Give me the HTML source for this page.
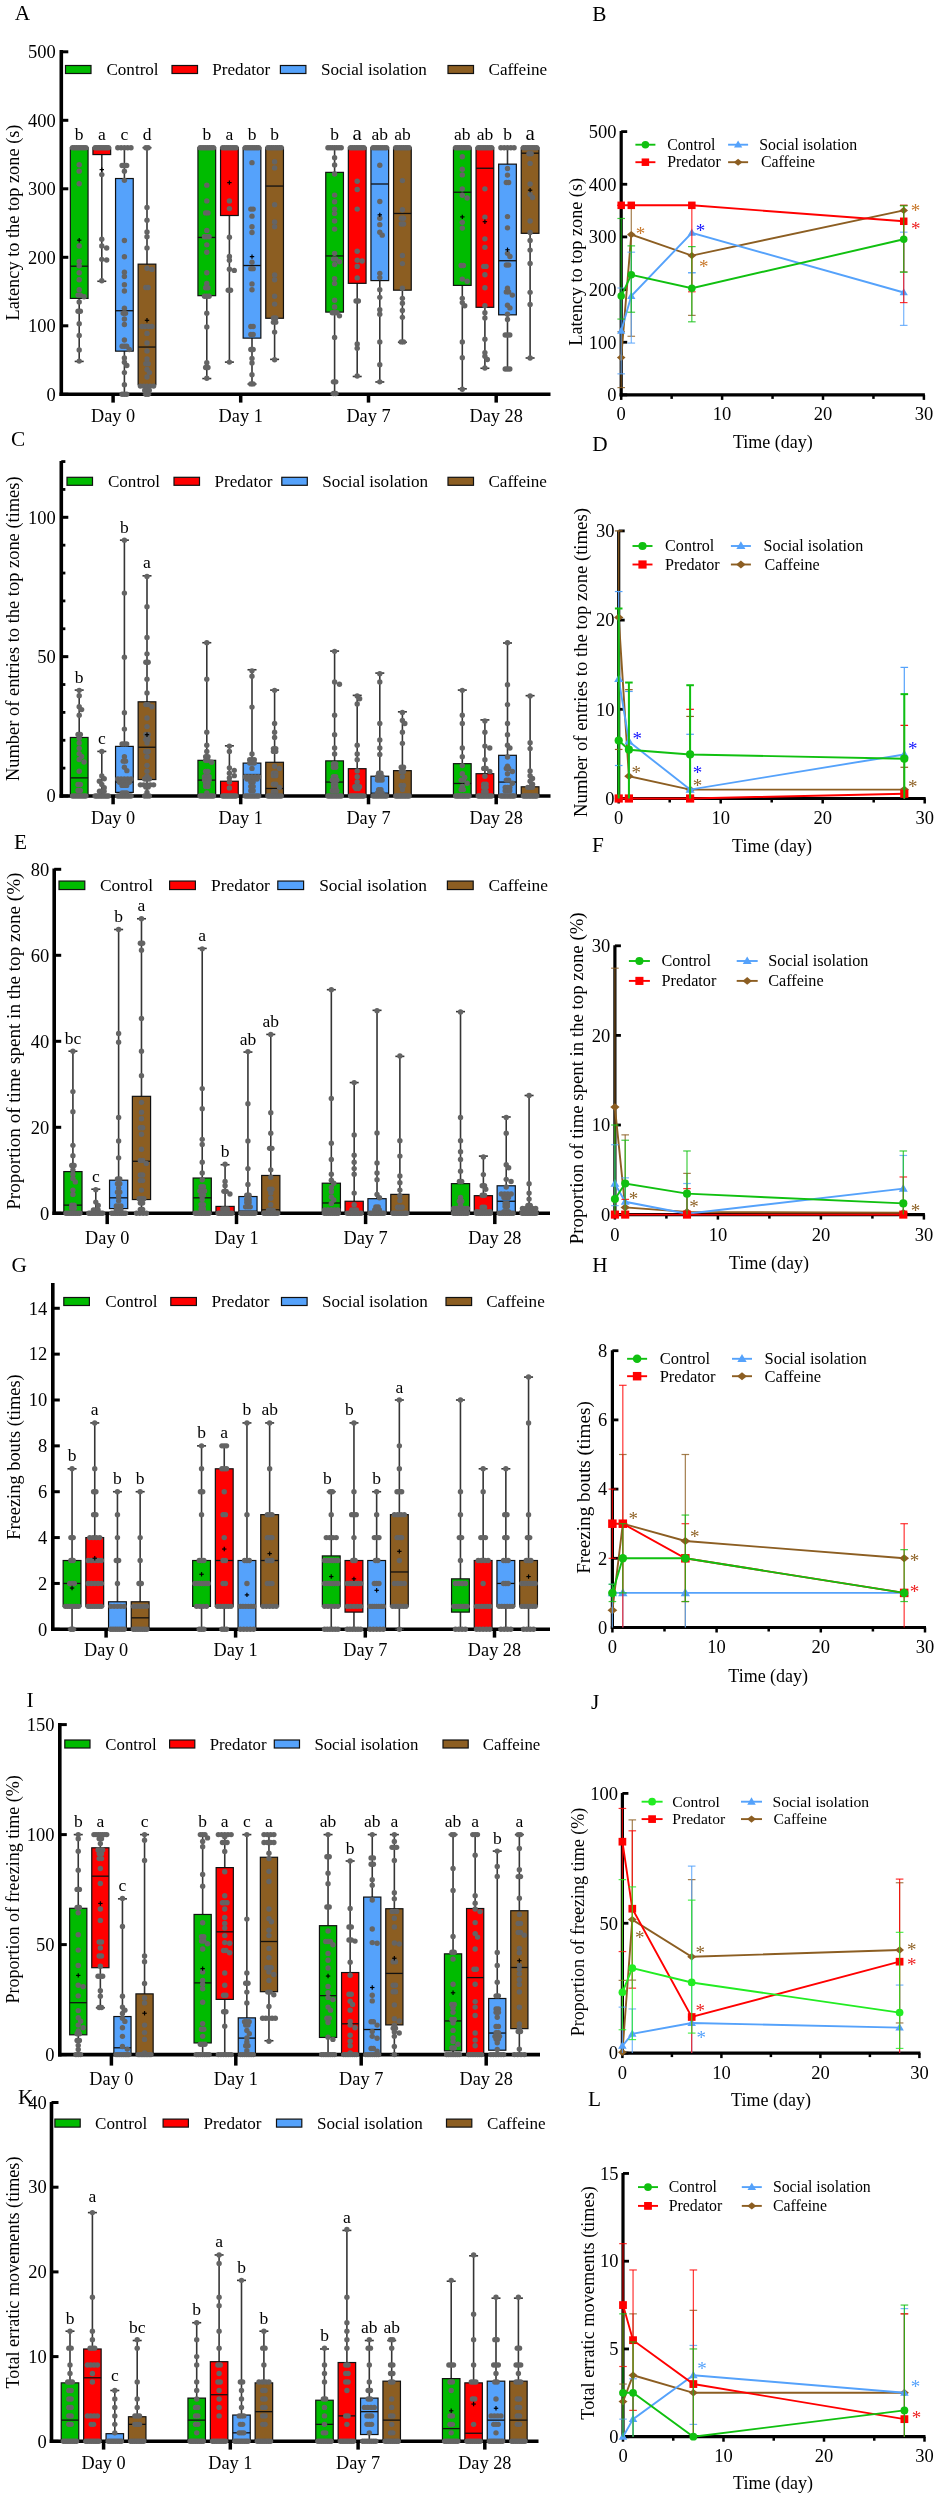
<!DOCTYPE html>
<html><head><meta charset="utf-8"><style>
html,body{margin:0;padding:0;background:#fff;}
svg{display:block;font-family:"Liberation Serif", serif;filter:blur(0.4px);}
</style></head><body>
<svg width="940" height="2500" viewBox="0 0 940 2500">
<rect width="940" height="2500" fill="#fff"/>
<line x1="61.3" y1="50" x2="61.3" y2="396.1" stroke="#000" stroke-width="3.6" />
<line x1="59.5" y1="394.3" x2="550.5" y2="394.3" stroke="#000" stroke-width="3.6" />
<line x1="113.1" y1="394.3" x2="113.1" y2="402.6" stroke="#000" stroke-width="3.5" />
<line x1="240.7" y1="394.3" x2="240.7" y2="402.6" stroke="#000" stroke-width="3.5" />
<line x1="368.5" y1="394.3" x2="368.5" y2="402.6" stroke="#000" stroke-width="3.5" />
<line x1="496.2" y1="394.3" x2="496.2" y2="402.6" stroke="#000" stroke-width="3.5" />
<line x1="79.2" y1="147.7" x2="79.2" y2="361.42" stroke="#353535" stroke-width="1.6" />
<line x1="74.7" y1="147.7" x2="83.7" y2="147.7" stroke="#353535" stroke-width="1.6" />
<line x1="74.7" y1="361.42" x2="83.7" y2="361.42" stroke="#353535" stroke-width="1.6" />
<rect x="70.35" y="147.7" width="17.7" height="150.7" fill="#00bb00" stroke="#111" stroke-width="1.2"/>
<line x1="70.35" y1="266.21" x2="88.05" y2="266.21" stroke="#111" stroke-width="1.3" />
<circle cx="72.55" cy="147.7" r="2.7" fill="#646464"/>
<circle cx="74.45" cy="147.7" r="2.7" fill="#646464"/>
<circle cx="76.35" cy="147.7" r="2.7" fill="#646464"/>
<circle cx="78.25" cy="147.7" r="2.7" fill="#646464"/>
<circle cx="80.15" cy="147.7" r="2.7" fill="#646464"/>
<circle cx="82.05" cy="147.7" r="2.7" fill="#646464"/>
<circle cx="83.95" cy="147.7" r="2.7" fill="#646464"/>
<circle cx="85.85" cy="147.7" r="2.7" fill="#646464"/>
<circle cx="79.2" cy="164.82" r="2.7" fill="#646464"/>
<circle cx="79.2" cy="171.13" r="2.7" fill="#646464"/>
<circle cx="79.2" cy="183.8" r="2.7" fill="#646464"/>
<circle cx="79.2" cy="245.93" r="2.7" fill="#646464"/>
<circle cx="79.2" cy="261.41" r="2.7" fill="#646464"/>
<circle cx="79.2" cy="265.86" r="2.7" fill="#646464"/>
<circle cx="79.2" cy="272.78" r="2.7" fill="#646464"/>
<circle cx="79.2" cy="279.7" r="2.7" fill="#646464"/>
<circle cx="79.2" cy="289.77" r="2.7" fill="#646464"/>
<circle cx="78.05" cy="295.11" r="2.7" fill="#646464"/>
<circle cx="80.35" cy="295.11" r="2.7" fill="#646464"/>
<circle cx="84.06" cy="296.69" r="2.7" fill="#646464"/>
<circle cx="79.2" cy="302.03" r="2.7" fill="#646464"/>
<circle cx="78.05" cy="311.28" r="2.7" fill="#646464"/>
<circle cx="80.35" cy="311.28" r="2.7" fill="#646464"/>
<circle cx="79.2" cy="323.81" r="2.7" fill="#646464"/>
<circle cx="79.2" cy="335.53" r="2.7" fill="#646464"/>
<circle cx="79.2" cy="349.91" r="2.7" fill="#646464"/>
<circle cx="79.2" cy="361.08" r="2.7" fill="#646464"/>
<line x1="77" y1="240.18" x2="81.4" y2="240.18" stroke="#000" stroke-width="1.2" />
<line x1="79.2" y1="237.98" x2="79.2" y2="242.38" stroke="#000" stroke-width="1.2" />
<text x="79.2" y="140.2" font-size="17.5" text-anchor="middle" fill="#000" >b</text>
<line x1="101.8" y1="147.7" x2="101.8" y2="281.27" stroke="#353535" stroke-width="1.6" />
<line x1="97.3" y1="147.7" x2="106.3" y2="147.7" stroke="#353535" stroke-width="1.6" />
<line x1="97.3" y1="281.27" x2="106.3" y2="281.27" stroke="#353535" stroke-width="1.6" />
<rect x="92.95" y="147.7" width="17.7" height="6.85" fill="#ff0000" stroke="#111" stroke-width="1.2"/>
<line x1="92.95" y1="147.7" x2="110.65" y2="147.7" stroke="#111" stroke-width="1.3" />
<circle cx="95.15" cy="147.7" r="2.7" fill="#646464"/>
<circle cx="96.81" cy="147.7" r="2.7" fill="#646464"/>
<circle cx="98.47" cy="147.7" r="2.7" fill="#646464"/>
<circle cx="100.14" cy="147.7" r="2.7" fill="#646464"/>
<circle cx="101.8" cy="147.7" r="2.7" fill="#646464"/>
<circle cx="103.46" cy="147.7" r="2.7" fill="#646464"/>
<circle cx="105.12" cy="147.7" r="2.7" fill="#646464"/>
<circle cx="106.79" cy="147.7" r="2.7" fill="#646464"/>
<circle cx="108.45" cy="147.7" r="2.7" fill="#646464"/>
<circle cx="101.8" cy="174.62" r="2.7" fill="#646464"/>
<circle cx="101.8" cy="239.15" r="2.7" fill="#646464"/>
<circle cx="101.8" cy="245.93" r="2.7" fill="#646464"/>
<circle cx="106.66" cy="247.98" r="2.7" fill="#646464"/>
<circle cx="101.8" cy="259.36" r="2.7" fill="#646464"/>
<circle cx="106.66" cy="260.04" r="2.7" fill="#646464"/>
<circle cx="101.8" cy="280.73" r="2.7" fill="#646464"/>
<line x1="99.6" y1="169.62" x2="104" y2="169.62" stroke="#000" stroke-width="1.2" />
<line x1="101.8" y1="167.42" x2="101.8" y2="171.82" stroke="#000" stroke-width="1.2" />
<text x="101.8" y="140.2" font-size="17.5" text-anchor="middle" fill="#000" >a</text>
<line x1="124.4" y1="147.7" x2="124.4" y2="394.3" stroke="#353535" stroke-width="1.6" />
<line x1="119.9" y1="147.7" x2="128.9" y2="147.7" stroke="#353535" stroke-width="1.6" />
<line x1="119.9" y1="394.3" x2="128.9" y2="394.3" stroke="#353535" stroke-width="1.6" />
<rect x="115.55" y="178.53" width="17.7" height="172.62" fill="#55a2fb" stroke="#111" stroke-width="1.2"/>
<line x1="115.55" y1="310.73" x2="133.25" y2="310.73" stroke="#111" stroke-width="1.3" />
<circle cx="117.8" cy="147.7" r="2.7" fill="#646464"/>
<circle cx="121.1" cy="147.7" r="2.7" fill="#646464"/>
<circle cx="124.4" cy="147.7" r="2.7" fill="#646464"/>
<circle cx="127.7" cy="147.7" r="2.7" fill="#646464"/>
<circle cx="131" cy="147.7" r="2.7" fill="#646464"/>
<circle cx="122.1" cy="165.51" r="2.7" fill="#646464"/>
<circle cx="124.4" cy="165.51" r="2.7" fill="#646464"/>
<circle cx="126.7" cy="165.51" r="2.7" fill="#646464"/>
<circle cx="124.4" cy="171.13" r="2.7" fill="#646464"/>
<circle cx="124.4" cy="180.37" r="2.7" fill="#646464"/>
<circle cx="124.4" cy="240.52" r="2.7" fill="#646464"/>
<circle cx="124.4" cy="256.82" r="2.7" fill="#646464"/>
<circle cx="124.4" cy="272.23" r="2.7" fill="#646464"/>
<circle cx="124.4" cy="276.48" r="2.7" fill="#646464"/>
<circle cx="124.4" cy="284.7" r="2.7" fill="#646464"/>
<circle cx="124.4" cy="291.07" r="2.7" fill="#646464"/>
<circle cx="124.4" cy="308.13" r="2.7" fill="#646464"/>
<circle cx="123.25" cy="313.2" r="2.7" fill="#646464"/>
<circle cx="125.55" cy="313.2" r="2.7" fill="#646464"/>
<circle cx="124.4" cy="319.02" r="2.7" fill="#646464"/>
<circle cx="124.4" cy="324.43" r="2.7" fill="#646464"/>
<circle cx="124.4" cy="339.98" r="2.7" fill="#646464"/>
<circle cx="122.1" cy="346.21" r="2.7" fill="#646464"/>
<circle cx="124.4" cy="346.21" r="2.7" fill="#646464"/>
<circle cx="126.7" cy="346.21" r="2.7" fill="#646464"/>
<circle cx="129.26" cy="349.43" r="2.7" fill="#646464"/>
<circle cx="124.4" cy="357.93" r="2.7" fill="#646464"/>
<circle cx="124.4" cy="362.31" r="2.7" fill="#646464"/>
<circle cx="126.83" cy="365.53" r="2.7" fill="#646464"/>
<circle cx="124.4" cy="372.59" r="2.7" fill="#646464"/>
<circle cx="124.4" cy="384.71" r="2.7" fill="#646464"/>
<circle cx="122.1" cy="394.3" r="2.7" fill="#646464"/>
<circle cx="124.4" cy="394.3" r="2.7" fill="#646464"/>
<circle cx="126.7" cy="394.3" r="2.7" fill="#646464"/>
<text x="124.4" y="140.2" font-size="17.5" text-anchor="middle" fill="#000" >c</text>
<line x1="147" y1="147.7" x2="147" y2="394.3" stroke="#353535" stroke-width="1.6" />
<line x1="142.5" y1="147.7" x2="151.5" y2="147.7" stroke="#353535" stroke-width="1.6" />
<line x1="142.5" y1="394.3" x2="151.5" y2="394.3" stroke="#353535" stroke-width="1.6" />
<rect x="138.15" y="264.15" width="17.7" height="120.56" fill="#8c5e22" stroke="#111" stroke-width="1.2"/>
<line x1="138.15" y1="347.04" x2="155.85" y2="347.04" stroke="#111" stroke-width="1.3" />
<circle cx="145.85" cy="147.7" r="2.7" fill="#646464"/>
<circle cx="148.15" cy="147.7" r="2.7" fill="#646464"/>
<circle cx="147" cy="207.57" r="2.7" fill="#646464"/>
<circle cx="147" cy="220.31" r="2.7" fill="#646464"/>
<circle cx="147" cy="231.96" r="2.7" fill="#646464"/>
<circle cx="147" cy="236.75" r="2.7" fill="#646464"/>
<circle cx="147" cy="247.98" r="2.7" fill="#646464"/>
<circle cx="147" cy="268.26" r="2.7" fill="#646464"/>
<circle cx="151.86" cy="269.42" r="2.7" fill="#646464"/>
<circle cx="145.85" cy="287.44" r="2.7" fill="#646464"/>
<circle cx="148.15" cy="287.44" r="2.7" fill="#646464"/>
<circle cx="142.05" cy="326.49" r="2.7" fill="#646464"/>
<circle cx="145.35" cy="326.49" r="2.7" fill="#646464"/>
<circle cx="148.65" cy="326.49" r="2.7" fill="#646464"/>
<circle cx="151.95" cy="326.49" r="2.7" fill="#646464"/>
<circle cx="147" cy="333.4" r="2.7" fill="#646464"/>
<circle cx="147" cy="342.99" r="2.7" fill="#646464"/>
<circle cx="147" cy="351.01" r="2.7" fill="#646464"/>
<circle cx="147" cy="358.89" r="2.7" fill="#646464"/>
<circle cx="145.85" cy="363.68" r="2.7" fill="#646464"/>
<circle cx="148.15" cy="363.68" r="2.7" fill="#646464"/>
<circle cx="147" cy="369.57" r="2.7" fill="#646464"/>
<circle cx="149.43" cy="372.59" r="2.7" fill="#646464"/>
<circle cx="147" cy="376.97" r="2.7" fill="#646464"/>
<circle cx="140.4" cy="386.08" r="2.7" fill="#646464"/>
<circle cx="143.7" cy="386.08" r="2.7" fill="#646464"/>
<circle cx="147" cy="386.08" r="2.7" fill="#646464"/>
<circle cx="150.3" cy="386.08" r="2.7" fill="#646464"/>
<circle cx="153.6" cy="386.08" r="2.7" fill="#646464"/>
<circle cx="144.7" cy="390.33" r="2.7" fill="#646464"/>
<circle cx="147" cy="390.33" r="2.7" fill="#646464"/>
<circle cx="149.3" cy="390.33" r="2.7" fill="#646464"/>
<circle cx="145.85" cy="394.3" r="2.7" fill="#646464"/>
<circle cx="148.15" cy="394.3" r="2.7" fill="#646464"/>
<line x1="144.8" y1="320.32" x2="149.2" y2="320.32" stroke="#000" stroke-width="1.2" />
<line x1="147" y1="318.12" x2="147" y2="322.52" stroke="#000" stroke-width="1.2" />
<text x="147" y="140.2" font-size="17.5" text-anchor="middle" fill="#000" >d</text>
<line x1="206.8" y1="147.7" x2="206.8" y2="378.55" stroke="#353535" stroke-width="1.6" />
<line x1="202.3" y1="147.7" x2="211.3" y2="147.7" stroke="#353535" stroke-width="1.6" />
<line x1="202.3" y1="378.55" x2="211.3" y2="378.55" stroke="#353535" stroke-width="1.6" />
<rect x="197.95" y="147.7" width="17.7" height="147.96" fill="#00bb00" stroke="#111" stroke-width="1.2"/>
<line x1="197.95" y1="237.44" x2="215.65" y2="237.44" stroke="#111" stroke-width="1.3" />
<circle cx="200.15" cy="147.7" r="2.7" fill="#646464"/>
<circle cx="202.05" cy="147.7" r="2.7" fill="#646464"/>
<circle cx="203.95" cy="147.7" r="2.7" fill="#646464"/>
<circle cx="205.85" cy="147.7" r="2.7" fill="#646464"/>
<circle cx="207.75" cy="147.7" r="2.7" fill="#646464"/>
<circle cx="209.65" cy="147.7" r="2.7" fill="#646464"/>
<circle cx="211.55" cy="147.7" r="2.7" fill="#646464"/>
<circle cx="213.45" cy="147.7" r="2.7" fill="#646464"/>
<circle cx="206.8" cy="185.17" r="2.7" fill="#646464"/>
<circle cx="206.8" cy="200.92" r="2.7" fill="#646464"/>
<circle cx="205.65" cy="212.91" r="2.7" fill="#646464"/>
<circle cx="207.95" cy="212.91" r="2.7" fill="#646464"/>
<circle cx="206.8" cy="230.38" r="2.7" fill="#646464"/>
<circle cx="204.5" cy="236.75" r="2.7" fill="#646464"/>
<circle cx="206.8" cy="236.75" r="2.7" fill="#646464"/>
<circle cx="209.1" cy="236.75" r="2.7" fill="#646464"/>
<circle cx="206.8" cy="244.83" r="2.7" fill="#646464"/>
<circle cx="206.8" cy="252.23" r="2.7" fill="#646464"/>
<circle cx="206.8" cy="272.78" r="2.7" fill="#646464"/>
<circle cx="206.8" cy="283.4" r="2.7" fill="#646464"/>
<circle cx="205.65" cy="287.71" r="2.7" fill="#646464"/>
<circle cx="207.95" cy="287.71" r="2.7" fill="#646464"/>
<circle cx="204.5" cy="296.21" r="2.7" fill="#646464"/>
<circle cx="206.8" cy="296.21" r="2.7" fill="#646464"/>
<circle cx="209.1" cy="296.21" r="2.7" fill="#646464"/>
<circle cx="206.8" cy="313.2" r="2.7" fill="#646464"/>
<circle cx="206.8" cy="327.03" r="2.7" fill="#646464"/>
<circle cx="206.8" cy="362.72" r="2.7" fill="#646464"/>
<circle cx="205.65" cy="367.45" r="2.7" fill="#646464"/>
<circle cx="207.95" cy="367.45" r="2.7" fill="#646464"/>
<circle cx="206.8" cy="378.27" r="2.7" fill="#646464"/>
<text x="206.8" y="140.2" font-size="17.5" text-anchor="middle" fill="#000" >b</text>
<line x1="229.4" y1="147.7" x2="229.4" y2="362.11" stroke="#353535" stroke-width="1.6" />
<line x1="224.9" y1="147.7" x2="233.9" y2="147.7" stroke="#353535" stroke-width="1.6" />
<line x1="224.9" y1="362.11" x2="233.9" y2="362.11" stroke="#353535" stroke-width="1.6" />
<rect x="220.55" y="147.7" width="17.7" height="67.81" fill="#ff0000" stroke="#111" stroke-width="1.2"/>
<line x1="220.55" y1="147.7" x2="238.25" y2="147.7" stroke="#111" stroke-width="1.3" />
<circle cx="222.75" cy="147.7" r="2.7" fill="#646464"/>
<circle cx="224.65" cy="147.7" r="2.7" fill="#646464"/>
<circle cx="226.55" cy="147.7" r="2.7" fill="#646464"/>
<circle cx="228.45" cy="147.7" r="2.7" fill="#646464"/>
<circle cx="230.35" cy="147.7" r="2.7" fill="#646464"/>
<circle cx="232.25" cy="147.7" r="2.7" fill="#646464"/>
<circle cx="234.15" cy="147.7" r="2.7" fill="#646464"/>
<circle cx="236.05" cy="147.7" r="2.7" fill="#646464"/>
<circle cx="229.4" cy="200.92" r="2.7" fill="#646464"/>
<circle cx="229.4" cy="208.6" r="2.7" fill="#646464"/>
<circle cx="229.4" cy="237.3" r="2.7" fill="#646464"/>
<circle cx="229.4" cy="256.48" r="2.7" fill="#646464"/>
<circle cx="229.4" cy="260.18" r="2.7" fill="#646464"/>
<circle cx="229.4" cy="269.29" r="2.7" fill="#646464"/>
<circle cx="234.26" cy="270.38" r="2.7" fill="#646464"/>
<circle cx="228.25" cy="290.32" r="2.7" fill="#646464"/>
<circle cx="230.55" cy="290.32" r="2.7" fill="#646464"/>
<circle cx="229.4" cy="362.11" r="2.7" fill="#646464"/>
<line x1="227.2" y1="182.63" x2="231.6" y2="182.63" stroke="#000" stroke-width="1.2" />
<line x1="229.4" y1="180.44" x2="229.4" y2="184.83" stroke="#000" stroke-width="1.2" />
<text x="229.4" y="140.2" font-size="17.5" text-anchor="middle" fill="#000" >a</text>
<line x1="252" y1="147.7" x2="252" y2="384.03" stroke="#353535" stroke-width="1.6" />
<line x1="247.5" y1="147.7" x2="256.5" y2="147.7" stroke="#353535" stroke-width="1.6" />
<line x1="247.5" y1="384.03" x2="256.5" y2="384.03" stroke="#353535" stroke-width="1.6" />
<rect x="243.15" y="147.7" width="17.7" height="190.43" fill="#55a2fb" stroke="#111" stroke-width="1.2"/>
<line x1="243.15" y1="265.52" x2="260.85" y2="265.52" stroke="#111" stroke-width="1.3" />
<circle cx="245.35" cy="147.7" r="2.7" fill="#646464"/>
<circle cx="247.25" cy="147.7" r="2.7" fill="#646464"/>
<circle cx="249.15" cy="147.7" r="2.7" fill="#646464"/>
<circle cx="251.05" cy="147.7" r="2.7" fill="#646464"/>
<circle cx="252.95" cy="147.7" r="2.7" fill="#646464"/>
<circle cx="254.85" cy="147.7" r="2.7" fill="#646464"/>
<circle cx="256.75" cy="147.7" r="2.7" fill="#646464"/>
<circle cx="258.65" cy="147.7" r="2.7" fill="#646464"/>
<circle cx="252" cy="162.63" r="2.7" fill="#646464"/>
<circle cx="250.85" cy="209.08" r="2.7" fill="#646464"/>
<circle cx="253.15" cy="209.08" r="2.7" fill="#646464"/>
<circle cx="252" cy="216.13" r="2.7" fill="#646464"/>
<circle cx="252" cy="226.68" r="2.7" fill="#646464"/>
<circle cx="252" cy="232.57" r="2.7" fill="#646464"/>
<circle cx="252" cy="262.3" r="2.7" fill="#646464"/>
<circle cx="250.85" cy="268.67" r="2.7" fill="#646464"/>
<circle cx="253.15" cy="268.67" r="2.7" fill="#646464"/>
<circle cx="252" cy="283.88" r="2.7" fill="#646464"/>
<circle cx="252" cy="289.77" r="2.7" fill="#646464"/>
<circle cx="250.85" cy="326.49" r="2.7" fill="#646464"/>
<circle cx="253.15" cy="326.49" r="2.7" fill="#646464"/>
<circle cx="250.85" cy="334.5" r="2.7" fill="#646464"/>
<circle cx="253.15" cy="334.5" r="2.7" fill="#646464"/>
<circle cx="250.85" cy="349.43" r="2.7" fill="#646464"/>
<circle cx="253.15" cy="349.43" r="2.7" fill="#646464"/>
<circle cx="252" cy="358.41" r="2.7" fill="#646464"/>
<circle cx="252" cy="363" r="2.7" fill="#646464"/>
<circle cx="252" cy="374.71" r="2.7" fill="#646464"/>
<circle cx="250.85" cy="383.89" r="2.7" fill="#646464"/>
<circle cx="253.15" cy="383.89" r="2.7" fill="#646464"/>
<line x1="249.8" y1="256.62" x2="254.2" y2="256.62" stroke="#000" stroke-width="1.2" />
<line x1="252" y1="254.42" x2="252" y2="258.81" stroke="#000" stroke-width="1.2" />
<text x="252" y="140.2" font-size="17.5" text-anchor="middle" fill="#000" >b</text>
<line x1="274.6" y1="147.7" x2="274.6" y2="359.37" stroke="#353535" stroke-width="1.6" />
<line x1="270.1" y1="147.7" x2="279.1" y2="147.7" stroke="#353535" stroke-width="1.6" />
<line x1="270.1" y1="359.37" x2="279.1" y2="359.37" stroke="#353535" stroke-width="1.6" />
<rect x="265.75" y="147.7" width="17.7" height="170.56" fill="#8c5e22" stroke="#111" stroke-width="1.2"/>
<line x1="265.75" y1="186.06" x2="283.45" y2="186.06" stroke="#111" stroke-width="1.3" />
<circle cx="267.95" cy="147.7" r="2.7" fill="#646464"/>
<circle cx="269.85" cy="147.7" r="2.7" fill="#646464"/>
<circle cx="271.75" cy="147.7" r="2.7" fill="#646464"/>
<circle cx="273.65" cy="147.7" r="2.7" fill="#646464"/>
<circle cx="275.55" cy="147.7" r="2.7" fill="#646464"/>
<circle cx="277.45" cy="147.7" r="2.7" fill="#646464"/>
<circle cx="279.35" cy="147.7" r="2.7" fill="#646464"/>
<circle cx="281.25" cy="147.7" r="2.7" fill="#646464"/>
<circle cx="274.6" cy="161.81" r="2.7" fill="#646464"/>
<circle cx="274.6" cy="167.91" r="2.7" fill="#646464"/>
<circle cx="274.6" cy="204.69" r="2.7" fill="#646464"/>
<circle cx="274.6" cy="221.89" r="2.7" fill="#646464"/>
<circle cx="274.6" cy="226.68" r="2.7" fill="#646464"/>
<circle cx="274.6" cy="274.9" r="2.7" fill="#646464"/>
<circle cx="274.6" cy="279.7" r="2.7" fill="#646464"/>
<circle cx="274.6" cy="296.21" r="2.7" fill="#646464"/>
<circle cx="274.6" cy="304.09" r="2.7" fill="#646464"/>
<circle cx="273.45" cy="317.99" r="2.7" fill="#646464"/>
<circle cx="275.75" cy="317.99" r="2.7" fill="#646464"/>
<circle cx="273.45" cy="322.17" r="2.7" fill="#646464"/>
<circle cx="275.75" cy="322.17" r="2.7" fill="#646464"/>
<circle cx="274.6" cy="332.1" r="2.7" fill="#646464"/>
<circle cx="274.6" cy="359.78" r="2.7" fill="#646464"/>
<text x="274.6" y="140.2" font-size="17.5" text-anchor="middle" fill="#000" >b</text>
<line x1="334.6" y1="147.7" x2="334.6" y2="394.3" stroke="#353535" stroke-width="1.6" />
<line x1="330.1" y1="147.7" x2="339.1" y2="147.7" stroke="#353535" stroke-width="1.6" />
<line x1="330.1" y1="394.3" x2="339.1" y2="394.3" stroke="#353535" stroke-width="1.6" />
<rect x="325.75" y="172.36" width="17.7" height="139.74" fill="#00bb00" stroke="#111" stroke-width="1.2"/>
<line x1="325.75" y1="255.93" x2="343.45" y2="255.93" stroke="#111" stroke-width="1.3" />
<circle cx="327.95" cy="147.7" r="2.7" fill="#646464"/>
<circle cx="330.17" cy="147.7" r="2.7" fill="#646464"/>
<circle cx="332.38" cy="147.7" r="2.7" fill="#646464"/>
<circle cx="334.6" cy="147.7" r="2.7" fill="#646464"/>
<circle cx="336.82" cy="147.7" r="2.7" fill="#646464"/>
<circle cx="339.03" cy="147.7" r="2.7" fill="#646464"/>
<circle cx="341.25" cy="147.7" r="2.7" fill="#646464"/>
<circle cx="334.6" cy="157.63" r="2.7" fill="#646464"/>
<circle cx="334.6" cy="165.03" r="2.7" fill="#646464"/>
<circle cx="334.6" cy="174" r="2.7" fill="#646464"/>
<circle cx="334.6" cy="195.1" r="2.7" fill="#646464"/>
<circle cx="334.6" cy="201.68" r="2.7" fill="#646464"/>
<circle cx="334.6" cy="209.08" r="2.7" fill="#646464"/>
<circle cx="334.6" cy="213.39" r="2.7" fill="#646464"/>
<circle cx="334.6" cy="221.06" r="2.7" fill="#646464"/>
<circle cx="334.6" cy="229.08" r="2.7" fill="#646464"/>
<circle cx="334.6" cy="253.33" r="2.7" fill="#646464"/>
<circle cx="333.45" cy="259.08" r="2.7" fill="#646464"/>
<circle cx="335.75" cy="259.08" r="2.7" fill="#646464"/>
<circle cx="339.46" cy="261.82" r="2.7" fill="#646464"/>
<circle cx="334.6" cy="264.49" r="2.7" fill="#646464"/>
<circle cx="334.6" cy="278.6" r="2.7" fill="#646464"/>
<circle cx="334.6" cy="283.4" r="2.7" fill="#646464"/>
<circle cx="334.6" cy="300.18" r="2.7" fill="#646464"/>
<circle cx="334.6" cy="307.03" r="2.7" fill="#646464"/>
<circle cx="332.3" cy="312.72" r="2.7" fill="#646464"/>
<circle cx="334.6" cy="312.72" r="2.7" fill="#646464"/>
<circle cx="336.9" cy="312.72" r="2.7" fill="#646464"/>
<circle cx="339.46" cy="315.87" r="2.7" fill="#646464"/>
<circle cx="334.6" cy="337.38" r="2.7" fill="#646464"/>
<circle cx="333.45" cy="381.83" r="2.7" fill="#646464"/>
<circle cx="335.75" cy="381.83" r="2.7" fill="#646464"/>
<circle cx="333.45" cy="393.48" r="2.7" fill="#646464"/>
<circle cx="335.75" cy="393.48" r="2.7" fill="#646464"/>
<text x="334.6" y="140.2" font-size="17.5" text-anchor="middle" fill="#000" >b</text>
<line x1="357.2" y1="147.7" x2="357.2" y2="376.49" stroke="#353535" stroke-width="1.6" />
<line x1="352.7" y1="147.7" x2="361.7" y2="147.7" stroke="#353535" stroke-width="1.6" />
<line x1="352.7" y1="376.49" x2="361.7" y2="376.49" stroke="#353535" stroke-width="1.6" />
<rect x="348.35" y="147.7" width="17.7" height="135.63" fill="#ff0000" stroke="#111" stroke-width="1.2"/>
<line x1="348.35" y1="147.7" x2="366.05" y2="147.7" stroke="#111" stroke-width="1.3" />
<circle cx="350.55" cy="147.7" r="2.7" fill="#646464"/>
<circle cx="352.45" cy="147.7" r="2.7" fill="#646464"/>
<circle cx="354.35" cy="147.7" r="2.7" fill="#646464"/>
<circle cx="356.25" cy="147.7" r="2.7" fill="#646464"/>
<circle cx="358.15" cy="147.7" r="2.7" fill="#646464"/>
<circle cx="360.05" cy="147.7" r="2.7" fill="#646464"/>
<circle cx="361.95" cy="147.7" r="2.7" fill="#646464"/>
<circle cx="363.85" cy="147.7" r="2.7" fill="#646464"/>
<circle cx="357.2" cy="181.26" r="2.7" fill="#646464"/>
<circle cx="357.2" cy="189.48" r="2.7" fill="#646464"/>
<circle cx="357.2" cy="209.08" r="2.7" fill="#646464"/>
<circle cx="357.2" cy="251.2" r="2.7" fill="#646464"/>
<circle cx="357.2" cy="260.18" r="2.7" fill="#646464"/>
<circle cx="362.06" cy="261.07" r="2.7" fill="#646464"/>
<circle cx="357.2" cy="266.41" r="2.7" fill="#646464"/>
<circle cx="357.2" cy="277.92" r="2.7" fill="#646464"/>
<circle cx="356.05" cy="301" r="2.7" fill="#646464"/>
<circle cx="358.35" cy="301" r="2.7" fill="#646464"/>
<circle cx="357.2" cy="344.02" r="2.7" fill="#646464"/>
<circle cx="357.2" cy="348.27" r="2.7" fill="#646464"/>
<circle cx="357.2" cy="376.01" r="2.7" fill="#646464"/>
<text x="357.2" y="140.2" font-size="21" text-anchor="middle" fill="#000" >a</text>
<line x1="379.8" y1="147.7" x2="379.8" y2="381.97" stroke="#353535" stroke-width="1.6" />
<line x1="375.3" y1="147.7" x2="384.3" y2="147.7" stroke="#353535" stroke-width="1.6" />
<line x1="375.3" y1="381.97" x2="384.3" y2="381.97" stroke="#353535" stroke-width="1.6" />
<rect x="370.95" y="147.7" width="17.7" height="132.89" fill="#55a2fb" stroke="#111" stroke-width="1.2"/>
<line x1="370.95" y1="184" x2="388.65" y2="184" stroke="#111" stroke-width="1.3" />
<circle cx="373.15" cy="147.7" r="2.7" fill="#646464"/>
<circle cx="375.05" cy="147.7" r="2.7" fill="#646464"/>
<circle cx="376.95" cy="147.7" r="2.7" fill="#646464"/>
<circle cx="378.85" cy="147.7" r="2.7" fill="#646464"/>
<circle cx="380.75" cy="147.7" r="2.7" fill="#646464"/>
<circle cx="382.65" cy="147.7" r="2.7" fill="#646464"/>
<circle cx="384.55" cy="147.7" r="2.7" fill="#646464"/>
<circle cx="386.45" cy="147.7" r="2.7" fill="#646464"/>
<circle cx="379.8" cy="165.3" r="2.7" fill="#646464"/>
<circle cx="379.8" cy="201.47" r="2.7" fill="#646464"/>
<circle cx="379.8" cy="218.19" r="2.7" fill="#646464"/>
<circle cx="379.8" cy="224.63" r="2.7" fill="#646464"/>
<circle cx="379.8" cy="232.3" r="2.7" fill="#646464"/>
<circle cx="382.23" cy="235.17" r="2.7" fill="#646464"/>
<circle cx="379.8" cy="273.33" r="2.7" fill="#646464"/>
<circle cx="379.8" cy="277.58" r="2.7" fill="#646464"/>
<circle cx="379.8" cy="289.63" r="2.7" fill="#646464"/>
<circle cx="379.8" cy="297.37" r="2.7" fill="#646464"/>
<circle cx="379.8" cy="309.77" r="2.7" fill="#646464"/>
<circle cx="379.8" cy="314.29" r="2.7" fill="#646464"/>
<circle cx="379.8" cy="341.9" r="2.7" fill="#646464"/>
<circle cx="379.8" cy="364.78" r="2.7" fill="#646464"/>
<circle cx="379.8" cy="381.83" r="2.7" fill="#646464"/>
<line x1="377.6" y1="214.83" x2="382" y2="214.83" stroke="#000" stroke-width="1.2" />
<line x1="379.8" y1="212.63" x2="379.8" y2="217.03" stroke="#000" stroke-width="1.2" />
<text x="379.8" y="140.2" font-size="17.5" text-anchor="middle" fill="#000" >ab</text>
<line x1="402.4" y1="147.7" x2="402.4" y2="342.24" stroke="#353535" stroke-width="1.6" />
<line x1="397.9" y1="147.7" x2="406.9" y2="147.7" stroke="#353535" stroke-width="1.6" />
<line x1="397.9" y1="342.24" x2="406.9" y2="342.24" stroke="#353535" stroke-width="1.6" />
<rect x="393.55" y="147.7" width="17.7" height="142.48" fill="#8c5e22" stroke="#111" stroke-width="1.2"/>
<line x1="393.55" y1="213.46" x2="411.25" y2="213.46" stroke="#111" stroke-width="1.3" />
<circle cx="395.75" cy="147.7" r="2.7" fill="#646464"/>
<circle cx="397.65" cy="147.7" r="2.7" fill="#646464"/>
<circle cx="399.55" cy="147.7" r="2.7" fill="#646464"/>
<circle cx="401.45" cy="147.7" r="2.7" fill="#646464"/>
<circle cx="403.35" cy="147.7" r="2.7" fill="#646464"/>
<circle cx="405.25" cy="147.7" r="2.7" fill="#646464"/>
<circle cx="407.15" cy="147.7" r="2.7" fill="#646464"/>
<circle cx="409.05" cy="147.7" r="2.7" fill="#646464"/>
<circle cx="402.4" cy="180.58" r="2.7" fill="#646464"/>
<circle cx="402.4" cy="209.69" r="2.7" fill="#646464"/>
<circle cx="401.25" cy="218.19" r="2.7" fill="#646464"/>
<circle cx="403.55" cy="218.19" r="2.7" fill="#646464"/>
<circle cx="401.25" cy="224.01" r="2.7" fill="#646464"/>
<circle cx="403.55" cy="224.01" r="2.7" fill="#646464"/>
<circle cx="402.4" cy="255.38" r="2.7" fill="#646464"/>
<circle cx="402.4" cy="263.6" r="2.7" fill="#646464"/>
<circle cx="402.4" cy="288.19" r="2.7" fill="#646464"/>
<circle cx="402.4" cy="298.33" r="2.7" fill="#646464"/>
<circle cx="402.4" cy="303.13" r="2.7" fill="#646464"/>
<circle cx="402.4" cy="310.52" r="2.7" fill="#646464"/>
<circle cx="402.4" cy="317.37" r="2.7" fill="#646464"/>
<circle cx="401.25" cy="341.9" r="2.7" fill="#646464"/>
<circle cx="403.55" cy="341.9" r="2.7" fill="#646464"/>
<text x="402.4" y="140.2" font-size="17.5" text-anchor="middle" fill="#000" >ab</text>
<line x1="462.3" y1="147.7" x2="462.3" y2="388.82" stroke="#353535" stroke-width="1.6" />
<line x1="457.8" y1="147.7" x2="466.8" y2="147.7" stroke="#353535" stroke-width="1.6" />
<line x1="457.8" y1="388.82" x2="466.8" y2="388.82" stroke="#353535" stroke-width="1.6" />
<rect x="453.45" y="147.7" width="17.7" height="137.69" fill="#00bb00" stroke="#111" stroke-width="1.2"/>
<line x1="453.45" y1="192.22" x2="471.15" y2="192.22" stroke="#111" stroke-width="1.3" />
<circle cx="455.65" cy="147.7" r="2.7" fill="#646464"/>
<circle cx="457.55" cy="147.7" r="2.7" fill="#646464"/>
<circle cx="459.45" cy="147.7" r="2.7" fill="#646464"/>
<circle cx="461.35" cy="147.7" r="2.7" fill="#646464"/>
<circle cx="463.25" cy="147.7" r="2.7" fill="#646464"/>
<circle cx="465.15" cy="147.7" r="2.7" fill="#646464"/>
<circle cx="467.05" cy="147.7" r="2.7" fill="#646464"/>
<circle cx="468.95" cy="147.7" r="2.7" fill="#646464"/>
<circle cx="462.3" cy="156.81" r="2.7" fill="#646464"/>
<circle cx="462.3" cy="169.28" r="2.7" fill="#646464"/>
<circle cx="462.3" cy="174.89" r="2.7" fill="#646464"/>
<circle cx="462.3" cy="188.87" r="2.7" fill="#646464"/>
<circle cx="462.3" cy="195.31" r="2.7" fill="#646464"/>
<circle cx="467.16" cy="197.98" r="2.7" fill="#646464"/>
<circle cx="462.3" cy="222.37" r="2.7" fill="#646464"/>
<circle cx="462.3" cy="228.12" r="2.7" fill="#646464"/>
<circle cx="461.15" cy="265.52" r="2.7" fill="#646464"/>
<circle cx="463.45" cy="265.52" r="2.7" fill="#646464"/>
<circle cx="462.3" cy="279.08" r="2.7" fill="#646464"/>
<circle cx="467.16" cy="281.27" r="2.7" fill="#646464"/>
<circle cx="462.3" cy="298.33" r="2.7" fill="#646464"/>
<circle cx="462.3" cy="302.58" r="2.7" fill="#646464"/>
<circle cx="464.73" cy="305.73" r="2.7" fill="#646464"/>
<circle cx="462.3" cy="341.9" r="2.7" fill="#646464"/>
<circle cx="462.3" cy="357.72" r="2.7" fill="#646464"/>
<circle cx="462.3" cy="389.3" r="2.7" fill="#646464"/>
<line x1="460.1" y1="216.88" x2="464.5" y2="216.88" stroke="#000" stroke-width="1.2" />
<line x1="462.3" y1="214.69" x2="462.3" y2="219.08" stroke="#000" stroke-width="1.2" />
<text x="462.3" y="140.2" font-size="17.5" text-anchor="middle" fill="#000" >ab</text>
<line x1="484.9" y1="147.7" x2="484.9" y2="368.27" stroke="#353535" stroke-width="1.6" />
<line x1="480.4" y1="147.7" x2="489.4" y2="147.7" stroke="#353535" stroke-width="1.6" />
<line x1="480.4" y1="368.27" x2="489.4" y2="368.27" stroke="#353535" stroke-width="1.6" />
<rect x="476.05" y="147.7" width="17.7" height="159.61" fill="#ff0000" stroke="#111" stroke-width="1.2"/>
<line x1="476.05" y1="168.25" x2="493.75" y2="168.25" stroke="#111" stroke-width="1.3" />
<circle cx="478.25" cy="147.7" r="2.7" fill="#646464"/>
<circle cx="480.15" cy="147.7" r="2.7" fill="#646464"/>
<circle cx="482.05" cy="147.7" r="2.7" fill="#646464"/>
<circle cx="483.95" cy="147.7" r="2.7" fill="#646464"/>
<circle cx="485.85" cy="147.7" r="2.7" fill="#646464"/>
<circle cx="487.75" cy="147.7" r="2.7" fill="#646464"/>
<circle cx="489.65" cy="147.7" r="2.7" fill="#646464"/>
<circle cx="491.55" cy="147.7" r="2.7" fill="#646464"/>
<circle cx="484.9" cy="188.87" r="2.7" fill="#646464"/>
<circle cx="484.9" cy="217.09" r="2.7" fill="#646464"/>
<circle cx="484.9" cy="238.87" r="2.7" fill="#646464"/>
<circle cx="484.9" cy="247.37" r="2.7" fill="#646464"/>
<circle cx="483.75" cy="266.41" r="2.7" fill="#646464"/>
<circle cx="486.05" cy="266.41" r="2.7" fill="#646464"/>
<circle cx="484.9" cy="274.7" r="2.7" fill="#646464"/>
<circle cx="484.9" cy="287.71" r="2.7" fill="#646464"/>
<circle cx="484.9" cy="305.73" r="2.7" fill="#646464"/>
<circle cx="484.9" cy="312.72" r="2.7" fill="#646464"/>
<circle cx="484.9" cy="317.99" r="2.7" fill="#646464"/>
<circle cx="484.9" cy="339.29" r="2.7" fill="#646464"/>
<circle cx="484.9" cy="352.58" r="2.7" fill="#646464"/>
<circle cx="484.9" cy="356.28" r="2.7" fill="#646464"/>
<circle cx="487.33" cy="359.5" r="2.7" fill="#646464"/>
<circle cx="484.9" cy="368" r="2.7" fill="#646464"/>
<line x1="482.7" y1="221.68" x2="487.1" y2="221.68" stroke="#000" stroke-width="1.2" />
<line x1="484.9" y1="219.48" x2="484.9" y2="223.88" stroke="#000" stroke-width="1.2" />
<text x="484.9" y="140.2" font-size="17.5" text-anchor="middle" fill="#000" >ab</text>
<line x1="507.5" y1="147.7" x2="507.5" y2="368.95" stroke="#353535" stroke-width="1.6" />
<line x1="503" y1="147.7" x2="512" y2="147.7" stroke="#353535" stroke-width="1.6" />
<line x1="503" y1="368.95" x2="512" y2="368.95" stroke="#353535" stroke-width="1.6" />
<rect x="498.65" y="164.14" width="17.7" height="150.7" fill="#55a2fb" stroke="#111" stroke-width="1.2"/>
<line x1="498.65" y1="260.73" x2="516.35" y2="260.73" stroke="#111" stroke-width="1.3" />
<circle cx="500.9" cy="147.7" r="2.7" fill="#646464"/>
<circle cx="504.2" cy="147.7" r="2.7" fill="#646464"/>
<circle cx="507.5" cy="147.7" r="2.7" fill="#646464"/>
<circle cx="510.8" cy="147.7" r="2.7" fill="#646464"/>
<circle cx="514.1" cy="147.7" r="2.7" fill="#646464"/>
<circle cx="507.5" cy="168.52" r="2.7" fill="#646464"/>
<circle cx="507.5" cy="175.1" r="2.7" fill="#646464"/>
<circle cx="506.35" cy="182.57" r="2.7" fill="#646464"/>
<circle cx="508.65" cy="182.57" r="2.7" fill="#646464"/>
<circle cx="507.5" cy="216.61" r="2.7" fill="#646464"/>
<circle cx="507.5" cy="227.84" r="2.7" fill="#646464"/>
<circle cx="507.5" cy="253.33" r="2.7" fill="#646464"/>
<circle cx="509.93" cy="256.48" r="2.7" fill="#646464"/>
<circle cx="506.35" cy="264.97" r="2.7" fill="#646464"/>
<circle cx="508.65" cy="264.97" r="2.7" fill="#646464"/>
<circle cx="507.5" cy="288.19" r="2.7" fill="#646464"/>
<circle cx="506.35" cy="291.89" r="2.7" fill="#646464"/>
<circle cx="508.65" cy="291.89" r="2.7" fill="#646464"/>
<circle cx="512.36" cy="295.11" r="2.7" fill="#646464"/>
<circle cx="507.5" cy="305.18" r="2.7" fill="#646464"/>
<circle cx="509.93" cy="307.92" r="2.7" fill="#646464"/>
<circle cx="507.5" cy="314.29" r="2.7" fill="#646464"/>
<circle cx="507.5" cy="319.57" r="2.7" fill="#646464"/>
<circle cx="505.2" cy="334.98" r="2.7" fill="#646464"/>
<circle cx="507.5" cy="334.98" r="2.7" fill="#646464"/>
<circle cx="509.8" cy="334.98" r="2.7" fill="#646464"/>
<circle cx="505.2" cy="369.02" r="2.7" fill="#646464"/>
<circle cx="507.5" cy="369.02" r="2.7" fill="#646464"/>
<circle cx="509.8" cy="369.02" r="2.7" fill="#646464"/>
<line x1="505.3" y1="249.76" x2="509.7" y2="249.76" stroke="#000" stroke-width="1.2" />
<line x1="507.5" y1="247.56" x2="507.5" y2="251.96" stroke="#000" stroke-width="1.2" />
<text x="507.5" y="140.2" font-size="17.5" text-anchor="middle" fill="#000" >b</text>
<line x1="530.1" y1="147.7" x2="530.1" y2="358" stroke="#353535" stroke-width="1.6" />
<line x1="525.6" y1="147.7" x2="534.6" y2="147.7" stroke="#353535" stroke-width="1.6" />
<line x1="525.6" y1="358" x2="534.6" y2="358" stroke="#353535" stroke-width="1.6" />
<rect x="521.25" y="147.7" width="17.7" height="85.62" fill="#8c5e22" stroke="#111" stroke-width="1.2"/>
<line x1="521.25" y1="153.18" x2="538.95" y2="153.18" stroke="#111" stroke-width="1.3" />
<circle cx="523.45" cy="147.7" r="2.7" fill="#646464"/>
<circle cx="525.35" cy="147.7" r="2.7" fill="#646464"/>
<circle cx="527.25" cy="147.7" r="2.7" fill="#646464"/>
<circle cx="529.15" cy="147.7" r="2.7" fill="#646464"/>
<circle cx="531.05" cy="147.7" r="2.7" fill="#646464"/>
<circle cx="532.95" cy="147.7" r="2.7" fill="#646464"/>
<circle cx="534.85" cy="147.7" r="2.7" fill="#646464"/>
<circle cx="536.75" cy="147.7" r="2.7" fill="#646464"/>
<circle cx="528.95" cy="153.8" r="2.7" fill="#646464"/>
<circle cx="531.25" cy="153.8" r="2.7" fill="#646464"/>
<circle cx="530.1" cy="163.39" r="2.7" fill="#646464"/>
<circle cx="530.1" cy="184.07" r="2.7" fill="#646464"/>
<circle cx="530.1" cy="194.28" r="2.7" fill="#646464"/>
<circle cx="532.53" cy="197.43" r="2.7" fill="#646464"/>
<circle cx="530.1" cy="220.93" r="2.7" fill="#646464"/>
<circle cx="530.1" cy="232.57" r="2.7" fill="#646464"/>
<circle cx="530.1" cy="240.52" r="2.7" fill="#646464"/>
<circle cx="530.1" cy="250.11" r="2.7" fill="#646464"/>
<circle cx="530.1" cy="263.4" r="2.7" fill="#646464"/>
<circle cx="530.1" cy="292.37" r="2.7" fill="#646464"/>
<circle cx="530.1" cy="304.5" r="2.7" fill="#646464"/>
<circle cx="530.1" cy="357.93" r="2.7" fill="#646464"/>
<line x1="527.9" y1="190.17" x2="532.3" y2="190.17" stroke="#000" stroke-width="1.2" />
<line x1="530.1" y1="187.97" x2="530.1" y2="192.37" stroke="#000" stroke-width="1.2" />
<text x="530.1" y="140.2" font-size="21" text-anchor="middle" fill="#000" >a</text>
<line x1="61.3" y1="394.3" x2="68.3" y2="394.3" stroke="#000" stroke-width="3" />
<text x="55.7" y="400.59" font-size="18.5" text-anchor="end" fill="#000" >0</text>
<line x1="61.3" y1="325.8" x2="68.3" y2="325.8" stroke="#000" stroke-width="3" />
<text x="55.7" y="332.09" font-size="18.5" text-anchor="end" fill="#000" >100</text>
<line x1="61.3" y1="257.3" x2="68.3" y2="257.3" stroke="#000" stroke-width="3" />
<text x="55.7" y="263.59" font-size="18.5" text-anchor="end" fill="#000" >200</text>
<line x1="61.3" y1="188.8" x2="68.3" y2="188.8" stroke="#000" stroke-width="3" />
<text x="55.7" y="195.09" font-size="18.5" text-anchor="end" fill="#000" >300</text>
<line x1="61.3" y1="120.3" x2="68.3" y2="120.3" stroke="#000" stroke-width="3" />
<text x="55.7" y="126.59" font-size="18.5" text-anchor="end" fill="#000" >400</text>
<line x1="61.3" y1="51.8" x2="68.3" y2="51.8" stroke="#000" stroke-width="3" />
<text x="55.7" y="58.09" font-size="18.5" text-anchor="end" fill="#000" >500</text>
<text x="113.1" y="421.8" font-size="18.3" text-anchor="middle" fill="#000" >Day 0</text>
<text x="240.7" y="421.8" font-size="18.3" text-anchor="middle" fill="#000" >Day 1</text>
<text x="368.5" y="421.8" font-size="18.3" text-anchor="middle" fill="#000" >Day 7</text>
<text x="496.2" y="421.8" font-size="18.3" text-anchor="middle" fill="#000" >Day 28</text>
<rect x="65.5" y="65.5" width="25.5" height="8" fill="#00bb00" stroke="#111" stroke-width="1.2"/>
<text x="106.4" y="75.14" font-size="17.1" text-anchor="start" fill="#000" >Control</text>
<rect x="172" y="65.5" width="25.5" height="8" fill="#ff0000" stroke="#111" stroke-width="1.2"/>
<text x="212.3" y="75.14" font-size="17.1" text-anchor="start" fill="#000" >Predator</text>
<rect x="280.4" y="65.5" width="25.5" height="8" fill="#55a2fb" stroke="#111" stroke-width="1.2"/>
<text x="320.9" y="75.14" font-size="17.1" text-anchor="start" fill="#000" >Social isolation</text>
<rect x="448" y="65.5" width="25.5" height="8" fill="#8c5e22" stroke="#111" stroke-width="1.2"/>
<text x="488.5" y="75.14" font-size="17.1" text-anchor="start" fill="#000" >Caffeine</text>
<text x="14.7" y="20.2" font-size="21.3" text-anchor="start" fill="#000" >A</text>
<text x="0" y="0" font-size="18.33" text-anchor="middle" transform="translate(18.7,222.5) rotate(-90)">Latency to the top zone (s)</text>
<line x1="61.3" y1="461" x2="61.3" y2="797.8" stroke="#000" stroke-width="3.6" />
<line x1="59.5" y1="796" x2="550.5" y2="796" stroke="#000" stroke-width="3.6" />
<line x1="113.1" y1="796" x2="113.1" y2="804.3" stroke="#000" stroke-width="3.5" />
<line x1="240.7" y1="796" x2="240.7" y2="804.3" stroke="#000" stroke-width="3.5" />
<line x1="368.5" y1="796" x2="368.5" y2="804.3" stroke="#000" stroke-width="3.5" />
<line x1="496.2" y1="796" x2="496.2" y2="804.3" stroke="#000" stroke-width="3.5" />
<line x1="79.2" y1="690.09" x2="79.2" y2="796" stroke="#353535" stroke-width="1.6" />
<line x1="74.7" y1="690.09" x2="83.7" y2="690.09" stroke="#353535" stroke-width="1.6" />
<line x1="74.7" y1="796" x2="83.7" y2="796" stroke="#353535" stroke-width="1.6" />
<rect x="70.35" y="737.47" width="17.7" height="58.53" fill="#00bb00" stroke="#111" stroke-width="1.2"/>
<line x1="70.35" y1="777.88" x2="88.05" y2="777.88" stroke="#111" stroke-width="1.3" />
<circle cx="79.2" cy="690.37" r="2.7" fill="#646464"/>
<circle cx="79.2" cy="695.67" r="2.7" fill="#646464"/>
<circle cx="79.2" cy="706.82" r="2.7" fill="#646464"/>
<circle cx="81.63" cy="709.6" r="2.7" fill="#646464"/>
<circle cx="79.2" cy="715.18" r="2.7" fill="#646464"/>
<circle cx="78.05" cy="734.41" r="2.7" fill="#646464"/>
<circle cx="80.35" cy="734.41" r="2.7" fill="#646464"/>
<circle cx="79.2" cy="738.31" r="2.7" fill="#646464"/>
<circle cx="79.2" cy="743.05" r="2.7" fill="#646464"/>
<circle cx="79.2" cy="748.34" r="2.7" fill="#646464"/>
<circle cx="79.2" cy="753.64" r="2.7" fill="#646464"/>
<circle cx="81.63" cy="756.42" r="2.7" fill="#646464"/>
<circle cx="79.2" cy="759.49" r="2.7" fill="#646464"/>
<circle cx="84.06" cy="762" r="2.7" fill="#646464"/>
<circle cx="79.2" cy="771.2" r="2.7" fill="#646464"/>
<circle cx="78.05" cy="784.57" r="2.7" fill="#646464"/>
<circle cx="80.35" cy="784.57" r="2.7" fill="#646464"/>
<circle cx="78.05" cy="790.43" r="2.7" fill="#646464"/>
<circle cx="80.35" cy="790.43" r="2.7" fill="#646464"/>
<circle cx="72.55" cy="796" r="2.7" fill="#646464"/>
<circle cx="74.45" cy="796" r="2.7" fill="#646464"/>
<circle cx="76.35" cy="796" r="2.7" fill="#646464"/>
<circle cx="78.25" cy="796" r="2.7" fill="#646464"/>
<circle cx="80.15" cy="796" r="2.7" fill="#646464"/>
<circle cx="82.05" cy="796" r="2.7" fill="#646464"/>
<circle cx="83.95" cy="796" r="2.7" fill="#646464"/>
<circle cx="85.85" cy="796" r="2.7" fill="#646464"/>
<text x="79.2" y="682.59" font-size="17.5" text-anchor="middle" fill="#000" >b</text>
<line x1="101.8" y1="751.41" x2="101.8" y2="796" stroke="#353535" stroke-width="1.6" />
<line x1="97.3" y1="751.41" x2="106.3" y2="751.41" stroke="#353535" stroke-width="1.6" />
<line x1="97.3" y1="796" x2="106.3" y2="796" stroke="#353535" stroke-width="1.6" />
<line x1="92.95" y1="796" x2="110.65" y2="796" stroke="#111" stroke-width="1.3" />
<circle cx="101.8" cy="751.41" r="2.7" fill="#646464"/>
<circle cx="101.8" cy="775.93" r="2.7" fill="#646464"/>
<circle cx="104.23" cy="778.72" r="2.7" fill="#646464"/>
<circle cx="99.37" cy="781.23" r="2.7" fill="#646464"/>
<circle cx="101.8" cy="784.57" r="2.7" fill="#646464"/>
<circle cx="104.23" cy="787.64" r="2.7" fill="#646464"/>
<circle cx="99.5" cy="791.26" r="2.7" fill="#646464"/>
<circle cx="101.8" cy="791.26" r="2.7" fill="#646464"/>
<circle cx="104.1" cy="791.26" r="2.7" fill="#646464"/>
<circle cx="95.15" cy="796" r="2.7" fill="#646464"/>
<circle cx="96.81" cy="796" r="2.7" fill="#646464"/>
<circle cx="98.47" cy="796" r="2.7" fill="#646464"/>
<circle cx="100.14" cy="796" r="2.7" fill="#646464"/>
<circle cx="101.8" cy="796" r="2.7" fill="#646464"/>
<circle cx="103.46" cy="796" r="2.7" fill="#646464"/>
<circle cx="105.12" cy="796" r="2.7" fill="#646464"/>
<circle cx="106.79" cy="796" r="2.7" fill="#646464"/>
<circle cx="108.45" cy="796" r="2.7" fill="#646464"/>
<text x="101.8" y="743.91" font-size="17.5" text-anchor="middle" fill="#000" >c</text>
<line x1="124.4" y1="540.15" x2="124.4" y2="796" stroke="#353535" stroke-width="1.6" />
<line x1="119.9" y1="540.15" x2="128.9" y2="540.15" stroke="#353535" stroke-width="1.6" />
<line x1="119.9" y1="796" x2="128.9" y2="796" stroke="#353535" stroke-width="1.6" />
<rect x="115.55" y="746.39" width="17.7" height="45.99" fill="#55a2fb" stroke="#111" stroke-width="1.2"/>
<line x1="115.55" y1="782.07" x2="133.25" y2="782.07" stroke="#111" stroke-width="1.3" />
<circle cx="124.4" cy="540.15" r="2.7" fill="#646464"/>
<circle cx="124.4" cy="593.11" r="2.7" fill="#646464"/>
<circle cx="124.4" cy="657.21" r="2.7" fill="#646464"/>
<circle cx="124.4" cy="712.67" r="2.7" fill="#646464"/>
<circle cx="124.4" cy="729.11" r="2.7" fill="#646464"/>
<circle cx="122.1" cy="743.88" r="2.7" fill="#646464"/>
<circle cx="124.4" cy="743.88" r="2.7" fill="#646464"/>
<circle cx="126.7" cy="743.88" r="2.7" fill="#646464"/>
<circle cx="124.4" cy="756.7" r="2.7" fill="#646464"/>
<circle cx="123.25" cy="761.16" r="2.7" fill="#646464"/>
<circle cx="125.55" cy="761.16" r="2.7" fill="#646464"/>
<circle cx="124.4" cy="767.29" r="2.7" fill="#646464"/>
<circle cx="126.83" cy="770.64" r="2.7" fill="#646464"/>
<circle cx="117.8" cy="779" r="2.7" fill="#646464"/>
<circle cx="121.1" cy="779" r="2.7" fill="#646464"/>
<circle cx="124.4" cy="779" r="2.7" fill="#646464"/>
<circle cx="127.7" cy="779" r="2.7" fill="#646464"/>
<circle cx="131" cy="779" r="2.7" fill="#646464"/>
<circle cx="119.45" cy="782.34" r="2.7" fill="#646464"/>
<circle cx="122.75" cy="782.34" r="2.7" fill="#646464"/>
<circle cx="126.05" cy="782.34" r="2.7" fill="#646464"/>
<circle cx="129.35" cy="782.34" r="2.7" fill="#646464"/>
<circle cx="122.1" cy="785.41" r="2.7" fill="#646464"/>
<circle cx="124.4" cy="785.41" r="2.7" fill="#646464"/>
<circle cx="126.7" cy="785.41" r="2.7" fill="#646464"/>
<circle cx="122.1" cy="792.93" r="2.7" fill="#646464"/>
<circle cx="124.4" cy="792.93" r="2.7" fill="#646464"/>
<circle cx="126.7" cy="792.93" r="2.7" fill="#646464"/>
<circle cx="117.75" cy="796" r="2.7" fill="#646464"/>
<circle cx="119.65" cy="796" r="2.7" fill="#646464"/>
<circle cx="121.55" cy="796" r="2.7" fill="#646464"/>
<circle cx="123.45" cy="796" r="2.7" fill="#646464"/>
<circle cx="125.35" cy="796" r="2.7" fill="#646464"/>
<circle cx="127.25" cy="796" r="2.7" fill="#646464"/>
<circle cx="129.15" cy="796" r="2.7" fill="#646464"/>
<circle cx="131.05" cy="796" r="2.7" fill="#646464"/>
<text x="124.4" y="532.65" font-size="17.5" text-anchor="middle" fill="#000" >b</text>
<line x1="147" y1="575.83" x2="147" y2="796" stroke="#353535" stroke-width="1.6" />
<line x1="142.5" y1="575.83" x2="151.5" y2="575.83" stroke="#353535" stroke-width="1.6" />
<line x1="142.5" y1="796" x2="151.5" y2="796" stroke="#353535" stroke-width="1.6" />
<rect x="138.15" y="701.8" width="17.7" height="77.76" fill="#8c5e22" stroke="#111" stroke-width="1.2"/>
<line x1="138.15" y1="747.23" x2="155.85" y2="747.23" stroke="#111" stroke-width="1.3" />
<circle cx="147" cy="576.38" r="2.7" fill="#646464"/>
<circle cx="147" cy="606.76" r="2.7" fill="#646464"/>
<circle cx="147" cy="637.42" r="2.7" fill="#646464"/>
<circle cx="147" cy="653.86" r="2.7" fill="#646464"/>
<circle cx="145.85" cy="662.22" r="2.7" fill="#646464"/>
<circle cx="148.15" cy="662.22" r="2.7" fill="#646464"/>
<circle cx="147" cy="679.22" r="2.7" fill="#646464"/>
<circle cx="147" cy="692.88" r="2.7" fill="#646464"/>
<circle cx="145.85" cy="704.59" r="2.7" fill="#646464"/>
<circle cx="148.15" cy="704.59" r="2.7" fill="#646464"/>
<circle cx="151.86" cy="706.82" r="2.7" fill="#646464"/>
<circle cx="147" cy="717.96" r="2.7" fill="#646464"/>
<circle cx="147" cy="726.6" r="2.7" fill="#646464"/>
<circle cx="145.85" cy="734.41" r="2.7" fill="#646464"/>
<circle cx="148.15" cy="734.41" r="2.7" fill="#646464"/>
<circle cx="145.85" cy="739.42" r="2.7" fill="#646464"/>
<circle cx="148.15" cy="739.42" r="2.7" fill="#646464"/>
<circle cx="147" cy="743.05" r="2.7" fill="#646464"/>
<circle cx="145.85" cy="751.41" r="2.7" fill="#646464"/>
<circle cx="148.15" cy="751.41" r="2.7" fill="#646464"/>
<circle cx="147" cy="756.7" r="2.7" fill="#646464"/>
<circle cx="147" cy="765.34" r="2.7" fill="#646464"/>
<circle cx="147" cy="771.2" r="2.7" fill="#646464"/>
<circle cx="147" cy="776.49" r="2.7" fill="#646464"/>
<circle cx="144.7" cy="779" r="2.7" fill="#646464"/>
<circle cx="147" cy="779" r="2.7" fill="#646464"/>
<circle cx="149.3" cy="779" r="2.7" fill="#646464"/>
<circle cx="140.4" cy="784.85" r="2.7" fill="#646464"/>
<circle cx="143.7" cy="784.85" r="2.7" fill="#646464"/>
<circle cx="147" cy="784.85" r="2.7" fill="#646464"/>
<circle cx="150.3" cy="784.85" r="2.7" fill="#646464"/>
<circle cx="153.6" cy="784.85" r="2.7" fill="#646464"/>
<circle cx="145.85" cy="787.08" r="2.7" fill="#646464"/>
<circle cx="148.15" cy="787.08" r="2.7" fill="#646464"/>
<circle cx="147" cy="792.38" r="2.7" fill="#646464"/>
<circle cx="144.7" cy="796" r="2.7" fill="#646464"/>
<circle cx="147" cy="796" r="2.7" fill="#646464"/>
<circle cx="149.3" cy="796" r="2.7" fill="#646464"/>
<line x1="144.8" y1="734.69" x2="149.2" y2="734.69" stroke="#000" stroke-width="1.2" />
<line x1="147" y1="732.49" x2="147" y2="736.89" stroke="#000" stroke-width="1.2" />
<text x="147" y="568.33" font-size="17.5" text-anchor="middle" fill="#000" >a</text>
<line x1="206.8" y1="642.72" x2="206.8" y2="796" stroke="#353535" stroke-width="1.6" />
<line x1="202.3" y1="642.72" x2="211.3" y2="642.72" stroke="#353535" stroke-width="1.6" />
<line x1="202.3" y1="796" x2="211.3" y2="796" stroke="#353535" stroke-width="1.6" />
<rect x="197.95" y="760.33" width="17.7" height="35.67" fill="#00bb00" stroke="#111" stroke-width="1.2"/>
<line x1="197.95" y1="780.11" x2="215.65" y2="780.11" stroke="#111" stroke-width="1.3" />
<circle cx="206.8" cy="642.72" r="2.7" fill="#646464"/>
<circle cx="206.8" cy="679.22" r="2.7" fill="#646464"/>
<circle cx="206.8" cy="732.18" r="2.7" fill="#646464"/>
<circle cx="206.8" cy="745.28" r="2.7" fill="#646464"/>
<circle cx="206.8" cy="751.41" r="2.7" fill="#646464"/>
<circle cx="205.65" cy="756.7" r="2.7" fill="#646464"/>
<circle cx="207.95" cy="756.7" r="2.7" fill="#646464"/>
<circle cx="205.65" cy="760.33" r="2.7" fill="#646464"/>
<circle cx="207.95" cy="760.33" r="2.7" fill="#646464"/>
<circle cx="211.66" cy="762.28" r="2.7" fill="#646464"/>
<circle cx="205.65" cy="771.47" r="2.7" fill="#646464"/>
<circle cx="207.95" cy="771.47" r="2.7" fill="#646464"/>
<circle cx="204.5" cy="776.77" r="2.7" fill="#646464"/>
<circle cx="206.8" cy="776.77" r="2.7" fill="#646464"/>
<circle cx="209.1" cy="776.77" r="2.7" fill="#646464"/>
<circle cx="204.5" cy="780.11" r="2.7" fill="#646464"/>
<circle cx="206.8" cy="780.11" r="2.7" fill="#646464"/>
<circle cx="209.1" cy="780.11" r="2.7" fill="#646464"/>
<circle cx="205.65" cy="783.18" r="2.7" fill="#646464"/>
<circle cx="207.95" cy="783.18" r="2.7" fill="#646464"/>
<circle cx="205.65" cy="786.52" r="2.7" fill="#646464"/>
<circle cx="207.95" cy="786.52" r="2.7" fill="#646464"/>
<circle cx="206.8" cy="792.93" r="2.7" fill="#646464"/>
<circle cx="200.15" cy="796" r="2.7" fill="#646464"/>
<circle cx="202.05" cy="796" r="2.7" fill="#646464"/>
<circle cx="203.95" cy="796" r="2.7" fill="#646464"/>
<circle cx="205.85" cy="796" r="2.7" fill="#646464"/>
<circle cx="207.75" cy="796" r="2.7" fill="#646464"/>
<circle cx="209.65" cy="796" r="2.7" fill="#646464"/>
<circle cx="211.55" cy="796" r="2.7" fill="#646464"/>
<circle cx="213.45" cy="796" r="2.7" fill="#646464"/>
<line x1="229.4" y1="745.83" x2="229.4" y2="796" stroke="#353535" stroke-width="1.6" />
<line x1="224.9" y1="745.83" x2="233.9" y2="745.83" stroke="#353535" stroke-width="1.6" />
<line x1="224.9" y1="796" x2="233.9" y2="796" stroke="#353535" stroke-width="1.6" />
<rect x="220.55" y="781.23" width="17.7" height="14.77" fill="#ff0000" stroke="#111" stroke-width="1.2"/>
<line x1="220.55" y1="796" x2="238.25" y2="796" stroke="#111" stroke-width="1.3" />
<circle cx="229.4" cy="746.11" r="2.7" fill="#646464"/>
<circle cx="229.4" cy="751.41" r="2.7" fill="#646464"/>
<circle cx="229.4" cy="767.85" r="2.7" fill="#646464"/>
<circle cx="234.26" cy="770.36" r="2.7" fill="#646464"/>
<circle cx="229.4" cy="773.15" r="2.7" fill="#646464"/>
<circle cx="234.26" cy="775.65" r="2.7" fill="#646464"/>
<circle cx="229.4" cy="777.88" r="2.7" fill="#646464"/>
<circle cx="229.4" cy="782.07" r="2.7" fill="#646464"/>
<circle cx="229.4" cy="787.92" r="2.7" fill="#646464"/>
<circle cx="222.75" cy="796" r="2.7" fill="#646464"/>
<circle cx="224.41" cy="796" r="2.7" fill="#646464"/>
<circle cx="226.07" cy="796" r="2.7" fill="#646464"/>
<circle cx="227.74" cy="796" r="2.7" fill="#646464"/>
<circle cx="229.4" cy="796" r="2.7" fill="#646464"/>
<circle cx="231.06" cy="796" r="2.7" fill="#646464"/>
<circle cx="232.72" cy="796" r="2.7" fill="#646464"/>
<circle cx="234.39" cy="796" r="2.7" fill="#646464"/>
<circle cx="236.05" cy="796" r="2.7" fill="#646464"/>
<line x1="252" y1="669.75" x2="252" y2="796" stroke="#353535" stroke-width="1.6" />
<line x1="247.5" y1="669.75" x2="256.5" y2="669.75" stroke="#353535" stroke-width="1.6" />
<line x1="247.5" y1="796" x2="256.5" y2="796" stroke="#353535" stroke-width="1.6" />
<rect x="243.15" y="763.11" width="17.7" height="32.89" fill="#55a2fb" stroke="#111" stroke-width="1.2"/>
<line x1="243.15" y1="774.54" x2="260.85" y2="774.54" stroke="#111" stroke-width="1.3" />
<circle cx="252" cy="670.86" r="2.7" fill="#646464"/>
<circle cx="252" cy="676.16" r="2.7" fill="#646464"/>
<circle cx="252" cy="707.09" r="2.7" fill="#646464"/>
<circle cx="252" cy="753.92" r="2.7" fill="#646464"/>
<circle cx="249.7" cy="759.77" r="2.7" fill="#646464"/>
<circle cx="252" cy="759.77" r="2.7" fill="#646464"/>
<circle cx="254.3" cy="759.77" r="2.7" fill="#646464"/>
<circle cx="249.7" cy="763.11" r="2.7" fill="#646464"/>
<circle cx="252" cy="763.11" r="2.7" fill="#646464"/>
<circle cx="254.3" cy="763.11" r="2.7" fill="#646464"/>
<circle cx="252" cy="768.41" r="2.7" fill="#646464"/>
<circle cx="245.4" cy="776.77" r="2.7" fill="#646464"/>
<circle cx="248.7" cy="776.77" r="2.7" fill="#646464"/>
<circle cx="252" cy="776.77" r="2.7" fill="#646464"/>
<circle cx="255.3" cy="776.77" r="2.7" fill="#646464"/>
<circle cx="258.6" cy="776.77" r="2.7" fill="#646464"/>
<circle cx="247.05" cy="779" r="2.7" fill="#646464"/>
<circle cx="250.35" cy="779" r="2.7" fill="#646464"/>
<circle cx="253.65" cy="779" r="2.7" fill="#646464"/>
<circle cx="256.95" cy="779" r="2.7" fill="#646464"/>
<circle cx="250.85" cy="782.07" r="2.7" fill="#646464"/>
<circle cx="253.15" cy="782.07" r="2.7" fill="#646464"/>
<circle cx="250.85" cy="786.52" r="2.7" fill="#646464"/>
<circle cx="253.15" cy="786.52" r="2.7" fill="#646464"/>
<circle cx="250.85" cy="790.7" r="2.7" fill="#646464"/>
<circle cx="253.15" cy="790.7" r="2.7" fill="#646464"/>
<circle cx="245.35" cy="796" r="2.7" fill="#646464"/>
<circle cx="247.25" cy="796" r="2.7" fill="#646464"/>
<circle cx="249.15" cy="796" r="2.7" fill="#646464"/>
<circle cx="251.05" cy="796" r="2.7" fill="#646464"/>
<circle cx="252.95" cy="796" r="2.7" fill="#646464"/>
<circle cx="254.85" cy="796" r="2.7" fill="#646464"/>
<circle cx="256.75" cy="796" r="2.7" fill="#646464"/>
<circle cx="258.65" cy="796" r="2.7" fill="#646464"/>
<line x1="274.6" y1="690.09" x2="274.6" y2="796" stroke="#353535" stroke-width="1.6" />
<line x1="270.1" y1="690.09" x2="279.1" y2="690.09" stroke="#353535" stroke-width="1.6" />
<line x1="270.1" y1="796" x2="279.1" y2="796" stroke="#353535" stroke-width="1.6" />
<rect x="265.75" y="762.28" width="17.7" height="33.72" fill="#8c5e22" stroke="#111" stroke-width="1.2"/>
<line x1="265.75" y1="788.48" x2="283.45" y2="788.48" stroke="#111" stroke-width="1.3" />
<circle cx="274.6" cy="690.37" r="2.7" fill="#646464"/>
<circle cx="274.6" cy="723.54" r="2.7" fill="#646464"/>
<circle cx="274.6" cy="732.18" r="2.7" fill="#646464"/>
<circle cx="274.6" cy="737.47" r="2.7" fill="#646464"/>
<circle cx="273.45" cy="748.62" r="2.7" fill="#646464"/>
<circle cx="275.75" cy="748.62" r="2.7" fill="#646464"/>
<circle cx="273.45" cy="751.41" r="2.7" fill="#646464"/>
<circle cx="275.75" cy="751.41" r="2.7" fill="#646464"/>
<circle cx="274.6" cy="766.18" r="2.7" fill="#646464"/>
<circle cx="279.46" cy="768.41" r="2.7" fill="#646464"/>
<circle cx="273.45" cy="773.15" r="2.7" fill="#646464"/>
<circle cx="275.75" cy="773.15" r="2.7" fill="#646464"/>
<circle cx="273.45" cy="775.65" r="2.7" fill="#646464"/>
<circle cx="275.75" cy="775.65" r="2.7" fill="#646464"/>
<circle cx="273.45" cy="784.29" r="2.7" fill="#646464"/>
<circle cx="275.75" cy="784.29" r="2.7" fill="#646464"/>
<circle cx="279.46" cy="787.36" r="2.7" fill="#646464"/>
<circle cx="273.45" cy="791.82" r="2.7" fill="#646464"/>
<circle cx="275.75" cy="791.82" r="2.7" fill="#646464"/>
<circle cx="267.95" cy="796" r="2.7" fill="#646464"/>
<circle cx="269.61" cy="796" r="2.7" fill="#646464"/>
<circle cx="271.28" cy="796" r="2.7" fill="#646464"/>
<circle cx="272.94" cy="796" r="2.7" fill="#646464"/>
<circle cx="274.6" cy="796" r="2.7" fill="#646464"/>
<circle cx="276.26" cy="796" r="2.7" fill="#646464"/>
<circle cx="277.93" cy="796" r="2.7" fill="#646464"/>
<circle cx="279.59" cy="796" r="2.7" fill="#646464"/>
<circle cx="281.25" cy="796" r="2.7" fill="#646464"/>
<line x1="334.6" y1="651.08" x2="334.6" y2="796" stroke="#353535" stroke-width="1.6" />
<line x1="330.1" y1="651.08" x2="339.1" y2="651.08" stroke="#353535" stroke-width="1.6" />
<line x1="330.1" y1="796" x2="339.1" y2="796" stroke="#353535" stroke-width="1.6" />
<rect x="325.75" y="760.88" width="17.7" height="35.12" fill="#00bb00" stroke="#111" stroke-width="1.2"/>
<line x1="325.75" y1="782.07" x2="343.45" y2="782.07" stroke="#111" stroke-width="1.3" />
<circle cx="334.6" cy="651.35" r="2.7" fill="#646464"/>
<circle cx="334.6" cy="682.01" r="2.7" fill="#646464"/>
<circle cx="339.46" cy="684.24" r="2.7" fill="#646464"/>
<circle cx="334.6" cy="715.18" r="2.7" fill="#646464"/>
<circle cx="334.6" cy="734.69" r="2.7" fill="#646464"/>
<circle cx="334.6" cy="748.06" r="2.7" fill="#646464"/>
<circle cx="334.6" cy="753.92" r="2.7" fill="#646464"/>
<circle cx="333.45" cy="763.95" r="2.7" fill="#646464"/>
<circle cx="335.75" cy="763.95" r="2.7" fill="#646464"/>
<circle cx="333.45" cy="767.29" r="2.7" fill="#646464"/>
<circle cx="335.75" cy="767.29" r="2.7" fill="#646464"/>
<circle cx="333.45" cy="776.77" r="2.7" fill="#646464"/>
<circle cx="335.75" cy="776.77" r="2.7" fill="#646464"/>
<circle cx="332.3" cy="780.11" r="2.7" fill="#646464"/>
<circle cx="334.6" cy="780.11" r="2.7" fill="#646464"/>
<circle cx="336.9" cy="780.11" r="2.7" fill="#646464"/>
<circle cx="333.45" cy="784.29" r="2.7" fill="#646464"/>
<circle cx="335.75" cy="784.29" r="2.7" fill="#646464"/>
<circle cx="333.45" cy="787.36" r="2.7" fill="#646464"/>
<circle cx="335.75" cy="787.36" r="2.7" fill="#646464"/>
<circle cx="332.3" cy="790.7" r="2.7" fill="#646464"/>
<circle cx="334.6" cy="790.7" r="2.7" fill="#646464"/>
<circle cx="336.9" cy="790.7" r="2.7" fill="#646464"/>
<circle cx="327.95" cy="796" r="2.7" fill="#646464"/>
<circle cx="329.85" cy="796" r="2.7" fill="#646464"/>
<circle cx="331.75" cy="796" r="2.7" fill="#646464"/>
<circle cx="333.65" cy="796" r="2.7" fill="#646464"/>
<circle cx="335.55" cy="796" r="2.7" fill="#646464"/>
<circle cx="337.45" cy="796" r="2.7" fill="#646464"/>
<circle cx="339.35" cy="796" r="2.7" fill="#646464"/>
<circle cx="341.25" cy="796" r="2.7" fill="#646464"/>
<line x1="357.2" y1="695.39" x2="357.2" y2="796" stroke="#353535" stroke-width="1.6" />
<line x1="352.7" y1="695.39" x2="361.7" y2="695.39" stroke="#353535" stroke-width="1.6" />
<line x1="352.7" y1="796" x2="361.7" y2="796" stroke="#353535" stroke-width="1.6" />
<rect x="348.35" y="768.69" width="17.7" height="27.31" fill="#ff0000" stroke="#111" stroke-width="1.2"/>
<line x1="348.35" y1="796" x2="366.05" y2="796" stroke="#111" stroke-width="1.3" />
<circle cx="357.2" cy="695.95" r="2.7" fill="#646464"/>
<circle cx="359.63" cy="698.73" r="2.7" fill="#646464"/>
<circle cx="357.2" cy="704.03" r="2.7" fill="#646464"/>
<circle cx="357.2" cy="745.28" r="2.7" fill="#646464"/>
<circle cx="357.2" cy="753.92" r="2.7" fill="#646464"/>
<circle cx="357.2" cy="759.77" r="2.7" fill="#646464"/>
<circle cx="357.2" cy="770.92" r="2.7" fill="#646464"/>
<circle cx="357.2" cy="776.77" r="2.7" fill="#646464"/>
<circle cx="357.2" cy="782.07" r="2.7" fill="#646464"/>
<circle cx="354.9" cy="786.8" r="2.7" fill="#646464"/>
<circle cx="357.2" cy="786.8" r="2.7" fill="#646464"/>
<circle cx="359.5" cy="786.8" r="2.7" fill="#646464"/>
<circle cx="356.05" cy="788.48" r="2.7" fill="#646464"/>
<circle cx="358.35" cy="788.48" r="2.7" fill="#646464"/>
<circle cx="350.55" cy="796" r="2.7" fill="#646464"/>
<circle cx="352.21" cy="796" r="2.7" fill="#646464"/>
<circle cx="353.88" cy="796" r="2.7" fill="#646464"/>
<circle cx="355.54" cy="796" r="2.7" fill="#646464"/>
<circle cx="357.2" cy="796" r="2.7" fill="#646464"/>
<circle cx="358.86" cy="796" r="2.7" fill="#646464"/>
<circle cx="360.52" cy="796" r="2.7" fill="#646464"/>
<circle cx="362.19" cy="796" r="2.7" fill="#646464"/>
<circle cx="363.85" cy="796" r="2.7" fill="#646464"/>
<line x1="379.8" y1="673.09" x2="379.8" y2="796" stroke="#353535" stroke-width="1.6" />
<line x1="375.3" y1="673.09" x2="384.3" y2="673.09" stroke="#353535" stroke-width="1.6" />
<line x1="375.3" y1="796" x2="384.3" y2="796" stroke="#353535" stroke-width="1.6" />
<rect x="370.95" y="776.21" width="17.7" height="19.79" fill="#55a2fb" stroke="#111" stroke-width="1.2"/>
<line x1="370.95" y1="793.21" x2="388.65" y2="793.21" stroke="#111" stroke-width="1.3" />
<circle cx="379.8" cy="673.65" r="2.7" fill="#646464"/>
<circle cx="379.8" cy="682.01" r="2.7" fill="#646464"/>
<circle cx="379.8" cy="723.54" r="2.7" fill="#646464"/>
<circle cx="379.8" cy="739.98" r="2.7" fill="#646464"/>
<circle cx="379.8" cy="748.06" r="2.7" fill="#646464"/>
<circle cx="379.8" cy="754.47" r="2.7" fill="#646464"/>
<circle cx="378.65" cy="773.15" r="2.7" fill="#646464"/>
<circle cx="380.95" cy="773.15" r="2.7" fill="#646464"/>
<circle cx="377.5" cy="776.77" r="2.7" fill="#646464"/>
<circle cx="379.8" cy="776.77" r="2.7" fill="#646464"/>
<circle cx="382.1" cy="776.77" r="2.7" fill="#646464"/>
<circle cx="377.5" cy="780.11" r="2.7" fill="#646464"/>
<circle cx="379.8" cy="780.11" r="2.7" fill="#646464"/>
<circle cx="382.1" cy="780.11" r="2.7" fill="#646464"/>
<circle cx="378.65" cy="789.59" r="2.7" fill="#646464"/>
<circle cx="380.95" cy="789.59" r="2.7" fill="#646464"/>
<circle cx="377.5" cy="792.93" r="2.7" fill="#646464"/>
<circle cx="379.8" cy="792.93" r="2.7" fill="#646464"/>
<circle cx="382.1" cy="792.93" r="2.7" fill="#646464"/>
<circle cx="373.15" cy="796" r="2.7" fill="#646464"/>
<circle cx="375.05" cy="796" r="2.7" fill="#646464"/>
<circle cx="376.95" cy="796" r="2.7" fill="#646464"/>
<circle cx="378.85" cy="796" r="2.7" fill="#646464"/>
<circle cx="380.75" cy="796" r="2.7" fill="#646464"/>
<circle cx="382.65" cy="796" r="2.7" fill="#646464"/>
<circle cx="384.55" cy="796" r="2.7" fill="#646464"/>
<circle cx="386.45" cy="796" r="2.7" fill="#646464"/>
<line x1="402.4" y1="711.83" x2="402.4" y2="796" stroke="#353535" stroke-width="1.6" />
<line x1="397.9" y1="711.83" x2="406.9" y2="711.83" stroke="#353535" stroke-width="1.6" />
<line x1="397.9" y1="796" x2="406.9" y2="796" stroke="#353535" stroke-width="1.6" />
<rect x="393.55" y="770.64" width="17.7" height="25.36" fill="#8c5e22" stroke="#111" stroke-width="1.2"/>
<line x1="393.55" y1="796" x2="411.25" y2="796" stroke="#111" stroke-width="1.3" />
<circle cx="402.4" cy="712.39" r="2.7" fill="#646464"/>
<circle cx="402.4" cy="720.47" r="2.7" fill="#646464"/>
<circle cx="404.83" cy="723.54" r="2.7" fill="#646464"/>
<circle cx="402.4" cy="732.18" r="2.7" fill="#646464"/>
<circle cx="402.4" cy="743.33" r="2.7" fill="#646464"/>
<circle cx="401.25" cy="767.29" r="2.7" fill="#646464"/>
<circle cx="403.55" cy="767.29" r="2.7" fill="#646464"/>
<circle cx="401.25" cy="771.47" r="2.7" fill="#646464"/>
<circle cx="403.55" cy="771.47" r="2.7" fill="#646464"/>
<circle cx="402.4" cy="776.77" r="2.7" fill="#646464"/>
<circle cx="401.25" cy="785.41" r="2.7" fill="#646464"/>
<circle cx="403.55" cy="785.41" r="2.7" fill="#646464"/>
<circle cx="402.4" cy="789.59" r="2.7" fill="#646464"/>
<circle cx="395.75" cy="796" r="2.7" fill="#646464"/>
<circle cx="397.41" cy="796" r="2.7" fill="#646464"/>
<circle cx="399.07" cy="796" r="2.7" fill="#646464"/>
<circle cx="400.74" cy="796" r="2.7" fill="#646464"/>
<circle cx="402.4" cy="796" r="2.7" fill="#646464"/>
<circle cx="404.06" cy="796" r="2.7" fill="#646464"/>
<circle cx="405.72" cy="796" r="2.7" fill="#646464"/>
<circle cx="407.39" cy="796" r="2.7" fill="#646464"/>
<circle cx="409.05" cy="796" r="2.7" fill="#646464"/>
<line x1="462.3" y1="690.09" x2="462.3" y2="796" stroke="#353535" stroke-width="1.6" />
<line x1="457.8" y1="690.09" x2="466.8" y2="690.09" stroke="#353535" stroke-width="1.6" />
<line x1="457.8" y1="796" x2="466.8" y2="796" stroke="#353535" stroke-width="1.6" />
<rect x="453.45" y="763.67" width="17.7" height="32.33" fill="#00bb00" stroke="#111" stroke-width="1.2"/>
<line x1="453.45" y1="783.46" x2="471.15" y2="783.46" stroke="#111" stroke-width="1.3" />
<circle cx="462.3" cy="690.37" r="2.7" fill="#646464"/>
<circle cx="462.3" cy="715.18" r="2.7" fill="#646464"/>
<circle cx="462.3" cy="723.54" r="2.7" fill="#646464"/>
<circle cx="462.3" cy="748.06" r="2.7" fill="#646464"/>
<circle cx="462.3" cy="756.7" r="2.7" fill="#646464"/>
<circle cx="462.3" cy="765.62" r="2.7" fill="#646464"/>
<circle cx="462.3" cy="773.7" r="2.7" fill="#646464"/>
<circle cx="464.73" cy="777.33" r="2.7" fill="#646464"/>
<circle cx="461.15" cy="780.11" r="2.7" fill="#646464"/>
<circle cx="463.45" cy="780.11" r="2.7" fill="#646464"/>
<circle cx="467.16" cy="783.18" r="2.7" fill="#646464"/>
<circle cx="462.3" cy="786.52" r="2.7" fill="#646464"/>
<circle cx="461.15" cy="789.59" r="2.7" fill="#646464"/>
<circle cx="463.45" cy="789.59" r="2.7" fill="#646464"/>
<circle cx="455.65" cy="796" r="2.7" fill="#646464"/>
<circle cx="457.31" cy="796" r="2.7" fill="#646464"/>
<circle cx="458.97" cy="796" r="2.7" fill="#646464"/>
<circle cx="460.64" cy="796" r="2.7" fill="#646464"/>
<circle cx="462.3" cy="796" r="2.7" fill="#646464"/>
<circle cx="463.96" cy="796" r="2.7" fill="#646464"/>
<circle cx="465.62" cy="796" r="2.7" fill="#646464"/>
<circle cx="467.29" cy="796" r="2.7" fill="#646464"/>
<circle cx="468.95" cy="796" r="2.7" fill="#646464"/>
<line x1="484.9" y1="719.91" x2="484.9" y2="796" stroke="#353535" stroke-width="1.6" />
<line x1="480.4" y1="719.91" x2="489.4" y2="719.91" stroke="#353535" stroke-width="1.6" />
<line x1="480.4" y1="796" x2="489.4" y2="796" stroke="#353535" stroke-width="1.6" />
<rect x="476.05" y="773.7" width="17.7" height="22.3" fill="#ff0000" stroke="#111" stroke-width="1.2"/>
<line x1="476.05" y1="796" x2="493.75" y2="796" stroke="#111" stroke-width="1.3" />
<circle cx="484.9" cy="721.03" r="2.7" fill="#646464"/>
<circle cx="484.9" cy="732.18" r="2.7" fill="#646464"/>
<circle cx="484.9" cy="746.11" r="2.7" fill="#646464"/>
<circle cx="489.76" cy="748.06" r="2.7" fill="#646464"/>
<circle cx="484.9" cy="759.77" r="2.7" fill="#646464"/>
<circle cx="483.75" cy="768.41" r="2.7" fill="#646464"/>
<circle cx="486.05" cy="768.41" r="2.7" fill="#646464"/>
<circle cx="489.76" cy="771.47" r="2.7" fill="#646464"/>
<circle cx="484.9" cy="776.21" r="2.7" fill="#646464"/>
<circle cx="483.75" cy="784.29" r="2.7" fill="#646464"/>
<circle cx="486.05" cy="784.29" r="2.7" fill="#646464"/>
<circle cx="483.75" cy="787.36" r="2.7" fill="#646464"/>
<circle cx="486.05" cy="787.36" r="2.7" fill="#646464"/>
<circle cx="483.75" cy="791.82" r="2.7" fill="#646464"/>
<circle cx="486.05" cy="791.82" r="2.7" fill="#646464"/>
<circle cx="478.25" cy="796" r="2.7" fill="#646464"/>
<circle cx="479.91" cy="796" r="2.7" fill="#646464"/>
<circle cx="481.57" cy="796" r="2.7" fill="#646464"/>
<circle cx="483.24" cy="796" r="2.7" fill="#646464"/>
<circle cx="484.9" cy="796" r="2.7" fill="#646464"/>
<circle cx="486.56" cy="796" r="2.7" fill="#646464"/>
<circle cx="488.22" cy="796" r="2.7" fill="#646464"/>
<circle cx="489.89" cy="796" r="2.7" fill="#646464"/>
<circle cx="491.55" cy="796" r="2.7" fill="#646464"/>
<line x1="507.5" y1="642.99" x2="507.5" y2="796" stroke="#353535" stroke-width="1.6" />
<line x1="503" y1="642.99" x2="512" y2="642.99" stroke="#353535" stroke-width="1.6" />
<line x1="503" y1="796" x2="512" y2="796" stroke="#353535" stroke-width="1.6" />
<rect x="498.65" y="755.31" width="17.7" height="40.69" fill="#55a2fb" stroke="#111" stroke-width="1.2"/>
<line x1="498.65" y1="782.07" x2="516.35" y2="782.07" stroke="#111" stroke-width="1.3" />
<circle cx="507.5" cy="642.72" r="2.7" fill="#646464"/>
<circle cx="507.5" cy="684.8" r="2.7" fill="#646464"/>
<circle cx="507.5" cy="704.59" r="2.7" fill="#646464"/>
<circle cx="507.5" cy="723.54" r="2.7" fill="#646464"/>
<circle cx="507.5" cy="734.69" r="2.7" fill="#646464"/>
<circle cx="507.5" cy="745.28" r="2.7" fill="#646464"/>
<circle cx="509.93" cy="748.06" r="2.7" fill="#646464"/>
<circle cx="507.5" cy="756.98" r="2.7" fill="#646464"/>
<circle cx="507.5" cy="766.18" r="2.7" fill="#646464"/>
<circle cx="506.35" cy="768.41" r="2.7" fill="#646464"/>
<circle cx="508.65" cy="768.41" r="2.7" fill="#646464"/>
<circle cx="512.36" cy="771.47" r="2.7" fill="#646464"/>
<circle cx="507.5" cy="773.7" r="2.7" fill="#646464"/>
<circle cx="506.35" cy="780.11" r="2.7" fill="#646464"/>
<circle cx="508.65" cy="780.11" r="2.7" fill="#646464"/>
<circle cx="512.36" cy="783.18" r="2.7" fill="#646464"/>
<circle cx="505.2" cy="787.36" r="2.7" fill="#646464"/>
<circle cx="507.5" cy="787.36" r="2.7" fill="#646464"/>
<circle cx="509.8" cy="787.36" r="2.7" fill="#646464"/>
<circle cx="505.2" cy="790.7" r="2.7" fill="#646464"/>
<circle cx="507.5" cy="790.7" r="2.7" fill="#646464"/>
<circle cx="509.8" cy="790.7" r="2.7" fill="#646464"/>
<circle cx="500.85" cy="796" r="2.7" fill="#646464"/>
<circle cx="502.51" cy="796" r="2.7" fill="#646464"/>
<circle cx="504.18" cy="796" r="2.7" fill="#646464"/>
<circle cx="505.84" cy="796" r="2.7" fill="#646464"/>
<circle cx="507.5" cy="796" r="2.7" fill="#646464"/>
<circle cx="509.16" cy="796" r="2.7" fill="#646464"/>
<circle cx="510.82" cy="796" r="2.7" fill="#646464"/>
<circle cx="512.49" cy="796" r="2.7" fill="#646464"/>
<circle cx="514.15" cy="796" r="2.7" fill="#646464"/>
<line x1="530.1" y1="695.67" x2="530.1" y2="796" stroke="#353535" stroke-width="1.6" />
<line x1="525.6" y1="695.67" x2="534.6" y2="695.67" stroke="#353535" stroke-width="1.6" />
<line x1="525.6" y1="796" x2="534.6" y2="796" stroke="#353535" stroke-width="1.6" />
<rect x="521.25" y="786.8" width="17.7" height="9.2" fill="#8c5e22" stroke="#111" stroke-width="1.2"/>
<line x1="521.25" y1="796" x2="538.95" y2="796" stroke="#111" stroke-width="1.3" />
<circle cx="530.1" cy="695.95" r="2.7" fill="#646464"/>
<circle cx="530.1" cy="742.77" r="2.7" fill="#646464"/>
<circle cx="530.1" cy="748.62" r="2.7" fill="#646464"/>
<circle cx="530.1" cy="770.92" r="2.7" fill="#646464"/>
<circle cx="530.1" cy="775.65" r="2.7" fill="#646464"/>
<circle cx="532.53" cy="778.44" r="2.7" fill="#646464"/>
<circle cx="530.1" cy="781.23" r="2.7" fill="#646464"/>
<circle cx="532.53" cy="784.29" r="2.7" fill="#646464"/>
<circle cx="527.8" cy="787.36" r="2.7" fill="#646464"/>
<circle cx="530.1" cy="787.36" r="2.7" fill="#646464"/>
<circle cx="532.4" cy="787.36" r="2.7" fill="#646464"/>
<circle cx="523.45" cy="796" r="2.7" fill="#646464"/>
<circle cx="524.93" cy="796" r="2.7" fill="#646464"/>
<circle cx="526.41" cy="796" r="2.7" fill="#646464"/>
<circle cx="527.88" cy="796" r="2.7" fill="#646464"/>
<circle cx="529.36" cy="796" r="2.7" fill="#646464"/>
<circle cx="530.84" cy="796" r="2.7" fill="#646464"/>
<circle cx="532.32" cy="796" r="2.7" fill="#646464"/>
<circle cx="533.79" cy="796" r="2.7" fill="#646464"/>
<circle cx="535.27" cy="796" r="2.7" fill="#646464"/>
<circle cx="536.75" cy="796" r="2.7" fill="#646464"/>
<line x1="61.3" y1="796" x2="68.3" y2="796" stroke="#000" stroke-width="3" />
<text x="55.7" y="802.29" font-size="18.5" text-anchor="end" fill="#000" >0</text>
<line x1="61.3" y1="656.65" x2="68.3" y2="656.65" stroke="#000" stroke-width="3" />
<text x="55.7" y="662.94" font-size="18.5" text-anchor="end" fill="#000" >50</text>
<line x1="61.3" y1="517.3" x2="68.3" y2="517.3" stroke="#000" stroke-width="3" />
<text x="55.7" y="523.59" font-size="18.5" text-anchor="end" fill="#000" >100</text>
<line x1="61.3" y1="768.13" x2="65.36" y2="768.13" stroke="#000" stroke-width="2.8" />
<line x1="61.3" y1="740.26" x2="65.36" y2="740.26" stroke="#000" stroke-width="2.8" />
<line x1="61.3" y1="712.39" x2="65.36" y2="712.39" stroke="#000" stroke-width="2.8" />
<line x1="61.3" y1="684.52" x2="65.36" y2="684.52" stroke="#000" stroke-width="2.8" />
<line x1="61.3" y1="628.78" x2="65.36" y2="628.78" stroke="#000" stroke-width="2.8" />
<line x1="61.3" y1="600.91" x2="65.36" y2="600.91" stroke="#000" stroke-width="2.8" />
<line x1="61.3" y1="573.04" x2="65.36" y2="573.04" stroke="#000" stroke-width="2.8" />
<line x1="61.3" y1="545.17" x2="65.36" y2="545.17" stroke="#000" stroke-width="2.8" />
<line x1="61.3" y1="489.43" x2="65.36" y2="489.43" stroke="#000" stroke-width="2.8" />
<line x1="61.3" y1="461.56" x2="65.36" y2="461.56" stroke="#000" stroke-width="2.8" />
<text x="113.1" y="823.5" font-size="18.3" text-anchor="middle" fill="#000" >Day 0</text>
<text x="240.7" y="823.5" font-size="18.3" text-anchor="middle" fill="#000" >Day 1</text>
<text x="368.5" y="823.5" font-size="18.3" text-anchor="middle" fill="#000" >Day 7</text>
<text x="496.2" y="823.5" font-size="18.3" text-anchor="middle" fill="#000" >Day 28</text>
<rect x="67" y="477.3" width="25.5" height="8" fill="#00bb00" stroke="#111" stroke-width="1.2"/>
<text x="107.9" y="486.94" font-size="17.1" text-anchor="start" fill="#000" >Control</text>
<rect x="174" y="477.3" width="25.5" height="8" fill="#ff0000" stroke="#111" stroke-width="1.2"/>
<text x="214.5" y="486.94" font-size="17.1" text-anchor="start" fill="#000" >Predator</text>
<rect x="281.8" y="477.3" width="25.5" height="8" fill="#55a2fb" stroke="#111" stroke-width="1.2"/>
<text x="322.2" y="486.94" font-size="17.1" text-anchor="start" fill="#000" >Social isolation</text>
<rect x="448" y="477.3" width="25.5" height="8" fill="#8c5e22" stroke="#111" stroke-width="1.2"/>
<text x="488.4" y="486.94" font-size="17.1" text-anchor="start" fill="#000" >Caffeine</text>
<text x="11.1" y="446.1" font-size="21.3" text-anchor="start" fill="#000" >C</text>
<text x="0" y="0" font-size="18.46" text-anchor="middle" transform="translate(19.2,628.7) rotate(-90)">Number of entries to the top zone (times)</text>
<line x1="54.2" y1="868.5" x2="54.2" y2="1215.1" stroke="#000" stroke-width="3.6" />
<line x1="52.4" y1="1213.3" x2="550" y2="1213.3" stroke="#000" stroke-width="3.6" />
<line x1="107.2" y1="1213.3" x2="107.2" y2="1224.1" stroke="#000" stroke-width="3.5" />
<line x1="236.5" y1="1213.3" x2="236.5" y2="1224.1" stroke="#000" stroke-width="3.5" />
<line x1="365.6" y1="1213.3" x2="365.6" y2="1224.1" stroke="#000" stroke-width="3.5" />
<line x1="494.8" y1="1213.3" x2="494.8" y2="1224.1" stroke="#000" stroke-width="3.5" />
<line x1="72.92" y1="1051.19" x2="72.92" y2="1213.3" stroke="#353535" stroke-width="1.6" />
<line x1="68.42" y1="1051.19" x2="77.42" y2="1051.19" stroke="#353535" stroke-width="1.6" />
<line x1="68.42" y1="1213.3" x2="77.42" y2="1213.3" stroke="#353535" stroke-width="1.6" />
<rect x="63.82" y="1171.59" width="18.2" height="41.71" fill="#00bb00" stroke="#111" stroke-width="1.2"/>
<line x1="63.82" y1="1205.13" x2="82.02" y2="1205.13" stroke="#111" stroke-width="1.3" />
<circle cx="72.92" cy="1051.19" r="2.7" fill="#646464"/>
<circle cx="72.92" cy="1091.61" r="2.7" fill="#646464"/>
<circle cx="72.92" cy="1111.82" r="2.7" fill="#646464"/>
<circle cx="72.92" cy="1145.36" r="2.7" fill="#646464"/>
<circle cx="72.92" cy="1155.68" r="2.7" fill="#646464"/>
<circle cx="71.77" cy="1165.57" r="2.7" fill="#646464"/>
<circle cx="74.08" cy="1165.57" r="2.7" fill="#646464"/>
<circle cx="72.92" cy="1169.87" r="2.7" fill="#646464"/>
<circle cx="72.92" cy="1174.17" r="2.7" fill="#646464"/>
<circle cx="72.92" cy="1178.47" r="2.7" fill="#646464"/>
<circle cx="75.36" cy="1181.91" r="2.7" fill="#646464"/>
<circle cx="72.92" cy="1190.08" r="2.7" fill="#646464"/>
<circle cx="72.92" cy="1194.38" r="2.7" fill="#646464"/>
<circle cx="71.77" cy="1205.13" r="2.7" fill="#646464"/>
<circle cx="74.08" cy="1205.13" r="2.7" fill="#646464"/>
<circle cx="71.77" cy="1208.14" r="2.7" fill="#646464"/>
<circle cx="74.08" cy="1208.14" r="2.7" fill="#646464"/>
<circle cx="66.02" cy="1213.3" r="2.7" fill="#646464"/>
<circle cx="68" cy="1213.3" r="2.7" fill="#646464"/>
<circle cx="69.97" cy="1213.3" r="2.7" fill="#646464"/>
<circle cx="71.94" cy="1213.3" r="2.7" fill="#646464"/>
<circle cx="73.91" cy="1213.3" r="2.7" fill="#646464"/>
<circle cx="75.88" cy="1213.3" r="2.7" fill="#646464"/>
<circle cx="77.85" cy="1213.3" r="2.7" fill="#646464"/>
<circle cx="79.83" cy="1213.3" r="2.7" fill="#646464"/>
<text x="72.92" y="1043.69" font-size="17.5" text-anchor="middle" fill="#000" >bc</text>
<line x1="95.78" y1="1189.22" x2="95.78" y2="1213.3" stroke="#353535" stroke-width="1.6" />
<line x1="91.28" y1="1189.22" x2="100.28" y2="1189.22" stroke="#353535" stroke-width="1.6" />
<line x1="91.28" y1="1213.3" x2="100.28" y2="1213.3" stroke="#353535" stroke-width="1.6" />
<line x1="86.68" y1="1213.3" x2="104.88" y2="1213.3" stroke="#111" stroke-width="1.3" />
<circle cx="95.78" cy="1189.65" r="2.7" fill="#646464"/>
<circle cx="95.78" cy="1202.12" r="2.7" fill="#646464"/>
<circle cx="98.21" cy="1205.56" r="2.7" fill="#646464"/>
<circle cx="93.48" cy="1209.86" r="2.7" fill="#646464"/>
<circle cx="95.78" cy="1209.86" r="2.7" fill="#646464"/>
<circle cx="98.08" cy="1209.86" r="2.7" fill="#646464"/>
<circle cx="88.88" cy="1213.3" r="2.7" fill="#646464"/>
<circle cx="90.6" cy="1213.3" r="2.7" fill="#646464"/>
<circle cx="92.33" cy="1213.3" r="2.7" fill="#646464"/>
<circle cx="94.05" cy="1213.3" r="2.7" fill="#646464"/>
<circle cx="95.78" cy="1213.3" r="2.7" fill="#646464"/>
<circle cx="97.5" cy="1213.3" r="2.7" fill="#646464"/>
<circle cx="99.23" cy="1213.3" r="2.7" fill="#646464"/>
<circle cx="100.95" cy="1213.3" r="2.7" fill="#646464"/>
<circle cx="102.68" cy="1213.3" r="2.7" fill="#646464"/>
<text x="95.78" y="1181.72" font-size="17.5" text-anchor="middle" fill="#000" >c</text>
<line x1="118.62" y1="929.5" x2="118.62" y2="1213.3" stroke="#353535" stroke-width="1.6" />
<line x1="114.12" y1="929.5" x2="123.12" y2="929.5" stroke="#353535" stroke-width="1.6" />
<line x1="114.12" y1="1213.3" x2="123.12" y2="1213.3" stroke="#353535" stroke-width="1.6" />
<rect x="109.53" y="1180.19" width="18.2" height="28.38" fill="#55a2fb" stroke="#111" stroke-width="1.2"/>
<line x1="109.53" y1="1197.82" x2="127.72" y2="1197.82" stroke="#111" stroke-width="1.3" />
<circle cx="118.62" cy="929.5" r="2.7" fill="#646464"/>
<circle cx="118.62" cy="1033.56" r="2.7" fill="#646464"/>
<circle cx="118.62" cy="1042.16" r="2.7" fill="#646464"/>
<circle cx="118.62" cy="1117.41" r="2.7" fill="#646464"/>
<circle cx="118.62" cy="1141.06" r="2.7" fill="#646464"/>
<circle cx="118.62" cy="1157.83" r="2.7" fill="#646464"/>
<circle cx="117.47" cy="1178.9" r="2.7" fill="#646464"/>
<circle cx="119.78" cy="1178.9" r="2.7" fill="#646464"/>
<circle cx="117.47" cy="1183.63" r="2.7" fill="#646464"/>
<circle cx="119.78" cy="1183.63" r="2.7" fill="#646464"/>
<circle cx="118.62" cy="1187.93" r="2.7" fill="#646464"/>
<circle cx="117.47" cy="1192.23" r="2.7" fill="#646464"/>
<circle cx="119.78" cy="1192.23" r="2.7" fill="#646464"/>
<circle cx="118.62" cy="1196.53" r="2.7" fill="#646464"/>
<circle cx="118.62" cy="1200.83" r="2.7" fill="#646464"/>
<circle cx="116.33" cy="1205.99" r="2.7" fill="#646464"/>
<circle cx="118.62" cy="1205.99" r="2.7" fill="#646464"/>
<circle cx="120.92" cy="1205.99" r="2.7" fill="#646464"/>
<circle cx="116.33" cy="1209.86" r="2.7" fill="#646464"/>
<circle cx="118.62" cy="1209.86" r="2.7" fill="#646464"/>
<circle cx="120.92" cy="1209.86" r="2.7" fill="#646464"/>
<circle cx="111.72" cy="1213.3" r="2.7" fill="#646464"/>
<circle cx="113.7" cy="1213.3" r="2.7" fill="#646464"/>
<circle cx="115.67" cy="1213.3" r="2.7" fill="#646464"/>
<circle cx="117.64" cy="1213.3" r="2.7" fill="#646464"/>
<circle cx="119.61" cy="1213.3" r="2.7" fill="#646464"/>
<circle cx="121.58" cy="1213.3" r="2.7" fill="#646464"/>
<circle cx="123.55" cy="1213.3" r="2.7" fill="#646464"/>
<circle cx="125.53" cy="1213.3" r="2.7" fill="#646464"/>
<text x="118.62" y="922" font-size="17.5" text-anchor="middle" fill="#000" >b</text>
<line x1="141.48" y1="918.75" x2="141.48" y2="1213.3" stroke="#353535" stroke-width="1.6" />
<line x1="136.98" y1="918.75" x2="145.98" y2="918.75" stroke="#353535" stroke-width="1.6" />
<line x1="136.98" y1="1213.3" x2="145.98" y2="1213.3" stroke="#353535" stroke-width="1.6" />
<rect x="132.38" y="1096.34" width="18.2" height="103.2" fill="#8c5e22" stroke="#111" stroke-width="1.2"/>
<line x1="132.38" y1="1161.27" x2="150.58" y2="1161.27" stroke="#111" stroke-width="1.3" />
<circle cx="141.48" cy="918.75" r="2.7" fill="#646464"/>
<circle cx="140.33" cy="943.26" r="2.7" fill="#646464"/>
<circle cx="142.63" cy="943.26" r="2.7" fill="#646464"/>
<circle cx="141.48" cy="950.14" r="2.7" fill="#646464"/>
<circle cx="141.48" cy="1018.51" r="2.7" fill="#646464"/>
<circle cx="141.48" cy="1051.19" r="2.7" fill="#646464"/>
<circle cx="141.48" cy="1075.7" r="2.7" fill="#646464"/>
<circle cx="141.48" cy="1102.36" r="2.7" fill="#646464"/>
<circle cx="141.48" cy="1112.25" r="2.7" fill="#646464"/>
<circle cx="141.48" cy="1118.7" r="2.7" fill="#646464"/>
<circle cx="140.33" cy="1127.73" r="2.7" fill="#646464"/>
<circle cx="142.63" cy="1127.73" r="2.7" fill="#646464"/>
<circle cx="141.48" cy="1134.18" r="2.7" fill="#646464"/>
<circle cx="141.48" cy="1149.23" r="2.7" fill="#646464"/>
<circle cx="140.33" cy="1160.41" r="2.7" fill="#646464"/>
<circle cx="142.63" cy="1160.41" r="2.7" fill="#646464"/>
<circle cx="146.34" cy="1163.42" r="2.7" fill="#646464"/>
<circle cx="140.33" cy="1175.03" r="2.7" fill="#646464"/>
<circle cx="142.63" cy="1175.03" r="2.7" fill="#646464"/>
<circle cx="140.33" cy="1180.62" r="2.7" fill="#646464"/>
<circle cx="142.63" cy="1180.62" r="2.7" fill="#646464"/>
<circle cx="141.48" cy="1190.08" r="2.7" fill="#646464"/>
<circle cx="139.18" cy="1198.68" r="2.7" fill="#646464"/>
<circle cx="141.48" cy="1198.68" r="2.7" fill="#646464"/>
<circle cx="143.78" cy="1198.68" r="2.7" fill="#646464"/>
<circle cx="140.33" cy="1202.98" r="2.7" fill="#646464"/>
<circle cx="142.63" cy="1202.98" r="2.7" fill="#646464"/>
<circle cx="140.33" cy="1209.43" r="2.7" fill="#646464"/>
<circle cx="142.63" cy="1209.43" r="2.7" fill="#646464"/>
<circle cx="136.53" cy="1213.3" r="2.7" fill="#646464"/>
<circle cx="139.83" cy="1213.3" r="2.7" fill="#646464"/>
<circle cx="143.13" cy="1213.3" r="2.7" fill="#646464"/>
<circle cx="146.43" cy="1213.3" r="2.7" fill="#646464"/>
<text x="141.48" y="911.25" font-size="17.5" text-anchor="middle" fill="#000" >a</text>
<line x1="202.22" y1="948.42" x2="202.22" y2="1213.3" stroke="#353535" stroke-width="1.6" />
<line x1="197.72" y1="948.42" x2="206.72" y2="948.42" stroke="#353535" stroke-width="1.6" />
<line x1="197.72" y1="1213.3" x2="206.72" y2="1213.3" stroke="#353535" stroke-width="1.6" />
<rect x="193.12" y="1178.04" width="18.2" height="35.26" fill="#00bb00" stroke="#111" stroke-width="1.2"/>
<line x1="193.12" y1="1197.82" x2="211.32" y2="1197.82" stroke="#111" stroke-width="1.3" />
<circle cx="202.22" cy="948.85" r="2.7" fill="#646464"/>
<circle cx="202.22" cy="1088.6" r="2.7" fill="#646464"/>
<circle cx="202.22" cy="1108.81" r="2.7" fill="#646464"/>
<circle cx="202.22" cy="1139.34" r="2.7" fill="#646464"/>
<circle cx="202.22" cy="1144.5" r="2.7" fill="#646464"/>
<circle cx="202.22" cy="1162.13" r="2.7" fill="#646464"/>
<circle cx="202.22" cy="1172.88" r="2.7" fill="#646464"/>
<circle cx="202.22" cy="1179.76" r="2.7" fill="#646464"/>
<circle cx="201.07" cy="1186.64" r="2.7" fill="#646464"/>
<circle cx="203.38" cy="1186.64" r="2.7" fill="#646464"/>
<circle cx="199.92" cy="1190.94" r="2.7" fill="#646464"/>
<circle cx="202.22" cy="1190.94" r="2.7" fill="#646464"/>
<circle cx="204.53" cy="1190.94" r="2.7" fill="#646464"/>
<circle cx="201.07" cy="1195.24" r="2.7" fill="#646464"/>
<circle cx="203.38" cy="1195.24" r="2.7" fill="#646464"/>
<circle cx="202.22" cy="1199.54" r="2.7" fill="#646464"/>
<circle cx="201.07" cy="1204.7" r="2.7" fill="#646464"/>
<circle cx="203.38" cy="1204.7" r="2.7" fill="#646464"/>
<circle cx="201.07" cy="1209" r="2.7" fill="#646464"/>
<circle cx="203.38" cy="1209" r="2.7" fill="#646464"/>
<circle cx="195.32" cy="1213.3" r="2.7" fill="#646464"/>
<circle cx="197.3" cy="1213.3" r="2.7" fill="#646464"/>
<circle cx="199.27" cy="1213.3" r="2.7" fill="#646464"/>
<circle cx="201.24" cy="1213.3" r="2.7" fill="#646464"/>
<circle cx="203.21" cy="1213.3" r="2.7" fill="#646464"/>
<circle cx="205.18" cy="1213.3" r="2.7" fill="#646464"/>
<circle cx="207.15" cy="1213.3" r="2.7" fill="#646464"/>
<circle cx="209.12" cy="1213.3" r="2.7" fill="#646464"/>
<text x="202.22" y="940.92" font-size="17.5" text-anchor="middle" fill="#000" >a</text>
<line x1="225.07" y1="1164.71" x2="225.07" y2="1213.3" stroke="#353535" stroke-width="1.6" />
<line x1="220.57" y1="1164.71" x2="229.57" y2="1164.71" stroke="#353535" stroke-width="1.6" />
<line x1="220.57" y1="1213.3" x2="229.57" y2="1213.3" stroke="#353535" stroke-width="1.6" />
<rect x="215.97" y="1206.42" width="18.2" height="6.88" fill="#ff0000" stroke="#111" stroke-width="1.2"/>
<line x1="215.97" y1="1213.3" x2="234.17" y2="1213.3" stroke="#111" stroke-width="1.3" />
<circle cx="225.07" cy="1164.28" r="2.7" fill="#646464"/>
<circle cx="225.07" cy="1181.48" r="2.7" fill="#646464"/>
<circle cx="225.07" cy="1185.78" r="2.7" fill="#646464"/>
<circle cx="223.92" cy="1191.37" r="2.7" fill="#646464"/>
<circle cx="226.22" cy="1191.37" r="2.7" fill="#646464"/>
<circle cx="229.94" cy="1193.95" r="2.7" fill="#646464"/>
<circle cx="222.77" cy="1209" r="2.7" fill="#646464"/>
<circle cx="225.07" cy="1209" r="2.7" fill="#646464"/>
<circle cx="227.38" cy="1209" r="2.7" fill="#646464"/>
<circle cx="218.17" cy="1213.3" r="2.7" fill="#646464"/>
<circle cx="219.9" cy="1213.3" r="2.7" fill="#646464"/>
<circle cx="221.62" cy="1213.3" r="2.7" fill="#646464"/>
<circle cx="223.35" cy="1213.3" r="2.7" fill="#646464"/>
<circle cx="225.07" cy="1213.3" r="2.7" fill="#646464"/>
<circle cx="226.8" cy="1213.3" r="2.7" fill="#646464"/>
<circle cx="228.52" cy="1213.3" r="2.7" fill="#646464"/>
<circle cx="230.25" cy="1213.3" r="2.7" fill="#646464"/>
<circle cx="231.97" cy="1213.3" r="2.7" fill="#646464"/>
<text x="225.07" y="1157.21" font-size="17.5" text-anchor="middle" fill="#000" >b</text>
<line x1="247.93" y1="1052.05" x2="247.93" y2="1213.3" stroke="#353535" stroke-width="1.6" />
<line x1="243.43" y1="1052.05" x2="252.43" y2="1052.05" stroke="#353535" stroke-width="1.6" />
<line x1="243.43" y1="1213.3" x2="252.43" y2="1213.3" stroke="#353535" stroke-width="1.6" />
<rect x="238.83" y="1196.53" width="18.2" height="16.77" fill="#55a2fb" stroke="#111" stroke-width="1.2"/>
<line x1="238.83" y1="1211.15" x2="257.03" y2="1211.15" stroke="#111" stroke-width="1.3" />
<circle cx="247.93" cy="1051.62" r="2.7" fill="#646464"/>
<circle cx="247.93" cy="1103.65" r="2.7" fill="#646464"/>
<circle cx="247.93" cy="1141.06" r="2.7" fill="#646464"/>
<circle cx="247.93" cy="1168.58" r="2.7" fill="#646464"/>
<circle cx="247.93" cy="1184.49" r="2.7" fill="#646464"/>
<circle cx="246.78" cy="1195.24" r="2.7" fill="#646464"/>
<circle cx="249.08" cy="1195.24" r="2.7" fill="#646464"/>
<circle cx="246.78" cy="1199.54" r="2.7" fill="#646464"/>
<circle cx="249.08" cy="1199.54" r="2.7" fill="#646464"/>
<circle cx="246.78" cy="1202.55" r="2.7" fill="#646464"/>
<circle cx="249.08" cy="1202.55" r="2.7" fill="#646464"/>
<circle cx="245.62" cy="1206.85" r="2.7" fill="#646464"/>
<circle cx="247.93" cy="1206.85" r="2.7" fill="#646464"/>
<circle cx="250.23" cy="1206.85" r="2.7" fill="#646464"/>
<circle cx="241.03" cy="1213.3" r="2.7" fill="#646464"/>
<circle cx="242.75" cy="1213.3" r="2.7" fill="#646464"/>
<circle cx="244.48" cy="1213.3" r="2.7" fill="#646464"/>
<circle cx="246.2" cy="1213.3" r="2.7" fill="#646464"/>
<circle cx="247.93" cy="1213.3" r="2.7" fill="#646464"/>
<circle cx="249.65" cy="1213.3" r="2.7" fill="#646464"/>
<circle cx="251.38" cy="1213.3" r="2.7" fill="#646464"/>
<circle cx="253.1" cy="1213.3" r="2.7" fill="#646464"/>
<circle cx="254.83" cy="1213.3" r="2.7" fill="#646464"/>
<text x="247.93" y="1044.55" font-size="17.5" text-anchor="middle" fill="#000" >ab</text>
<line x1="270.77" y1="1034.42" x2="270.77" y2="1213.3" stroke="#353535" stroke-width="1.6" />
<line x1="266.27" y1="1034.42" x2="275.27" y2="1034.42" stroke="#353535" stroke-width="1.6" />
<line x1="266.27" y1="1213.3" x2="275.27" y2="1213.3" stroke="#353535" stroke-width="1.6" />
<rect x="261.67" y="1175.46" width="18.2" height="37.84" fill="#8c5e22" stroke="#111" stroke-width="1.2"/>
<line x1="261.67" y1="1209.86" x2="279.88" y2="1209.86" stroke="#111" stroke-width="1.3" />
<circle cx="270.77" cy="1034.42" r="2.7" fill="#646464"/>
<circle cx="270.77" cy="1112.68" r="2.7" fill="#646464"/>
<circle cx="270.77" cy="1133.32" r="2.7" fill="#646464"/>
<circle cx="269.62" cy="1148.37" r="2.7" fill="#646464"/>
<circle cx="271.92" cy="1148.37" r="2.7" fill="#646464"/>
<circle cx="270.77" cy="1169.87" r="2.7" fill="#646464"/>
<circle cx="270.77" cy="1177.18" r="2.7" fill="#646464"/>
<circle cx="269.62" cy="1189.22" r="2.7" fill="#646464"/>
<circle cx="271.92" cy="1189.22" r="2.7" fill="#646464"/>
<circle cx="270.77" cy="1193.09" r="2.7" fill="#646464"/>
<circle cx="270.77" cy="1198.25" r="2.7" fill="#646464"/>
<circle cx="270.77" cy="1204.7" r="2.7" fill="#646464"/>
<circle cx="268.47" cy="1210.29" r="2.7" fill="#646464"/>
<circle cx="270.77" cy="1210.29" r="2.7" fill="#646464"/>
<circle cx="273.07" cy="1210.29" r="2.7" fill="#646464"/>
<circle cx="263.88" cy="1213.3" r="2.7" fill="#646464"/>
<circle cx="265.6" cy="1213.3" r="2.7" fill="#646464"/>
<circle cx="267.32" cy="1213.3" r="2.7" fill="#646464"/>
<circle cx="269.05" cy="1213.3" r="2.7" fill="#646464"/>
<circle cx="270.77" cy="1213.3" r="2.7" fill="#646464"/>
<circle cx="272.5" cy="1213.3" r="2.7" fill="#646464"/>
<circle cx="274.22" cy="1213.3" r="2.7" fill="#646464"/>
<circle cx="275.95" cy="1213.3" r="2.7" fill="#646464"/>
<circle cx="277.67" cy="1213.3" r="2.7" fill="#646464"/>
<text x="270.77" y="1026.92" font-size="17.5" text-anchor="middle" fill="#000" >ab</text>
<line x1="331.33" y1="989.7" x2="331.33" y2="1213.3" stroke="#353535" stroke-width="1.6" />
<line x1="326.83" y1="989.7" x2="335.83" y2="989.7" stroke="#353535" stroke-width="1.6" />
<line x1="326.83" y1="1213.3" x2="335.83" y2="1213.3" stroke="#353535" stroke-width="1.6" />
<rect x="322.23" y="1183.2" width="18.2" height="30.1" fill="#00bb00" stroke="#111" stroke-width="1.2"/>
<line x1="322.23" y1="1202.98" x2="340.43" y2="1202.98" stroke="#111" stroke-width="1.3" />
<circle cx="331.33" cy="989.7" r="2.7" fill="#646464"/>
<circle cx="331.33" cy="1098.49" r="2.7" fill="#646464"/>
<circle cx="331.33" cy="1143.21" r="2.7" fill="#646464"/>
<circle cx="331.33" cy="1159.55" r="2.7" fill="#646464"/>
<circle cx="331.33" cy="1174.17" r="2.7" fill="#646464"/>
<circle cx="331.33" cy="1180.19" r="2.7" fill="#646464"/>
<circle cx="333.76" cy="1183.2" r="2.7" fill="#646464"/>
<circle cx="331.33" cy="1187.5" r="2.7" fill="#646464"/>
<circle cx="331.33" cy="1191.8" r="2.7" fill="#646464"/>
<circle cx="331.33" cy="1196.96" r="2.7" fill="#646464"/>
<circle cx="333.76" cy="1199.97" r="2.7" fill="#646464"/>
<circle cx="331.33" cy="1203.41" r="2.7" fill="#646464"/>
<circle cx="324.73" cy="1209.86" r="2.7" fill="#646464"/>
<circle cx="328.03" cy="1209.86" r="2.7" fill="#646464"/>
<circle cx="331.33" cy="1209.86" r="2.7" fill="#646464"/>
<circle cx="334.63" cy="1209.86" r="2.7" fill="#646464"/>
<circle cx="337.93" cy="1209.86" r="2.7" fill="#646464"/>
<circle cx="324.43" cy="1213.3" r="2.7" fill="#646464"/>
<circle cx="326.4" cy="1213.3" r="2.7" fill="#646464"/>
<circle cx="328.37" cy="1213.3" r="2.7" fill="#646464"/>
<circle cx="330.34" cy="1213.3" r="2.7" fill="#646464"/>
<circle cx="332.31" cy="1213.3" r="2.7" fill="#646464"/>
<circle cx="334.28" cy="1213.3" r="2.7" fill="#646464"/>
<circle cx="336.25" cy="1213.3" r="2.7" fill="#646464"/>
<circle cx="338.23" cy="1213.3" r="2.7" fill="#646464"/>
<line x1="354.18" y1="1082.58" x2="354.18" y2="1213.3" stroke="#353535" stroke-width="1.6" />
<line x1="349.68" y1="1082.58" x2="358.68" y2="1082.58" stroke="#353535" stroke-width="1.6" />
<line x1="349.68" y1="1213.3" x2="358.68" y2="1213.3" stroke="#353535" stroke-width="1.6" />
<rect x="345.07" y="1201.26" width="18.2" height="12.04" fill="#ff0000" stroke="#111" stroke-width="1.2"/>
<line x1="345.07" y1="1213.3" x2="363.28" y2="1213.3" stroke="#111" stroke-width="1.3" />
<circle cx="354.18" cy="1082.58" r="2.7" fill="#646464"/>
<circle cx="354.18" cy="1135.04" r="2.7" fill="#646464"/>
<circle cx="354.18" cy="1155.25" r="2.7" fill="#646464"/>
<circle cx="354.18" cy="1162.13" r="2.7" fill="#646464"/>
<circle cx="354.18" cy="1168.58" r="2.7" fill="#646464"/>
<circle cx="354.18" cy="1174.17" r="2.7" fill="#646464"/>
<circle cx="354.18" cy="1193.09" r="2.7" fill="#646464"/>
<circle cx="354.18" cy="1204.7" r="2.7" fill="#646464"/>
<circle cx="351.88" cy="1209.86" r="2.7" fill="#646464"/>
<circle cx="354.18" cy="1209.86" r="2.7" fill="#646464"/>
<circle cx="356.48" cy="1209.86" r="2.7" fill="#646464"/>
<circle cx="347.28" cy="1213.3" r="2.7" fill="#646464"/>
<circle cx="349" cy="1213.3" r="2.7" fill="#646464"/>
<circle cx="350.73" cy="1213.3" r="2.7" fill="#646464"/>
<circle cx="352.45" cy="1213.3" r="2.7" fill="#646464"/>
<circle cx="354.18" cy="1213.3" r="2.7" fill="#646464"/>
<circle cx="355.9" cy="1213.3" r="2.7" fill="#646464"/>
<circle cx="357.62" cy="1213.3" r="2.7" fill="#646464"/>
<circle cx="359.35" cy="1213.3" r="2.7" fill="#646464"/>
<circle cx="361.07" cy="1213.3" r="2.7" fill="#646464"/>
<line x1="377.03" y1="1010.34" x2="377.03" y2="1213.3" stroke="#353535" stroke-width="1.6" />
<line x1="372.53" y1="1010.34" x2="381.53" y2="1010.34" stroke="#353535" stroke-width="1.6" />
<line x1="372.53" y1="1213.3" x2="381.53" y2="1213.3" stroke="#353535" stroke-width="1.6" />
<rect x="367.93" y="1198.68" width="18.2" height="14.62" fill="#55a2fb" stroke="#111" stroke-width="1.2"/>
<line x1="367.93" y1="1213.3" x2="386.13" y2="1213.3" stroke="#111" stroke-width="1.3" />
<circle cx="377.03" cy="1010.77" r="2.7" fill="#646464"/>
<circle cx="377.03" cy="1132.89" r="2.7" fill="#646464"/>
<circle cx="377.03" cy="1162.99" r="2.7" fill="#646464"/>
<circle cx="377.03" cy="1172.88" r="2.7" fill="#646464"/>
<circle cx="377.03" cy="1179.76" r="2.7" fill="#646464"/>
<circle cx="377.03" cy="1194.38" r="2.7" fill="#646464"/>
<circle cx="379.46" cy="1197.82" r="2.7" fill="#646464"/>
<circle cx="375.88" cy="1206.85" r="2.7" fill="#646464"/>
<circle cx="378.18" cy="1206.85" r="2.7" fill="#646464"/>
<circle cx="374.73" cy="1209.86" r="2.7" fill="#646464"/>
<circle cx="377.03" cy="1209.86" r="2.7" fill="#646464"/>
<circle cx="379.33" cy="1209.86" r="2.7" fill="#646464"/>
<circle cx="370.13" cy="1213.3" r="2.7" fill="#646464"/>
<circle cx="371.85" cy="1213.3" r="2.7" fill="#646464"/>
<circle cx="373.58" cy="1213.3" r="2.7" fill="#646464"/>
<circle cx="375.3" cy="1213.3" r="2.7" fill="#646464"/>
<circle cx="377.03" cy="1213.3" r="2.7" fill="#646464"/>
<circle cx="378.75" cy="1213.3" r="2.7" fill="#646464"/>
<circle cx="380.48" cy="1213.3" r="2.7" fill="#646464"/>
<circle cx="382.2" cy="1213.3" r="2.7" fill="#646464"/>
<circle cx="383.93" cy="1213.3" r="2.7" fill="#646464"/>
<line x1="399.88" y1="1056.35" x2="399.88" y2="1213.3" stroke="#353535" stroke-width="1.6" />
<line x1="395.38" y1="1056.35" x2="404.38" y2="1056.35" stroke="#353535" stroke-width="1.6" />
<line x1="395.38" y1="1213.3" x2="404.38" y2="1213.3" stroke="#353535" stroke-width="1.6" />
<rect x="390.77" y="1194.38" width="18.2" height="18.92" fill="#8c5e22" stroke="#111" stroke-width="1.2"/>
<line x1="390.77" y1="1213.3" x2="408.98" y2="1213.3" stroke="#111" stroke-width="1.3" />
<circle cx="399.88" cy="1055.92" r="2.7" fill="#646464"/>
<circle cx="399.88" cy="1140.63" r="2.7" fill="#646464"/>
<circle cx="399.88" cy="1156.11" r="2.7" fill="#646464"/>
<circle cx="399.88" cy="1175.89" r="2.7" fill="#646464"/>
<circle cx="399.88" cy="1182.77" r="2.7" fill="#646464"/>
<circle cx="399.88" cy="1190.08" r="2.7" fill="#646464"/>
<circle cx="399.88" cy="1195.67" r="2.7" fill="#646464"/>
<circle cx="399.88" cy="1200.4" r="2.7" fill="#646464"/>
<circle cx="397.57" cy="1207.28" r="2.7" fill="#646464"/>
<circle cx="399.88" cy="1207.28" r="2.7" fill="#646464"/>
<circle cx="402.18" cy="1207.28" r="2.7" fill="#646464"/>
<circle cx="392.98" cy="1213.3" r="2.7" fill="#646464"/>
<circle cx="394.7" cy="1213.3" r="2.7" fill="#646464"/>
<circle cx="396.43" cy="1213.3" r="2.7" fill="#646464"/>
<circle cx="398.15" cy="1213.3" r="2.7" fill="#646464"/>
<circle cx="399.88" cy="1213.3" r="2.7" fill="#646464"/>
<circle cx="401.6" cy="1213.3" r="2.7" fill="#646464"/>
<circle cx="403.32" cy="1213.3" r="2.7" fill="#646464"/>
<circle cx="405.05" cy="1213.3" r="2.7" fill="#646464"/>
<circle cx="406.77" cy="1213.3" r="2.7" fill="#646464"/>
<line x1="460.52" y1="1011.63" x2="460.52" y2="1213.3" stroke="#353535" stroke-width="1.6" />
<line x1="456.02" y1="1011.63" x2="465.02" y2="1011.63" stroke="#353535" stroke-width="1.6" />
<line x1="456.02" y1="1213.3" x2="465.02" y2="1213.3" stroke="#353535" stroke-width="1.6" />
<rect x="451.42" y="1183.63" width="18.2" height="29.67" fill="#00bb00" stroke="#111" stroke-width="1.2"/>
<line x1="451.42" y1="1207.71" x2="469.62" y2="1207.71" stroke="#111" stroke-width="1.3" />
<circle cx="460.52" cy="1012.06" r="2.7" fill="#646464"/>
<circle cx="460.52" cy="1117.41" r="2.7" fill="#646464"/>
<circle cx="460.52" cy="1140.63" r="2.7" fill="#646464"/>
<circle cx="460.52" cy="1151.81" r="2.7" fill="#646464"/>
<circle cx="460.52" cy="1159.55" r="2.7" fill="#646464"/>
<circle cx="460.52" cy="1171.16" r="2.7" fill="#646464"/>
<circle cx="459.38" cy="1181.48" r="2.7" fill="#646464"/>
<circle cx="461.67" cy="1181.48" r="2.7" fill="#646464"/>
<circle cx="460.52" cy="1197.39" r="2.7" fill="#646464"/>
<circle cx="459.38" cy="1201.26" r="2.7" fill="#646464"/>
<circle cx="461.67" cy="1201.26" r="2.7" fill="#646464"/>
<circle cx="460.52" cy="1205.13" r="2.7" fill="#646464"/>
<circle cx="453.62" cy="1208.57" r="2.7" fill="#646464"/>
<circle cx="456.38" cy="1208.57" r="2.7" fill="#646464"/>
<circle cx="459.14" cy="1208.57" r="2.7" fill="#646464"/>
<circle cx="461.9" cy="1208.57" r="2.7" fill="#646464"/>
<circle cx="464.66" cy="1208.57" r="2.7" fill="#646464"/>
<circle cx="467.42" cy="1208.57" r="2.7" fill="#646464"/>
<circle cx="453.62" cy="1213.3" r="2.7" fill="#646464"/>
<circle cx="455.6" cy="1213.3" r="2.7" fill="#646464"/>
<circle cx="457.57" cy="1213.3" r="2.7" fill="#646464"/>
<circle cx="459.54" cy="1213.3" r="2.7" fill="#646464"/>
<circle cx="461.51" cy="1213.3" r="2.7" fill="#646464"/>
<circle cx="463.48" cy="1213.3" r="2.7" fill="#646464"/>
<circle cx="465.45" cy="1213.3" r="2.7" fill="#646464"/>
<circle cx="467.42" cy="1213.3" r="2.7" fill="#646464"/>
<line x1="483.38" y1="1156.11" x2="483.38" y2="1213.3" stroke="#353535" stroke-width="1.6" />
<line x1="478.88" y1="1156.11" x2="487.88" y2="1156.11" stroke="#353535" stroke-width="1.6" />
<line x1="478.88" y1="1213.3" x2="487.88" y2="1213.3" stroke="#353535" stroke-width="1.6" />
<rect x="474.27" y="1195.67" width="18.2" height="17.63" fill="#ff0000" stroke="#111" stroke-width="1.2"/>
<line x1="474.27" y1="1213.3" x2="492.48" y2="1213.3" stroke="#111" stroke-width="1.3" />
<circle cx="483.38" cy="1156.97" r="2.7" fill="#646464"/>
<circle cx="483.38" cy="1174.6" r="2.7" fill="#646464"/>
<circle cx="482.23" cy="1185.78" r="2.7" fill="#646464"/>
<circle cx="484.52" cy="1185.78" r="2.7" fill="#646464"/>
<circle cx="485.81" cy="1189.22" r="2.7" fill="#646464"/>
<circle cx="482.23" cy="1195.24" r="2.7" fill="#646464"/>
<circle cx="484.52" cy="1195.24" r="2.7" fill="#646464"/>
<circle cx="482.23" cy="1207.28" r="2.7" fill="#646464"/>
<circle cx="484.52" cy="1207.28" r="2.7" fill="#646464"/>
<circle cx="476.77" cy="1211.58" r="2.7" fill="#646464"/>
<circle cx="480.07" cy="1211.58" r="2.7" fill="#646464"/>
<circle cx="483.38" cy="1211.58" r="2.7" fill="#646464"/>
<circle cx="486.68" cy="1211.58" r="2.7" fill="#646464"/>
<circle cx="489.98" cy="1211.58" r="2.7" fill="#646464"/>
<circle cx="476.48" cy="1213.3" r="2.7" fill="#646464"/>
<circle cx="478.45" cy="1213.3" r="2.7" fill="#646464"/>
<circle cx="480.42" cy="1213.3" r="2.7" fill="#646464"/>
<circle cx="482.39" cy="1213.3" r="2.7" fill="#646464"/>
<circle cx="484.36" cy="1213.3" r="2.7" fill="#646464"/>
<circle cx="486.33" cy="1213.3" r="2.7" fill="#646464"/>
<circle cx="488.3" cy="1213.3" r="2.7" fill="#646464"/>
<circle cx="490.27" cy="1213.3" r="2.7" fill="#646464"/>
<line x1="506.23" y1="1116.98" x2="506.23" y2="1213.3" stroke="#353535" stroke-width="1.6" />
<line x1="501.73" y1="1116.98" x2="510.73" y2="1116.98" stroke="#353535" stroke-width="1.6" />
<line x1="501.73" y1="1213.3" x2="510.73" y2="1213.3" stroke="#353535" stroke-width="1.6" />
<rect x="497.12" y="1185.78" width="18.2" height="27.52" fill="#55a2fb" stroke="#111" stroke-width="1.2"/>
<line x1="497.12" y1="1201.26" x2="515.33" y2="1201.26" stroke="#111" stroke-width="1.3" />
<circle cx="506.23" cy="1117.41" r="2.7" fill="#646464"/>
<circle cx="506.23" cy="1133.32" r="2.7" fill="#646464"/>
<circle cx="506.23" cy="1164.71" r="2.7" fill="#646464"/>
<circle cx="508.66" cy="1167.72" r="2.7" fill="#646464"/>
<circle cx="506.23" cy="1179.33" r="2.7" fill="#646464"/>
<circle cx="511.09" cy="1181.48" r="2.7" fill="#646464"/>
<circle cx="506.23" cy="1187.07" r="2.7" fill="#646464"/>
<circle cx="501.28" cy="1193.95" r="2.7" fill="#646464"/>
<circle cx="504.58" cy="1193.95" r="2.7" fill="#646464"/>
<circle cx="507.88" cy="1193.95" r="2.7" fill="#646464"/>
<circle cx="511.18" cy="1193.95" r="2.7" fill="#646464"/>
<circle cx="503.93" cy="1197.39" r="2.7" fill="#646464"/>
<circle cx="506.23" cy="1197.39" r="2.7" fill="#646464"/>
<circle cx="508.53" cy="1197.39" r="2.7" fill="#646464"/>
<circle cx="505.08" cy="1203.41" r="2.7" fill="#646464"/>
<circle cx="507.38" cy="1203.41" r="2.7" fill="#646464"/>
<circle cx="505.08" cy="1206.42" r="2.7" fill="#646464"/>
<circle cx="507.38" cy="1206.42" r="2.7" fill="#646464"/>
<circle cx="503.93" cy="1211.58" r="2.7" fill="#646464"/>
<circle cx="506.23" cy="1211.58" r="2.7" fill="#646464"/>
<circle cx="508.53" cy="1211.58" r="2.7" fill="#646464"/>
<circle cx="499.33" cy="1213.3" r="2.7" fill="#646464"/>
<circle cx="501.3" cy="1213.3" r="2.7" fill="#646464"/>
<circle cx="503.27" cy="1213.3" r="2.7" fill="#646464"/>
<circle cx="505.24" cy="1213.3" r="2.7" fill="#646464"/>
<circle cx="507.21" cy="1213.3" r="2.7" fill="#646464"/>
<circle cx="509.18" cy="1213.3" r="2.7" fill="#646464"/>
<circle cx="511.15" cy="1213.3" r="2.7" fill="#646464"/>
<circle cx="513.12" cy="1213.3" r="2.7" fill="#646464"/>
<line x1="529.08" y1="1095.48" x2="529.08" y2="1213.3" stroke="#353535" stroke-width="1.6" />
<line x1="524.58" y1="1095.48" x2="533.58" y2="1095.48" stroke="#353535" stroke-width="1.6" />
<line x1="524.58" y1="1213.3" x2="533.58" y2="1213.3" stroke="#353535" stroke-width="1.6" />
<rect x="519.98" y="1211.15" width="18.2" height="2.15" fill="#8c5e22" stroke="#111" stroke-width="1.2"/>
<line x1="519.98" y1="1213.3" x2="538.18" y2="1213.3" stroke="#111" stroke-width="1.3" />
<circle cx="529.08" cy="1095.48" r="2.7" fill="#646464"/>
<circle cx="529.08" cy="1183.63" r="2.7" fill="#646464"/>
<circle cx="529.08" cy="1193.09" r="2.7" fill="#646464"/>
<circle cx="529.08" cy="1199.11" r="2.7" fill="#646464"/>
<circle cx="527.93" cy="1205.56" r="2.7" fill="#646464"/>
<circle cx="530.23" cy="1205.56" r="2.7" fill="#646464"/>
<circle cx="522.48" cy="1208.57" r="2.7" fill="#646464"/>
<circle cx="525.78" cy="1208.57" r="2.7" fill="#646464"/>
<circle cx="529.08" cy="1208.57" r="2.7" fill="#646464"/>
<circle cx="532.38" cy="1208.57" r="2.7" fill="#646464"/>
<circle cx="535.68" cy="1208.57" r="2.7" fill="#646464"/>
<circle cx="522.18" cy="1213.3" r="2.7" fill="#646464"/>
<circle cx="523.9" cy="1213.3" r="2.7" fill="#646464"/>
<circle cx="525.62" cy="1213.3" r="2.7" fill="#646464"/>
<circle cx="527.35" cy="1213.3" r="2.7" fill="#646464"/>
<circle cx="529.08" cy="1213.3" r="2.7" fill="#646464"/>
<circle cx="530.8" cy="1213.3" r="2.7" fill="#646464"/>
<circle cx="532.53" cy="1213.3" r="2.7" fill="#646464"/>
<circle cx="534.25" cy="1213.3" r="2.7" fill="#646464"/>
<circle cx="535.98" cy="1213.3" r="2.7" fill="#646464"/>
<line x1="54.2" y1="1213.3" x2="61.2" y2="1213.3" stroke="#000" stroke-width="3" />
<text x="49.2" y="1219.59" font-size="18.5" text-anchor="end" fill="#000" >0</text>
<line x1="54.2" y1="1127.3" x2="61.2" y2="1127.3" stroke="#000" stroke-width="3" />
<text x="49.2" y="1133.59" font-size="18.5" text-anchor="end" fill="#000" >20</text>
<line x1="54.2" y1="1041.3" x2="61.2" y2="1041.3" stroke="#000" stroke-width="3" />
<text x="49.2" y="1047.59" font-size="18.5" text-anchor="end" fill="#000" >40</text>
<line x1="54.2" y1="955.3" x2="61.2" y2="955.3" stroke="#000" stroke-width="3" />
<text x="49.2" y="961.59" font-size="18.5" text-anchor="end" fill="#000" >60</text>
<line x1="54.2" y1="869.3" x2="61.2" y2="869.3" stroke="#000" stroke-width="3" />
<text x="49.2" y="875.59" font-size="18.5" text-anchor="end" fill="#000" >80</text>
<text x="107.2" y="1244" font-size="18.3" text-anchor="middle" fill="#000" >Day 0</text>
<text x="236.5" y="1244" font-size="18.3" text-anchor="middle" fill="#000" >Day 1</text>
<text x="365.6" y="1244" font-size="18.3" text-anchor="middle" fill="#000" >Day 7</text>
<text x="494.8" y="1244" font-size="18.3" text-anchor="middle" fill="#000" >Day 28</text>
<rect x="59" y="881.05" width="25.8" height="8.5" fill="#00bb00" stroke="#111" stroke-width="1.2"/>
<text x="99.9" y="891.04" font-size="17.4" text-anchor="start" fill="#000" >Control</text>
<rect x="169.6" y="881.05" width="25.8" height="8.5" fill="#ff0000" stroke="#111" stroke-width="1.2"/>
<text x="211" y="891.04" font-size="17.4" text-anchor="start" fill="#000" >Predator</text>
<rect x="277.8" y="881.05" width="25.8" height="8.5" fill="#55a2fb" stroke="#111" stroke-width="1.2"/>
<text x="319.2" y="891.04" font-size="17.4" text-anchor="start" fill="#000" >Social isolation</text>
<rect x="447.4" y="881.05" width="25.8" height="8.5" fill="#8c5e22" stroke="#111" stroke-width="1.2"/>
<text x="488.4" y="891.04" font-size="17.4" text-anchor="start" fill="#000" >Caffeine</text>
<text x="14.1" y="848.5" font-size="21.3" text-anchor="start" fill="#000" >E</text>
<text x="0" y="0" font-size="19.1" text-anchor="middle" transform="translate(19.8,1041.2) rotate(-90)">Proportion of time spent in the  top zone (%)</text>
<line x1="52.8" y1="1283" x2="52.8" y2="1631.1" stroke="#000" stroke-width="3.6" />
<line x1="51" y1="1629.3" x2="550" y2="1629.3" stroke="#000" stroke-width="3.6" />
<line x1="106.1" y1="1629.3" x2="106.1" y2="1637.6" stroke="#000" stroke-width="3.5" />
<line x1="235.6" y1="1629.3" x2="235.6" y2="1637.6" stroke="#000" stroke-width="3.5" />
<line x1="365.3" y1="1629.3" x2="365.3" y2="1637.6" stroke="#000" stroke-width="3.5" />
<line x1="494.5" y1="1629.3" x2="494.5" y2="1637.6" stroke="#000" stroke-width="3.5" />
<line x1="72.05" y1="1468.79" x2="72.05" y2="1629.3" stroke="#353535" stroke-width="1.6" />
<line x1="67.55" y1="1468.79" x2="76.55" y2="1468.79" stroke="#353535" stroke-width="1.6" />
<line x1="67.55" y1="1629.3" x2="76.55" y2="1629.3" stroke="#353535" stroke-width="1.6" />
<rect x="63.15" y="1560.51" width="17.8" height="45.86" fill="#00bb00" stroke="#111" stroke-width="1.2"/>
<line x1="63.15" y1="1583.44" x2="80.95" y2="1583.44" stroke="#111" stroke-width="1.3" />
<circle cx="72.05" cy="1468.79" r="2.7" fill="#646464"/>
<circle cx="70.9" cy="1537.58" r="2.7" fill="#646464"/>
<circle cx="73.2" cy="1537.58" r="2.7" fill="#646464"/>
<circle cx="70.9" cy="1560.51" r="2.7" fill="#646464"/>
<circle cx="73.2" cy="1560.51" r="2.7" fill="#646464"/>
<circle cx="69.75" cy="1583.44" r="2.7" fill="#646464"/>
<circle cx="72.05" cy="1583.44" r="2.7" fill="#646464"/>
<circle cx="74.35" cy="1583.44" r="2.7" fill="#646464"/>
<circle cx="65.35" cy="1606.37" r="2.7" fill="#646464"/>
<circle cx="67.58" cy="1606.37" r="2.7" fill="#646464"/>
<circle cx="69.82" cy="1606.37" r="2.7" fill="#646464"/>
<circle cx="72.05" cy="1606.37" r="2.7" fill="#646464"/>
<circle cx="74.28" cy="1606.37" r="2.7" fill="#646464"/>
<circle cx="76.52" cy="1606.37" r="2.7" fill="#646464"/>
<circle cx="78.75" cy="1606.37" r="2.7" fill="#646464"/>
<circle cx="70.9" cy="1629.3" r="2.7" fill="#646464"/>
<circle cx="73.2" cy="1629.3" r="2.7" fill="#646464"/>
<line x1="69.85" y1="1588.03" x2="74.25" y2="1588.03" stroke="#000" stroke-width="1.2" />
<line x1="72.05" y1="1585.83" x2="72.05" y2="1590.23" stroke="#000" stroke-width="1.2" />
<text x="72.05" y="1461.29" font-size="17.5" text-anchor="middle" fill="#000" >b</text>
<line x1="94.75" y1="1422.93" x2="94.75" y2="1606.37" stroke="#353535" stroke-width="1.6" />
<line x1="90.25" y1="1422.93" x2="99.25" y2="1422.93" stroke="#353535" stroke-width="1.6" />
<line x1="90.25" y1="1606.37" x2="99.25" y2="1606.37" stroke="#353535" stroke-width="1.6" />
<rect x="85.85" y="1537.58" width="17.8" height="68.79" fill="#ff0000" stroke="#111" stroke-width="1.2"/>
<line x1="85.85" y1="1560.51" x2="103.65" y2="1560.51" stroke="#111" stroke-width="1.3" />
<circle cx="94.75" cy="1422.93" r="2.7" fill="#646464"/>
<circle cx="94.75" cy="1468.79" r="2.7" fill="#646464"/>
<circle cx="93.6" cy="1491.72" r="2.7" fill="#646464"/>
<circle cx="95.9" cy="1491.72" r="2.7" fill="#646464"/>
<circle cx="93.6" cy="1514.65" r="2.7" fill="#646464"/>
<circle cx="95.9" cy="1514.65" r="2.7" fill="#646464"/>
<circle cx="89.8" cy="1537.58" r="2.7" fill="#646464"/>
<circle cx="93.1" cy="1537.58" r="2.7" fill="#646464"/>
<circle cx="96.4" cy="1537.58" r="2.7" fill="#646464"/>
<circle cx="99.7" cy="1537.58" r="2.7" fill="#646464"/>
<circle cx="88.15" cy="1560.51" r="2.7" fill="#646464"/>
<circle cx="91.45" cy="1560.51" r="2.7" fill="#646464"/>
<circle cx="94.75" cy="1560.51" r="2.7" fill="#646464"/>
<circle cx="98.05" cy="1560.51" r="2.7" fill="#646464"/>
<circle cx="101.35" cy="1560.51" r="2.7" fill="#646464"/>
<circle cx="88.15" cy="1583.44" r="2.7" fill="#646464"/>
<circle cx="91.45" cy="1583.44" r="2.7" fill="#646464"/>
<circle cx="94.75" cy="1583.44" r="2.7" fill="#646464"/>
<circle cx="98.05" cy="1583.44" r="2.7" fill="#646464"/>
<circle cx="101.35" cy="1583.44" r="2.7" fill="#646464"/>
<circle cx="88.05" cy="1606.37" r="2.7" fill="#646464"/>
<circle cx="90.28" cy="1606.37" r="2.7" fill="#646464"/>
<circle cx="92.52" cy="1606.37" r="2.7" fill="#646464"/>
<circle cx="94.75" cy="1606.37" r="2.7" fill="#646464"/>
<circle cx="96.98" cy="1606.37" r="2.7" fill="#646464"/>
<circle cx="99.22" cy="1606.37" r="2.7" fill="#646464"/>
<circle cx="101.45" cy="1606.37" r="2.7" fill="#646464"/>
<line x1="92.55" y1="1558.22" x2="96.95" y2="1558.22" stroke="#000" stroke-width="1.2" />
<line x1="94.75" y1="1556.02" x2="94.75" y2="1560.42" stroke="#000" stroke-width="1.2" />
<text x="94.75" y="1415.43" font-size="17.5" text-anchor="middle" fill="#000" >a</text>
<line x1="117.45" y1="1491.72" x2="117.45" y2="1629.3" stroke="#353535" stroke-width="1.6" />
<line x1="112.95" y1="1491.72" x2="121.95" y2="1491.72" stroke="#353535" stroke-width="1.6" />
<line x1="112.95" y1="1629.3" x2="121.95" y2="1629.3" stroke="#353535" stroke-width="1.6" />
<rect x="108.55" y="1601.78" width="17.8" height="27.52" fill="#55a2fb" stroke="#111" stroke-width="1.2"/>
<line x1="108.55" y1="1606.37" x2="126.35" y2="1606.37" stroke="#111" stroke-width="1.3" />
<circle cx="117.45" cy="1491.72" r="2.7" fill="#646464"/>
<circle cx="117.45" cy="1514.65" r="2.7" fill="#646464"/>
<circle cx="117.45" cy="1537.58" r="2.7" fill="#646464"/>
<circle cx="116.3" cy="1560.51" r="2.7" fill="#646464"/>
<circle cx="118.6" cy="1560.51" r="2.7" fill="#646464"/>
<circle cx="117.45" cy="1583.44" r="2.7" fill="#646464"/>
<circle cx="110.85" cy="1606.37" r="2.7" fill="#646464"/>
<circle cx="114.15" cy="1606.37" r="2.7" fill="#646464"/>
<circle cx="117.45" cy="1606.37" r="2.7" fill="#646464"/>
<circle cx="120.75" cy="1606.37" r="2.7" fill="#646464"/>
<circle cx="124.05" cy="1606.37" r="2.7" fill="#646464"/>
<circle cx="110.75" cy="1629.3" r="2.7" fill="#646464"/>
<circle cx="112.98" cy="1629.3" r="2.7" fill="#646464"/>
<circle cx="115.22" cy="1629.3" r="2.7" fill="#646464"/>
<circle cx="117.45" cy="1629.3" r="2.7" fill="#646464"/>
<circle cx="119.68" cy="1629.3" r="2.7" fill="#646464"/>
<circle cx="121.92" cy="1629.3" r="2.7" fill="#646464"/>
<circle cx="124.15" cy="1629.3" r="2.7" fill="#646464"/>
<text x="117.45" y="1484.22" font-size="17.5" text-anchor="middle" fill="#000" >b</text>
<line x1="140.15" y1="1491.72" x2="140.15" y2="1629.3" stroke="#353535" stroke-width="1.6" />
<line x1="135.65" y1="1491.72" x2="144.65" y2="1491.72" stroke="#353535" stroke-width="1.6" />
<line x1="135.65" y1="1629.3" x2="144.65" y2="1629.3" stroke="#353535" stroke-width="1.6" />
<rect x="131.25" y="1601.78" width="17.8" height="27.52" fill="#8c5e22" stroke="#111" stroke-width="1.2"/>
<line x1="131.25" y1="1617.84" x2="149.05" y2="1617.84" stroke="#111" stroke-width="1.3" />
<circle cx="140.15" cy="1491.72" r="2.7" fill="#646464"/>
<circle cx="140.15" cy="1537.58" r="2.7" fill="#646464"/>
<circle cx="140.15" cy="1560.51" r="2.7" fill="#646464"/>
<circle cx="139" cy="1583.44" r="2.7" fill="#646464"/>
<circle cx="141.3" cy="1583.44" r="2.7" fill="#646464"/>
<circle cx="133.55" cy="1606.37" r="2.7" fill="#646464"/>
<circle cx="136.85" cy="1606.37" r="2.7" fill="#646464"/>
<circle cx="140.15" cy="1606.37" r="2.7" fill="#646464"/>
<circle cx="143.45" cy="1606.37" r="2.7" fill="#646464"/>
<circle cx="146.75" cy="1606.37" r="2.7" fill="#646464"/>
<circle cx="133.45" cy="1629.3" r="2.7" fill="#646464"/>
<circle cx="135.68" cy="1629.3" r="2.7" fill="#646464"/>
<circle cx="137.92" cy="1629.3" r="2.7" fill="#646464"/>
<circle cx="140.15" cy="1629.3" r="2.7" fill="#646464"/>
<circle cx="142.38" cy="1629.3" r="2.7" fill="#646464"/>
<circle cx="144.62" cy="1629.3" r="2.7" fill="#646464"/>
<circle cx="146.85" cy="1629.3" r="2.7" fill="#646464"/>
<text x="140.15" y="1484.22" font-size="17.5" text-anchor="middle" fill="#000" >b</text>
<line x1="201.55" y1="1445.86" x2="201.55" y2="1629.3" stroke="#353535" stroke-width="1.6" />
<line x1="197.05" y1="1445.86" x2="206.05" y2="1445.86" stroke="#353535" stroke-width="1.6" />
<line x1="197.05" y1="1629.3" x2="206.05" y2="1629.3" stroke="#353535" stroke-width="1.6" />
<rect x="192.65" y="1560.51" width="17.8" height="45.86" fill="#00bb00" stroke="#111" stroke-width="1.2"/>
<line x1="192.65" y1="1583.44" x2="210.45" y2="1583.44" stroke="#111" stroke-width="1.3" />
<circle cx="201.55" cy="1445.86" r="2.7" fill="#646464"/>
<circle cx="201.55" cy="1468.79" r="2.7" fill="#646464"/>
<circle cx="200.4" cy="1491.72" r="2.7" fill="#646464"/>
<circle cx="202.7" cy="1491.72" r="2.7" fill="#646464"/>
<circle cx="201.55" cy="1514.65" r="2.7" fill="#646464"/>
<circle cx="199.25" cy="1560.51" r="2.7" fill="#646464"/>
<circle cx="201.55" cy="1560.51" r="2.7" fill="#646464"/>
<circle cx="203.85" cy="1560.51" r="2.7" fill="#646464"/>
<circle cx="194.85" cy="1583.44" r="2.7" fill="#646464"/>
<circle cx="197.08" cy="1583.44" r="2.7" fill="#646464"/>
<circle cx="199.32" cy="1583.44" r="2.7" fill="#646464"/>
<circle cx="201.55" cy="1583.44" r="2.7" fill="#646464"/>
<circle cx="203.78" cy="1583.44" r="2.7" fill="#646464"/>
<circle cx="206.02" cy="1583.44" r="2.7" fill="#646464"/>
<circle cx="208.25" cy="1583.44" r="2.7" fill="#646464"/>
<circle cx="196.6" cy="1606.37" r="2.7" fill="#646464"/>
<circle cx="199.9" cy="1606.37" r="2.7" fill="#646464"/>
<circle cx="203.2" cy="1606.37" r="2.7" fill="#646464"/>
<circle cx="206.5" cy="1606.37" r="2.7" fill="#646464"/>
<circle cx="199.25" cy="1629.3" r="2.7" fill="#646464"/>
<circle cx="201.55" cy="1629.3" r="2.7" fill="#646464"/>
<circle cx="203.85" cy="1629.3" r="2.7" fill="#646464"/>
<line x1="199.35" y1="1574.27" x2="203.75" y2="1574.27" stroke="#000" stroke-width="1.2" />
<line x1="201.55" y1="1572.07" x2="201.55" y2="1576.47" stroke="#000" stroke-width="1.2" />
<text x="201.55" y="1438.36" font-size="17.5" text-anchor="middle" fill="#000" >b</text>
<line x1="224.25" y1="1445.86" x2="224.25" y2="1629.3" stroke="#353535" stroke-width="1.6" />
<line x1="219.75" y1="1445.86" x2="228.75" y2="1445.86" stroke="#353535" stroke-width="1.6" />
<line x1="219.75" y1="1629.3" x2="228.75" y2="1629.3" stroke="#353535" stroke-width="1.6" />
<rect x="215.35" y="1468.79" width="17.8" height="137.58" fill="#ff0000" stroke="#111" stroke-width="1.2"/>
<line x1="215.35" y1="1560.51" x2="233.15" y2="1560.51" stroke="#111" stroke-width="1.3" />
<circle cx="221.95" cy="1445.86" r="2.7" fill="#646464"/>
<circle cx="224.25" cy="1445.86" r="2.7" fill="#646464"/>
<circle cx="226.55" cy="1445.86" r="2.7" fill="#646464"/>
<circle cx="221.95" cy="1468.79" r="2.7" fill="#646464"/>
<circle cx="224.25" cy="1468.79" r="2.7" fill="#646464"/>
<circle cx="226.55" cy="1468.79" r="2.7" fill="#646464"/>
<circle cx="224.25" cy="1491.72" r="2.7" fill="#646464"/>
<circle cx="223.1" cy="1514.65" r="2.7" fill="#646464"/>
<circle cx="225.4" cy="1514.65" r="2.7" fill="#646464"/>
<circle cx="224.25" cy="1537.58" r="2.7" fill="#646464"/>
<circle cx="223.1" cy="1560.51" r="2.7" fill="#646464"/>
<circle cx="225.4" cy="1560.51" r="2.7" fill="#646464"/>
<circle cx="223.1" cy="1583.44" r="2.7" fill="#646464"/>
<circle cx="225.4" cy="1583.44" r="2.7" fill="#646464"/>
<circle cx="217.55" cy="1606.37" r="2.7" fill="#646464"/>
<circle cx="220.23" cy="1606.37" r="2.7" fill="#646464"/>
<circle cx="222.91" cy="1606.37" r="2.7" fill="#646464"/>
<circle cx="225.59" cy="1606.37" r="2.7" fill="#646464"/>
<circle cx="228.27" cy="1606.37" r="2.7" fill="#646464"/>
<circle cx="230.95" cy="1606.37" r="2.7" fill="#646464"/>
<circle cx="221.95" cy="1629.3" r="2.7" fill="#646464"/>
<circle cx="224.25" cy="1629.3" r="2.7" fill="#646464"/>
<circle cx="226.55" cy="1629.3" r="2.7" fill="#646464"/>
<line x1="222.05" y1="1549.05" x2="226.45" y2="1549.05" stroke="#000" stroke-width="1.2" />
<line x1="224.25" y1="1546.85" x2="224.25" y2="1551.25" stroke="#000" stroke-width="1.2" />
<text x="224.25" y="1438.36" font-size="17.5" text-anchor="middle" fill="#000" >a</text>
<line x1="246.95" y1="1422.93" x2="246.95" y2="1629.3" stroke="#353535" stroke-width="1.6" />
<line x1="242.45" y1="1422.93" x2="251.45" y2="1422.93" stroke="#353535" stroke-width="1.6" />
<line x1="242.45" y1="1629.3" x2="251.45" y2="1629.3" stroke="#353535" stroke-width="1.6" />
<rect x="238.05" y="1560.51" width="17.8" height="68.79" fill="#55a2fb" stroke="#111" stroke-width="1.2"/>
<line x1="238.05" y1="1606.37" x2="255.85" y2="1606.37" stroke="#111" stroke-width="1.3" />
<circle cx="246.95" cy="1422.93" r="2.7" fill="#646464"/>
<circle cx="246.95" cy="1514.65" r="2.7" fill="#646464"/>
<circle cx="244.65" cy="1560.51" r="2.7" fill="#646464"/>
<circle cx="246.95" cy="1560.51" r="2.7" fill="#646464"/>
<circle cx="249.25" cy="1560.51" r="2.7" fill="#646464"/>
<circle cx="246.95" cy="1583.44" r="2.7" fill="#646464"/>
<circle cx="240.25" cy="1606.37" r="2.7" fill="#646464"/>
<circle cx="242.93" cy="1606.37" r="2.7" fill="#646464"/>
<circle cx="245.61" cy="1606.37" r="2.7" fill="#646464"/>
<circle cx="248.29" cy="1606.37" r="2.7" fill="#646464"/>
<circle cx="250.97" cy="1606.37" r="2.7" fill="#646464"/>
<circle cx="253.65" cy="1606.37" r="2.7" fill="#646464"/>
<circle cx="240.35" cy="1629.3" r="2.7" fill="#646464"/>
<circle cx="243.65" cy="1629.3" r="2.7" fill="#646464"/>
<circle cx="246.95" cy="1629.3" r="2.7" fill="#646464"/>
<circle cx="250.25" cy="1629.3" r="2.7" fill="#646464"/>
<circle cx="253.55" cy="1629.3" r="2.7" fill="#646464"/>
<line x1="244.75" y1="1594.9" x2="249.15" y2="1594.9" stroke="#000" stroke-width="1.2" />
<line x1="246.95" y1="1592.7" x2="246.95" y2="1597.11" stroke="#000" stroke-width="1.2" />
<text x="246.95" y="1415.43" font-size="17.5" text-anchor="middle" fill="#000" >b</text>
<line x1="269.65" y1="1422.93" x2="269.65" y2="1606.37" stroke="#353535" stroke-width="1.6" />
<line x1="265.15" y1="1422.93" x2="274.15" y2="1422.93" stroke="#353535" stroke-width="1.6" />
<line x1="265.15" y1="1606.37" x2="274.15" y2="1606.37" stroke="#353535" stroke-width="1.6" />
<rect x="260.75" y="1514.65" width="17.8" height="91.72" fill="#8c5e22" stroke="#111" stroke-width="1.2"/>
<line x1="260.75" y1="1560.51" x2="278.55" y2="1560.51" stroke="#111" stroke-width="1.3" />
<circle cx="269.65" cy="1422.93" r="2.7" fill="#646464"/>
<circle cx="269.65" cy="1468.79" r="2.7" fill="#646464"/>
<circle cx="267.35" cy="1514.65" r="2.7" fill="#646464"/>
<circle cx="269.65" cy="1514.65" r="2.7" fill="#646464"/>
<circle cx="271.95" cy="1514.65" r="2.7" fill="#646464"/>
<circle cx="267.35" cy="1537.58" r="2.7" fill="#646464"/>
<circle cx="269.65" cy="1537.58" r="2.7" fill="#646464"/>
<circle cx="271.95" cy="1537.58" r="2.7" fill="#646464"/>
<circle cx="267.35" cy="1560.51" r="2.7" fill="#646464"/>
<circle cx="269.65" cy="1560.51" r="2.7" fill="#646464"/>
<circle cx="271.95" cy="1560.51" r="2.7" fill="#646464"/>
<circle cx="267.35" cy="1583.44" r="2.7" fill="#646464"/>
<circle cx="269.65" cy="1583.44" r="2.7" fill="#646464"/>
<circle cx="271.95" cy="1583.44" r="2.7" fill="#646464"/>
<circle cx="263.05" cy="1606.37" r="2.7" fill="#646464"/>
<circle cx="266.35" cy="1606.37" r="2.7" fill="#646464"/>
<circle cx="269.65" cy="1606.37" r="2.7" fill="#646464"/>
<circle cx="272.95" cy="1606.37" r="2.7" fill="#646464"/>
<circle cx="276.25" cy="1606.37" r="2.7" fill="#646464"/>
<line x1="267.45" y1="1553.63" x2="271.85" y2="1553.63" stroke="#000" stroke-width="1.2" />
<line x1="269.65" y1="1551.43" x2="269.65" y2="1555.83" stroke="#000" stroke-width="1.2" />
<text x="269.65" y="1415.43" font-size="17.5" text-anchor="middle" fill="#000" >ab</text>
<line x1="331.25" y1="1491.72" x2="331.25" y2="1629.3" stroke="#353535" stroke-width="1.6" />
<line x1="326.75" y1="1491.72" x2="335.75" y2="1491.72" stroke="#353535" stroke-width="1.6" />
<line x1="326.75" y1="1629.3" x2="335.75" y2="1629.3" stroke="#353535" stroke-width="1.6" />
<rect x="322.35" y="1555.92" width="17.8" height="50.45" fill="#00bb00" stroke="#111" stroke-width="1.2"/>
<line x1="322.35" y1="1583.44" x2="340.15" y2="1583.44" stroke="#111" stroke-width="1.3" />
<circle cx="330.1" cy="1491.72" r="2.7" fill="#646464"/>
<circle cx="332.4" cy="1491.72" r="2.7" fill="#646464"/>
<circle cx="331.25" cy="1514.65" r="2.7" fill="#646464"/>
<circle cx="326.3" cy="1537.58" r="2.7" fill="#646464"/>
<circle cx="329.6" cy="1537.58" r="2.7" fill="#646464"/>
<circle cx="332.9" cy="1537.58" r="2.7" fill="#646464"/>
<circle cx="336.2" cy="1537.58" r="2.7" fill="#646464"/>
<circle cx="324.55" cy="1560.51" r="2.7" fill="#646464"/>
<circle cx="326.78" cy="1560.51" r="2.7" fill="#646464"/>
<circle cx="329.02" cy="1560.51" r="2.7" fill="#646464"/>
<circle cx="331.25" cy="1560.51" r="2.7" fill="#646464"/>
<circle cx="333.48" cy="1560.51" r="2.7" fill="#646464"/>
<circle cx="335.72" cy="1560.51" r="2.7" fill="#646464"/>
<circle cx="337.95" cy="1560.51" r="2.7" fill="#646464"/>
<circle cx="324.55" cy="1583.44" r="2.7" fill="#646464"/>
<circle cx="326.78" cy="1583.44" r="2.7" fill="#646464"/>
<circle cx="329.02" cy="1583.44" r="2.7" fill="#646464"/>
<circle cx="331.25" cy="1583.44" r="2.7" fill="#646464"/>
<circle cx="333.48" cy="1583.44" r="2.7" fill="#646464"/>
<circle cx="335.72" cy="1583.44" r="2.7" fill="#646464"/>
<circle cx="337.95" cy="1583.44" r="2.7" fill="#646464"/>
<circle cx="324.65" cy="1606.37" r="2.7" fill="#646464"/>
<circle cx="327.95" cy="1606.37" r="2.7" fill="#646464"/>
<circle cx="331.25" cy="1606.37" r="2.7" fill="#646464"/>
<circle cx="334.55" cy="1606.37" r="2.7" fill="#646464"/>
<circle cx="337.85" cy="1606.37" r="2.7" fill="#646464"/>
<circle cx="324.55" cy="1629.3" r="2.7" fill="#646464"/>
<circle cx="327.23" cy="1629.3" r="2.7" fill="#646464"/>
<circle cx="329.91" cy="1629.3" r="2.7" fill="#646464"/>
<circle cx="332.59" cy="1629.3" r="2.7" fill="#646464"/>
<circle cx="335.27" cy="1629.3" r="2.7" fill="#646464"/>
<circle cx="337.95" cy="1629.3" r="2.7" fill="#646464"/>
<line x1="329.05" y1="1576.56" x2="333.45" y2="1576.56" stroke="#000" stroke-width="1.2" />
<line x1="331.25" y1="1574.36" x2="331.25" y2="1578.76" stroke="#000" stroke-width="1.2" />
<text x="327.25" y="1484.22" font-size="17.5" text-anchor="middle" fill="#000" >b</text>
<line x1="353.95" y1="1422.93" x2="353.95" y2="1629.3" stroke="#353535" stroke-width="1.6" />
<line x1="349.45" y1="1422.93" x2="358.45" y2="1422.93" stroke="#353535" stroke-width="1.6" />
<line x1="349.45" y1="1629.3" x2="358.45" y2="1629.3" stroke="#353535" stroke-width="1.6" />
<rect x="345.05" y="1560.51" width="17.8" height="51.59" fill="#ff0000" stroke="#111" stroke-width="1.2"/>
<line x1="345.05" y1="1583.44" x2="362.85" y2="1583.44" stroke="#111" stroke-width="1.3" />
<circle cx="353.95" cy="1422.93" r="2.7" fill="#646464"/>
<circle cx="353.95" cy="1491.72" r="2.7" fill="#646464"/>
<circle cx="351.65" cy="1514.65" r="2.7" fill="#646464"/>
<circle cx="353.95" cy="1514.65" r="2.7" fill="#646464"/>
<circle cx="356.25" cy="1514.65" r="2.7" fill="#646464"/>
<circle cx="353.95" cy="1537.58" r="2.7" fill="#646464"/>
<circle cx="352.8" cy="1560.51" r="2.7" fill="#646464"/>
<circle cx="355.1" cy="1560.51" r="2.7" fill="#646464"/>
<circle cx="347.25" cy="1583.44" r="2.7" fill="#646464"/>
<circle cx="349.48" cy="1583.44" r="2.7" fill="#646464"/>
<circle cx="351.72" cy="1583.44" r="2.7" fill="#646464"/>
<circle cx="353.95" cy="1583.44" r="2.7" fill="#646464"/>
<circle cx="356.18" cy="1583.44" r="2.7" fill="#646464"/>
<circle cx="358.42" cy="1583.44" r="2.7" fill="#646464"/>
<circle cx="360.65" cy="1583.44" r="2.7" fill="#646464"/>
<circle cx="347.35" cy="1606.37" r="2.7" fill="#646464"/>
<circle cx="350.65" cy="1606.37" r="2.7" fill="#646464"/>
<circle cx="353.95" cy="1606.37" r="2.7" fill="#646464"/>
<circle cx="357.25" cy="1606.37" r="2.7" fill="#646464"/>
<circle cx="360.55" cy="1606.37" r="2.7" fill="#646464"/>
<circle cx="347.25" cy="1629.3" r="2.7" fill="#646464"/>
<circle cx="349.93" cy="1629.3" r="2.7" fill="#646464"/>
<circle cx="352.61" cy="1629.3" r="2.7" fill="#646464"/>
<circle cx="355.29" cy="1629.3" r="2.7" fill="#646464"/>
<circle cx="357.97" cy="1629.3" r="2.7" fill="#646464"/>
<circle cx="360.65" cy="1629.3" r="2.7" fill="#646464"/>
<line x1="351.75" y1="1578.85" x2="356.15" y2="1578.85" stroke="#000" stroke-width="1.2" />
<line x1="353.95" y1="1576.65" x2="353.95" y2="1581.05" stroke="#000" stroke-width="1.2" />
<text x="349.45" y="1415.43" font-size="17.5" text-anchor="middle" fill="#000" >b</text>
<line x1="376.65" y1="1491.72" x2="376.65" y2="1629.3" stroke="#353535" stroke-width="1.6" />
<line x1="372.15" y1="1491.72" x2="381.15" y2="1491.72" stroke="#353535" stroke-width="1.6" />
<line x1="372.15" y1="1629.3" x2="381.15" y2="1629.3" stroke="#353535" stroke-width="1.6" />
<rect x="367.75" y="1560.51" width="17.8" height="68.79" fill="#55a2fb" stroke="#111" stroke-width="1.2"/>
<line x1="367.75" y1="1606.37" x2="385.55" y2="1606.37" stroke="#111" stroke-width="1.3" />
<circle cx="376.65" cy="1491.72" r="2.7" fill="#646464"/>
<circle cx="376.65" cy="1514.65" r="2.7" fill="#646464"/>
<circle cx="374.35" cy="1537.58" r="2.7" fill="#646464"/>
<circle cx="376.65" cy="1537.58" r="2.7" fill="#646464"/>
<circle cx="378.95" cy="1537.58" r="2.7" fill="#646464"/>
<circle cx="375.5" cy="1560.51" r="2.7" fill="#646464"/>
<circle cx="377.8" cy="1560.51" r="2.7" fill="#646464"/>
<circle cx="374.35" cy="1583.44" r="2.7" fill="#646464"/>
<circle cx="376.65" cy="1583.44" r="2.7" fill="#646464"/>
<circle cx="378.95" cy="1583.44" r="2.7" fill="#646464"/>
<circle cx="369.95" cy="1606.37" r="2.7" fill="#646464"/>
<circle cx="372.18" cy="1606.37" r="2.7" fill="#646464"/>
<circle cx="374.42" cy="1606.37" r="2.7" fill="#646464"/>
<circle cx="376.65" cy="1606.37" r="2.7" fill="#646464"/>
<circle cx="378.88" cy="1606.37" r="2.7" fill="#646464"/>
<circle cx="381.12" cy="1606.37" r="2.7" fill="#646464"/>
<circle cx="383.35" cy="1606.37" r="2.7" fill="#646464"/>
<circle cx="370.05" cy="1629.3" r="2.7" fill="#646464"/>
<circle cx="373.35" cy="1629.3" r="2.7" fill="#646464"/>
<circle cx="376.65" cy="1629.3" r="2.7" fill="#646464"/>
<circle cx="379.95" cy="1629.3" r="2.7" fill="#646464"/>
<circle cx="383.25" cy="1629.3" r="2.7" fill="#646464"/>
<line x1="374.45" y1="1590.32" x2="378.85" y2="1590.32" stroke="#000" stroke-width="1.2" />
<line x1="376.65" y1="1588.12" x2="376.65" y2="1592.52" stroke="#000" stroke-width="1.2" />
<text x="376.65" y="1484.22" font-size="17.5" text-anchor="middle" fill="#000" >b</text>
<line x1="399.35" y1="1400" x2="399.35" y2="1629.3" stroke="#353535" stroke-width="1.6" />
<line x1="394.85" y1="1400" x2="403.85" y2="1400" stroke="#353535" stroke-width="1.6" />
<line x1="394.85" y1="1629.3" x2="403.85" y2="1629.3" stroke="#353535" stroke-width="1.6" />
<rect x="390.45" y="1514.65" width="17.8" height="91.72" fill="#8c5e22" stroke="#111" stroke-width="1.2"/>
<line x1="390.45" y1="1571.97" x2="408.25" y2="1571.97" stroke="#111" stroke-width="1.3" />
<circle cx="399.35" cy="1400" r="2.7" fill="#646464"/>
<circle cx="399.35" cy="1445.86" r="2.7" fill="#646464"/>
<circle cx="399.35" cy="1468.79" r="2.7" fill="#646464"/>
<circle cx="397.05" cy="1491.72" r="2.7" fill="#646464"/>
<circle cx="399.35" cy="1491.72" r="2.7" fill="#646464"/>
<circle cx="401.65" cy="1491.72" r="2.7" fill="#646464"/>
<circle cx="394.4" cy="1514.65" r="2.7" fill="#646464"/>
<circle cx="397.7" cy="1514.65" r="2.7" fill="#646464"/>
<circle cx="401" cy="1514.65" r="2.7" fill="#646464"/>
<circle cx="404.3" cy="1514.65" r="2.7" fill="#646464"/>
<circle cx="397.05" cy="1537.58" r="2.7" fill="#646464"/>
<circle cx="399.35" cy="1537.58" r="2.7" fill="#646464"/>
<circle cx="401.65" cy="1537.58" r="2.7" fill="#646464"/>
<circle cx="399.35" cy="1560.51" r="2.7" fill="#646464"/>
<circle cx="394.4" cy="1583.44" r="2.7" fill="#646464"/>
<circle cx="397.7" cy="1583.44" r="2.7" fill="#646464"/>
<circle cx="401" cy="1583.44" r="2.7" fill="#646464"/>
<circle cx="404.3" cy="1583.44" r="2.7" fill="#646464"/>
<circle cx="392.65" cy="1606.37" r="2.7" fill="#646464"/>
<circle cx="395.33" cy="1606.37" r="2.7" fill="#646464"/>
<circle cx="398.01" cy="1606.37" r="2.7" fill="#646464"/>
<circle cx="400.69" cy="1606.37" r="2.7" fill="#646464"/>
<circle cx="403.37" cy="1606.37" r="2.7" fill="#646464"/>
<circle cx="406.05" cy="1606.37" r="2.7" fill="#646464"/>
<circle cx="399.35" cy="1629.3" r="2.7" fill="#646464"/>
<line x1="397.15" y1="1551.34" x2="401.55" y2="1551.34" stroke="#000" stroke-width="1.2" />
<line x1="399.35" y1="1549.14" x2="399.35" y2="1553.54" stroke="#000" stroke-width="1.2" />
<text x="399.35" y="1392.5" font-size="17.5" text-anchor="middle" fill="#000" >a</text>
<line x1="460.45" y1="1400" x2="460.45" y2="1629.3" stroke="#353535" stroke-width="1.6" />
<line x1="455.95" y1="1400" x2="464.95" y2="1400" stroke="#353535" stroke-width="1.6" />
<line x1="455.95" y1="1629.3" x2="464.95" y2="1629.3" stroke="#353535" stroke-width="1.6" />
<rect x="451.55" y="1578.85" width="17.8" height="33.25" fill="#00bb00" stroke="#111" stroke-width="1.2"/>
<line x1="451.55" y1="1606.37" x2="469.35" y2="1606.37" stroke="#111" stroke-width="1.3" />
<circle cx="460.45" cy="1400" r="2.7" fill="#646464"/>
<circle cx="460.45" cy="1491.72" r="2.7" fill="#646464"/>
<circle cx="460.45" cy="1514.65" r="2.7" fill="#646464"/>
<circle cx="459.3" cy="1537.58" r="2.7" fill="#646464"/>
<circle cx="461.6" cy="1537.58" r="2.7" fill="#646464"/>
<circle cx="460.45" cy="1560.51" r="2.7" fill="#646464"/>
<circle cx="455.5" cy="1583.44" r="2.7" fill="#646464"/>
<circle cx="458.8" cy="1583.44" r="2.7" fill="#646464"/>
<circle cx="462.1" cy="1583.44" r="2.7" fill="#646464"/>
<circle cx="465.4" cy="1583.44" r="2.7" fill="#646464"/>
<circle cx="453.75" cy="1606.37" r="2.7" fill="#646464"/>
<circle cx="455.98" cy="1606.37" r="2.7" fill="#646464"/>
<circle cx="458.22" cy="1606.37" r="2.7" fill="#646464"/>
<circle cx="460.45" cy="1606.37" r="2.7" fill="#646464"/>
<circle cx="462.68" cy="1606.37" r="2.7" fill="#646464"/>
<circle cx="464.92" cy="1606.37" r="2.7" fill="#646464"/>
<circle cx="467.15" cy="1606.37" r="2.7" fill="#646464"/>
<circle cx="455.5" cy="1629.3" r="2.7" fill="#646464"/>
<circle cx="458.8" cy="1629.3" r="2.7" fill="#646464"/>
<circle cx="462.1" cy="1629.3" r="2.7" fill="#646464"/>
<circle cx="465.4" cy="1629.3" r="2.7" fill="#646464"/>
<line x1="483.15" y1="1468.79" x2="483.15" y2="1629.3" stroke="#353535" stroke-width="1.6" />
<line x1="478.65" y1="1468.79" x2="487.65" y2="1468.79" stroke="#353535" stroke-width="1.6" />
<line x1="478.65" y1="1629.3" x2="487.65" y2="1629.3" stroke="#353535" stroke-width="1.6" />
<rect x="474.25" y="1560.51" width="17.8" height="68.79" fill="#ff0000" stroke="#111" stroke-width="1.2"/>
<line x1="474.25" y1="1606.37" x2="492.05" y2="1606.37" stroke="#111" stroke-width="1.3" />
<circle cx="483.15" cy="1468.79" r="2.7" fill="#646464"/>
<circle cx="483.15" cy="1491.72" r="2.7" fill="#646464"/>
<circle cx="480.85" cy="1537.58" r="2.7" fill="#646464"/>
<circle cx="483.15" cy="1537.58" r="2.7" fill="#646464"/>
<circle cx="485.45" cy="1537.58" r="2.7" fill="#646464"/>
<circle cx="478.2" cy="1560.51" r="2.7" fill="#646464"/>
<circle cx="481.5" cy="1560.51" r="2.7" fill="#646464"/>
<circle cx="484.8" cy="1560.51" r="2.7" fill="#646464"/>
<circle cx="488.1" cy="1560.51" r="2.7" fill="#646464"/>
<circle cx="483.15" cy="1583.44" r="2.7" fill="#646464"/>
<circle cx="476.45" cy="1606.37" r="2.7" fill="#646464"/>
<circle cx="479.13" cy="1606.37" r="2.7" fill="#646464"/>
<circle cx="481.81" cy="1606.37" r="2.7" fill="#646464"/>
<circle cx="484.49" cy="1606.37" r="2.7" fill="#646464"/>
<circle cx="487.17" cy="1606.37" r="2.7" fill="#646464"/>
<circle cx="489.85" cy="1606.37" r="2.7" fill="#646464"/>
<circle cx="476.55" cy="1629.3" r="2.7" fill="#646464"/>
<circle cx="479.85" cy="1629.3" r="2.7" fill="#646464"/>
<circle cx="483.15" cy="1629.3" r="2.7" fill="#646464"/>
<circle cx="486.45" cy="1629.3" r="2.7" fill="#646464"/>
<circle cx="489.75" cy="1629.3" r="2.7" fill="#646464"/>
<line x1="505.85" y1="1468.79" x2="505.85" y2="1629.3" stroke="#353535" stroke-width="1.6" />
<line x1="501.35" y1="1468.79" x2="510.35" y2="1468.79" stroke="#353535" stroke-width="1.6" />
<line x1="501.35" y1="1629.3" x2="510.35" y2="1629.3" stroke="#353535" stroke-width="1.6" />
<rect x="496.95" y="1560.51" width="17.8" height="45.86" fill="#55a2fb" stroke="#111" stroke-width="1.2"/>
<line x1="496.95" y1="1583.44" x2="514.75" y2="1583.44" stroke="#111" stroke-width="1.3" />
<circle cx="505.85" cy="1468.79" r="2.7" fill="#646464"/>
<circle cx="504.7" cy="1514.65" r="2.7" fill="#646464"/>
<circle cx="507" cy="1514.65" r="2.7" fill="#646464"/>
<circle cx="504.7" cy="1537.58" r="2.7" fill="#646464"/>
<circle cx="507" cy="1537.58" r="2.7" fill="#646464"/>
<circle cx="503.55" cy="1560.51" r="2.7" fill="#646464"/>
<circle cx="505.85" cy="1560.51" r="2.7" fill="#646464"/>
<circle cx="508.15" cy="1560.51" r="2.7" fill="#646464"/>
<circle cx="503.55" cy="1583.44" r="2.7" fill="#646464"/>
<circle cx="505.85" cy="1583.44" r="2.7" fill="#646464"/>
<circle cx="508.15" cy="1583.44" r="2.7" fill="#646464"/>
<circle cx="499.15" cy="1606.37" r="2.7" fill="#646464"/>
<circle cx="501.83" cy="1606.37" r="2.7" fill="#646464"/>
<circle cx="504.51" cy="1606.37" r="2.7" fill="#646464"/>
<circle cx="507.19" cy="1606.37" r="2.7" fill="#646464"/>
<circle cx="509.87" cy="1606.37" r="2.7" fill="#646464"/>
<circle cx="512.55" cy="1606.37" r="2.7" fill="#646464"/>
<circle cx="500.9" cy="1629.3" r="2.7" fill="#646464"/>
<circle cx="504.2" cy="1629.3" r="2.7" fill="#646464"/>
<circle cx="507.5" cy="1629.3" r="2.7" fill="#646464"/>
<circle cx="510.8" cy="1629.3" r="2.7" fill="#646464"/>
<line x1="528.55" y1="1377.07" x2="528.55" y2="1629.3" stroke="#353535" stroke-width="1.6" />
<line x1="524.05" y1="1377.07" x2="533.05" y2="1377.07" stroke="#353535" stroke-width="1.6" />
<line x1="524.05" y1="1629.3" x2="533.05" y2="1629.3" stroke="#353535" stroke-width="1.6" />
<rect x="519.65" y="1560.51" width="17.8" height="45.86" fill="#8c5e22" stroke="#111" stroke-width="1.2"/>
<line x1="519.65" y1="1583.44" x2="537.45" y2="1583.44" stroke="#111" stroke-width="1.3" />
<circle cx="528.55" cy="1377.07" r="2.7" fill="#646464"/>
<circle cx="528.55" cy="1422.93" r="2.7" fill="#646464"/>
<circle cx="528.55" cy="1514.65" r="2.7" fill="#646464"/>
<circle cx="527.4" cy="1537.58" r="2.7" fill="#646464"/>
<circle cx="529.7" cy="1537.58" r="2.7" fill="#646464"/>
<circle cx="526.25" cy="1560.51" r="2.7" fill="#646464"/>
<circle cx="528.55" cy="1560.51" r="2.7" fill="#646464"/>
<circle cx="530.85" cy="1560.51" r="2.7" fill="#646464"/>
<circle cx="521.85" cy="1583.44" r="2.7" fill="#646464"/>
<circle cx="524.08" cy="1583.44" r="2.7" fill="#646464"/>
<circle cx="526.32" cy="1583.44" r="2.7" fill="#646464"/>
<circle cx="528.55" cy="1583.44" r="2.7" fill="#646464"/>
<circle cx="530.78" cy="1583.44" r="2.7" fill="#646464"/>
<circle cx="533.02" cy="1583.44" r="2.7" fill="#646464"/>
<circle cx="535.25" cy="1583.44" r="2.7" fill="#646464"/>
<circle cx="521.85" cy="1606.37" r="2.7" fill="#646464"/>
<circle cx="524.53" cy="1606.37" r="2.7" fill="#646464"/>
<circle cx="527.21" cy="1606.37" r="2.7" fill="#646464"/>
<circle cx="529.89" cy="1606.37" r="2.7" fill="#646464"/>
<circle cx="532.57" cy="1606.37" r="2.7" fill="#646464"/>
<circle cx="535.25" cy="1606.37" r="2.7" fill="#646464"/>
<circle cx="523.6" cy="1629.3" r="2.7" fill="#646464"/>
<circle cx="526.9" cy="1629.3" r="2.7" fill="#646464"/>
<circle cx="530.2" cy="1629.3" r="2.7" fill="#646464"/>
<circle cx="533.5" cy="1629.3" r="2.7" fill="#646464"/>
<line x1="526.35" y1="1576.56" x2="530.75" y2="1576.56" stroke="#000" stroke-width="1.2" />
<line x1="528.55" y1="1574.36" x2="528.55" y2="1578.76" stroke="#000" stroke-width="1.2" />
<line x1="52.8" y1="1629.3" x2="59.8" y2="1629.3" stroke="#000" stroke-width="3" />
<text x="47.2" y="1635.59" font-size="18.5" text-anchor="end" fill="#000" >0</text>
<line x1="52.8" y1="1583.44" x2="59.8" y2="1583.44" stroke="#000" stroke-width="3" />
<text x="47.2" y="1589.73" font-size="18.5" text-anchor="end" fill="#000" >2</text>
<line x1="52.8" y1="1537.58" x2="59.8" y2="1537.58" stroke="#000" stroke-width="3" />
<text x="47.2" y="1543.87" font-size="18.5" text-anchor="end" fill="#000" >4</text>
<line x1="52.8" y1="1491.72" x2="59.8" y2="1491.72" stroke="#000" stroke-width="3" />
<text x="47.2" y="1498.01" font-size="18.5" text-anchor="end" fill="#000" >6</text>
<line x1="52.8" y1="1445.86" x2="59.8" y2="1445.86" stroke="#000" stroke-width="3" />
<text x="47.2" y="1452.15" font-size="18.5" text-anchor="end" fill="#000" >8</text>
<line x1="52.8" y1="1400" x2="59.8" y2="1400" stroke="#000" stroke-width="3" />
<text x="47.2" y="1406.29" font-size="18.5" text-anchor="end" fill="#000" >10</text>
<line x1="52.8" y1="1354.14" x2="59.8" y2="1354.14" stroke="#000" stroke-width="3" />
<text x="47.2" y="1360.43" font-size="18.5" text-anchor="end" fill="#000" >12</text>
<line x1="52.8" y1="1308.28" x2="59.8" y2="1308.28" stroke="#000" stroke-width="3" />
<text x="47.2" y="1314.57" font-size="18.5" text-anchor="end" fill="#000" >14</text>
<text x="106.1" y="1655.6" font-size="18.3" text-anchor="middle" fill="#000" >Day 0</text>
<text x="235.6" y="1655.6" font-size="18.3" text-anchor="middle" fill="#000" >Day 1</text>
<text x="365.3" y="1655.6" font-size="18.3" text-anchor="middle" fill="#000" >Day 7</text>
<text x="494.5" y="1655.6" font-size="18.3" text-anchor="middle" fill="#000" >Day 28</text>
<rect x="63.8" y="1297.5" width="25.6" height="8" fill="#00bb00" stroke="#111" stroke-width="1.2"/>
<text x="105.3" y="1307.14" font-size="17.1" text-anchor="start" fill="#000" >Control</text>
<rect x="170.8" y="1297.5" width="25.6" height="8" fill="#ff0000" stroke="#111" stroke-width="1.2"/>
<text x="211.6" y="1307.14" font-size="17.1" text-anchor="start" fill="#000" >Predator</text>
<rect x="281.5" y="1297.5" width="25.6" height="8" fill="#55a2fb" stroke="#111" stroke-width="1.2"/>
<text x="322" y="1307.14" font-size="17.1" text-anchor="start" fill="#000" >Social isolation</text>
<rect x="446" y="1297.5" width="25.6" height="8" fill="#8c5e22" stroke="#111" stroke-width="1.2"/>
<text x="486.2" y="1307.14" font-size="17.1" text-anchor="start" fill="#000" >Caffeine</text>
<text x="11.4" y="1271.7" font-size="21.3" text-anchor="start" fill="#000" >G</text>
<text x="0" y="0" font-size="18.4" text-anchor="middle" transform="translate(19.5,1457) rotate(-90)">Freezing bouts (times)</text>
<line x1="59.8" y1="1723" x2="59.8" y2="2056.4" stroke="#000" stroke-width="3.6" />
<line x1="58" y1="2054.6" x2="540" y2="2054.6" stroke="#000" stroke-width="3.6" />
<line x1="111.4" y1="2054.6" x2="111.4" y2="2065.6" stroke="#000" stroke-width="3.5" />
<line x1="235.8" y1="2054.6" x2="235.8" y2="2065.6" stroke="#000" stroke-width="3.5" />
<line x1="361.2" y1="2054.6" x2="361.2" y2="2065.6" stroke="#000" stroke-width="3.5" />
<line x1="486.2" y1="2054.6" x2="486.2" y2="2065.6" stroke="#000" stroke-width="3.5" />
<line x1="78.25" y1="1834.6" x2="78.25" y2="2054.6" stroke="#353535" stroke-width="1.6" />
<line x1="73.75" y1="1834.6" x2="82.75" y2="1834.6" stroke="#353535" stroke-width="1.6" />
<line x1="73.75" y1="2054.6" x2="82.75" y2="2054.6" stroke="#353535" stroke-width="1.6" />
<rect x="69.65" y="1908.3" width="17.2" height="126.5" fill="#00bb00" stroke="#111" stroke-width="1.2"/>
<line x1="69.65" y1="2002.68" x2="86.85" y2="2002.68" stroke="#111" stroke-width="1.3" />
<circle cx="78.25" cy="1834.6" r="2.7" fill="#646464"/>
<circle cx="78.25" cy="1838.78" r="2.7" fill="#646464"/>
<circle cx="78.25" cy="1851.32" r="2.7" fill="#646464"/>
<circle cx="78.25" cy="1870.24" r="2.7" fill="#646464"/>
<circle cx="77.1" cy="1889.38" r="2.7" fill="#646464"/>
<circle cx="79.4" cy="1889.38" r="2.7" fill="#646464"/>
<circle cx="77.1" cy="1907.42" r="2.7" fill="#646464"/>
<circle cx="79.4" cy="1907.42" r="2.7" fill="#646464"/>
<circle cx="78.25" cy="1912.7" r="2.7" fill="#646464"/>
<circle cx="78.25" cy="1934.7" r="2.7" fill="#646464"/>
<circle cx="78.25" cy="1950.1" r="2.7" fill="#646464"/>
<circle cx="78.25" cy="1965.5" r="2.7" fill="#646464"/>
<circle cx="78.25" cy="1985.3" r="2.7" fill="#646464"/>
<circle cx="83.11" cy="1986.62" r="2.7" fill="#646464"/>
<circle cx="78.25" cy="1995.86" r="2.7" fill="#646464"/>
<circle cx="78.25" cy="2010.6" r="2.7" fill="#646464"/>
<circle cx="78.25" cy="2017.64" r="2.7" fill="#646464"/>
<circle cx="80.68" cy="2021.16" r="2.7" fill="#646464"/>
<circle cx="78.25" cy="2025.12" r="2.7" fill="#646464"/>
<circle cx="83.11" cy="2027.76" r="2.7" fill="#646464"/>
<circle cx="78.25" cy="2031.06" r="2.7" fill="#646464"/>
<circle cx="77.1" cy="2033.7" r="2.7" fill="#646464"/>
<circle cx="79.4" cy="2033.7" r="2.7" fill="#646464"/>
<circle cx="77.1" cy="2040.52" r="2.7" fill="#646464"/>
<circle cx="79.4" cy="2040.52" r="2.7" fill="#646464"/>
<circle cx="78.25" cy="2045.36" r="2.7" fill="#646464"/>
<circle cx="78.25" cy="2049.54" r="2.7" fill="#646464"/>
<circle cx="75.95" cy="2054.6" r="2.7" fill="#646464"/>
<circle cx="78.25" cy="2054.6" r="2.7" fill="#646464"/>
<circle cx="80.55" cy="2054.6" r="2.7" fill="#646464"/>
<line x1="76.05" y1="1975.4" x2="80.45" y2="1975.4" stroke="#000" stroke-width="1.2" />
<line x1="78.25" y1="1973.2" x2="78.25" y2="1977.6" stroke="#000" stroke-width="1.2" />
<text x="78.25" y="1827.1" font-size="17.5" text-anchor="middle" fill="#000" >b</text>
<line x1="100.35" y1="1834.6" x2="100.35" y2="2007.74" stroke="#353535" stroke-width="1.6" />
<line x1="95.85" y1="1834.6" x2="104.85" y2="1834.6" stroke="#353535" stroke-width="1.6" />
<line x1="95.85" y1="2007.74" x2="104.85" y2="2007.74" stroke="#353535" stroke-width="1.6" />
<rect x="91.75" y="1847.8" width="17.2" height="119.9" fill="#ff0000" stroke="#111" stroke-width="1.2"/>
<line x1="91.75" y1="1876.18" x2="108.95" y2="1876.18" stroke="#111" stroke-width="1.3" />
<circle cx="93.95" cy="1834.6" r="2.7" fill="#646464"/>
<circle cx="96.08" cy="1834.6" r="2.7" fill="#646464"/>
<circle cx="98.22" cy="1834.6" r="2.7" fill="#646464"/>
<circle cx="100.35" cy="1834.6" r="2.7" fill="#646464"/>
<circle cx="102.48" cy="1834.6" r="2.7" fill="#646464"/>
<circle cx="104.62" cy="1834.6" r="2.7" fill="#646464"/>
<circle cx="106.75" cy="1834.6" r="2.7" fill="#646464"/>
<circle cx="99.2" cy="1838.78" r="2.7" fill="#646464"/>
<circle cx="101.5" cy="1838.78" r="2.7" fill="#646464"/>
<circle cx="100.35" cy="1843.62" r="2.7" fill="#646464"/>
<circle cx="98.05" cy="1850" r="2.7" fill="#646464"/>
<circle cx="100.35" cy="1850" r="2.7" fill="#646464"/>
<circle cx="102.65" cy="1850" r="2.7" fill="#646464"/>
<circle cx="99.2" cy="1853.74" r="2.7" fill="#646464"/>
<circle cx="101.5" cy="1853.74" r="2.7" fill="#646464"/>
<circle cx="99.2" cy="1858.58" r="2.7" fill="#646464"/>
<circle cx="101.5" cy="1858.58" r="2.7" fill="#646464"/>
<circle cx="100.35" cy="1868.48" r="2.7" fill="#646464"/>
<circle cx="100.35" cy="1883.44" r="2.7" fill="#646464"/>
<circle cx="100.35" cy="1908.96" r="2.7" fill="#646464"/>
<circle cx="100.35" cy="1920.4" r="2.7" fill="#646464"/>
<circle cx="99.2" cy="1941.96" r="2.7" fill="#646464"/>
<circle cx="101.5" cy="1941.96" r="2.7" fill="#646464"/>
<circle cx="100.35" cy="1947.9" r="2.7" fill="#646464"/>
<circle cx="99.2" cy="1956.04" r="2.7" fill="#646464"/>
<circle cx="101.5" cy="1956.04" r="2.7" fill="#646464"/>
<circle cx="100.35" cy="1966.16" r="2.7" fill="#646464"/>
<circle cx="98.05" cy="1976.28" r="2.7" fill="#646464"/>
<circle cx="100.35" cy="1976.28" r="2.7" fill="#646464"/>
<circle cx="102.65" cy="1976.28" r="2.7" fill="#646464"/>
<circle cx="100.35" cy="1990.8" r="2.7" fill="#646464"/>
<circle cx="100.35" cy="1996.3" r="2.7" fill="#646464"/>
<circle cx="99.2" cy="2007.52" r="2.7" fill="#646464"/>
<circle cx="101.5" cy="2007.52" r="2.7" fill="#646464"/>
<line x1="98.15" y1="1903.46" x2="102.55" y2="1903.46" stroke="#000" stroke-width="1.2" />
<line x1="100.35" y1="1901.26" x2="100.35" y2="1905.66" stroke="#000" stroke-width="1.2" />
<text x="100.35" y="1827.1" font-size="17.5" text-anchor="middle" fill="#000" >a</text>
<line x1="122.45" y1="1898.84" x2="122.45" y2="2054.6" stroke="#353535" stroke-width="1.6" />
<line x1="117.95" y1="1898.84" x2="126.95" y2="1898.84" stroke="#353535" stroke-width="1.6" />
<line x1="117.95" y1="2054.6" x2="126.95" y2="2054.6" stroke="#353535" stroke-width="1.6" />
<rect x="113.85" y="2016.54" width="17.2" height="38.06" fill="#55a2fb" stroke="#111" stroke-width="1.2"/>
<line x1="113.85" y1="2047.78" x2="131.05" y2="2047.78" stroke="#111" stroke-width="1.3" />
<circle cx="122.45" cy="1898.4" r="2.7" fill="#646464"/>
<circle cx="122.45" cy="1926.56" r="2.7" fill="#646464"/>
<circle cx="122.45" cy="1996.3" r="2.7" fill="#646464"/>
<circle cx="122.45" cy="2007.08" r="2.7" fill="#646464"/>
<circle cx="124.88" cy="2010.16" r="2.7" fill="#646464"/>
<circle cx="122.45" cy="2013.46" r="2.7" fill="#646464"/>
<circle cx="122.45" cy="2018.3" r="2.7" fill="#646464"/>
<circle cx="124.88" cy="2021.38" r="2.7" fill="#646464"/>
<circle cx="122.45" cy="2027.76" r="2.7" fill="#646464"/>
<circle cx="122.45" cy="2036.34" r="2.7" fill="#646464"/>
<circle cx="122.45" cy="2046.46" r="2.7" fill="#646464"/>
<circle cx="127.31" cy="2049.1" r="2.7" fill="#646464"/>
<circle cx="116.05" cy="2054.6" r="2.7" fill="#646464"/>
<circle cx="117.88" cy="2054.6" r="2.7" fill="#646464"/>
<circle cx="119.71" cy="2054.6" r="2.7" fill="#646464"/>
<circle cx="121.54" cy="2054.6" r="2.7" fill="#646464"/>
<circle cx="123.36" cy="2054.6" r="2.7" fill="#646464"/>
<circle cx="125.19" cy="2054.6" r="2.7" fill="#646464"/>
<circle cx="127.02" cy="2054.6" r="2.7" fill="#646464"/>
<circle cx="128.85" cy="2054.6" r="2.7" fill="#646464"/>
<text x="122.45" y="1891.34" font-size="17.5" text-anchor="middle" fill="#000" >c</text>
<line x1="144.55" y1="1834.6" x2="144.55" y2="2054.6" stroke="#353535" stroke-width="1.6" />
<line x1="140.05" y1="1834.6" x2="149.05" y2="1834.6" stroke="#353535" stroke-width="1.6" />
<line x1="140.05" y1="2054.6" x2="149.05" y2="2054.6" stroke="#353535" stroke-width="1.6" />
<rect x="135.95" y="1993.88" width="17.2" height="60.72" fill="#8c5e22" stroke="#111" stroke-width="1.2"/>
<line x1="135.95" y1="2054.6" x2="153.15" y2="2054.6" stroke="#111" stroke-width="1.3" />
<circle cx="144.55" cy="1834.6" r="2.7" fill="#646464"/>
<circle cx="144.55" cy="1840.32" r="2.7" fill="#646464"/>
<circle cx="144.55" cy="1860.56" r="2.7" fill="#646464"/>
<circle cx="144.55" cy="1956.04" r="2.7" fill="#646464"/>
<circle cx="144.55" cy="1961.76" r="2.7" fill="#646464"/>
<circle cx="144.55" cy="1983.54" r="2.7" fill="#646464"/>
<circle cx="144.55" cy="1998.06" r="2.7" fill="#646464"/>
<circle cx="144.55" cy="2002.9" r="2.7" fill="#646464"/>
<circle cx="144.55" cy="2025.12" r="2.7" fill="#646464"/>
<circle cx="144.55" cy="2032.6" r="2.7" fill="#646464"/>
<circle cx="144.55" cy="2039.42" r="2.7" fill="#646464"/>
<circle cx="144.55" cy="2052.84" r="2.7" fill="#646464"/>
<circle cx="138.15" cy="2054.6" r="2.7" fill="#646464"/>
<circle cx="139.75" cy="2054.6" r="2.7" fill="#646464"/>
<circle cx="141.35" cy="2054.6" r="2.7" fill="#646464"/>
<circle cx="142.95" cy="2054.6" r="2.7" fill="#646464"/>
<circle cx="144.55" cy="2054.6" r="2.7" fill="#646464"/>
<circle cx="146.15" cy="2054.6" r="2.7" fill="#646464"/>
<circle cx="147.75" cy="2054.6" r="2.7" fill="#646464"/>
<circle cx="149.35" cy="2054.6" r="2.7" fill="#646464"/>
<circle cx="150.95" cy="2054.6" r="2.7" fill="#646464"/>
<line x1="142.35" y1="2013.24" x2="146.75" y2="2013.24" stroke="#000" stroke-width="1.2" />
<line x1="144.55" y1="2011.04" x2="144.55" y2="2015.44" stroke="#000" stroke-width="1.2" />
<text x="144.55" y="1827.1" font-size="17.5" text-anchor="middle" fill="#000" >c</text>
<line x1="202.65" y1="1834.6" x2="202.65" y2="2054.6" stroke="#353535" stroke-width="1.6" />
<line x1="198.15" y1="1834.6" x2="207.15" y2="1834.6" stroke="#353535" stroke-width="1.6" />
<line x1="198.15" y1="2054.6" x2="207.15" y2="2054.6" stroke="#353535" stroke-width="1.6" />
<rect x="194.05" y="1914.46" width="17.2" height="128.48" fill="#00bb00" stroke="#111" stroke-width="1.2"/>
<line x1="194.05" y1="1982.88" x2="211.25" y2="1982.88" stroke="#111" stroke-width="1.3" />
<circle cx="200.35" cy="1834.6" r="2.7" fill="#646464"/>
<circle cx="202.65" cy="1834.6" r="2.7" fill="#646464"/>
<circle cx="204.95" cy="1834.6" r="2.7" fill="#646464"/>
<circle cx="207.51" cy="1837.9" r="2.7" fill="#646464"/>
<circle cx="202.65" cy="1841.42" r="2.7" fill="#646464"/>
<circle cx="202.65" cy="1846.7" r="2.7" fill="#646464"/>
<circle cx="202.65" cy="1874.42" r="2.7" fill="#646464"/>
<circle cx="202.65" cy="1886.3" r="2.7" fill="#646464"/>
<circle cx="202.65" cy="1922.82" r="2.7" fill="#646464"/>
<circle cx="201.5" cy="1936.68" r="2.7" fill="#646464"/>
<circle cx="203.8" cy="1936.68" r="2.7" fill="#646464"/>
<circle cx="201.5" cy="1941.08" r="2.7" fill="#646464"/>
<circle cx="203.8" cy="1941.08" r="2.7" fill="#646464"/>
<circle cx="207.51" cy="1943.72" r="2.7" fill="#646464"/>
<circle cx="202.65" cy="1949" r="2.7" fill="#646464"/>
<circle cx="202.65" cy="1971.88" r="2.7" fill="#646464"/>
<circle cx="202.65" cy="1980.46" r="2.7" fill="#646464"/>
<circle cx="202.65" cy="1984.2" r="2.7" fill="#646464"/>
<circle cx="202.65" cy="1988.82" r="2.7" fill="#646464"/>
<circle cx="202.65" cy="2002.24" r="2.7" fill="#646464"/>
<circle cx="202.65" cy="2023.58" r="2.7" fill="#646464"/>
<circle cx="201.5" cy="2029.3" r="2.7" fill="#646464"/>
<circle cx="203.8" cy="2029.3" r="2.7" fill="#646464"/>
<circle cx="202.65" cy="2036.34" r="2.7" fill="#646464"/>
<circle cx="200.35" cy="2044.26" r="2.7" fill="#646464"/>
<circle cx="202.65" cy="2044.26" r="2.7" fill="#646464"/>
<circle cx="204.95" cy="2044.26" r="2.7" fill="#646464"/>
<circle cx="196.25" cy="2054.6" r="2.7" fill="#646464"/>
<circle cx="198.38" cy="2054.6" r="2.7" fill="#646464"/>
<circle cx="200.52" cy="2054.6" r="2.7" fill="#646464"/>
<circle cx="202.65" cy="2054.6" r="2.7" fill="#646464"/>
<circle cx="204.78" cy="2054.6" r="2.7" fill="#646464"/>
<circle cx="206.92" cy="2054.6" r="2.7" fill="#646464"/>
<circle cx="209.05" cy="2054.6" r="2.7" fill="#646464"/>
<line x1="200.45" y1="1968.58" x2="204.85" y2="1968.58" stroke="#000" stroke-width="1.2" />
<line x1="202.65" y1="1966.38" x2="202.65" y2="1970.78" stroke="#000" stroke-width="1.2" />
<text x="202.65" y="1827.1" font-size="17.5" text-anchor="middle" fill="#000" >b</text>
<line x1="224.75" y1="1834.6" x2="224.75" y2="2054.6" stroke="#353535" stroke-width="1.6" />
<line x1="220.25" y1="1834.6" x2="229.25" y2="1834.6" stroke="#353535" stroke-width="1.6" />
<line x1="220.25" y1="2054.6" x2="229.25" y2="2054.6" stroke="#353535" stroke-width="1.6" />
<rect x="216.15" y="1867.6" width="17.2" height="131.78" fill="#ff0000" stroke="#111" stroke-width="1.2"/>
<line x1="216.15" y1="1931.84" x2="233.35" y2="1931.84" stroke="#111" stroke-width="1.3" />
<circle cx="218.35" cy="1834.6" r="2.7" fill="#646464"/>
<circle cx="221.55" cy="1834.6" r="2.7" fill="#646464"/>
<circle cx="224.75" cy="1834.6" r="2.7" fill="#646464"/>
<circle cx="227.95" cy="1834.6" r="2.7" fill="#646464"/>
<circle cx="231.15" cy="1834.6" r="2.7" fill="#646464"/>
<circle cx="224.75" cy="1836.8" r="2.7" fill="#646464"/>
<circle cx="222.45" cy="1842.52" r="2.7" fill="#646464"/>
<circle cx="224.75" cy="1842.52" r="2.7" fill="#646464"/>
<circle cx="227.05" cy="1842.52" r="2.7" fill="#646464"/>
<circle cx="224.75" cy="1851.54" r="2.7" fill="#646464"/>
<circle cx="224.75" cy="1871.78" r="2.7" fill="#646464"/>
<circle cx="224.75" cy="1895.76" r="2.7" fill="#646464"/>
<circle cx="222.45" cy="1902.8" r="2.7" fill="#646464"/>
<circle cx="224.75" cy="1902.8" r="2.7" fill="#646464"/>
<circle cx="227.05" cy="1902.8" r="2.7" fill="#646464"/>
<circle cx="224.75" cy="1908.96" r="2.7" fill="#646464"/>
<circle cx="224.75" cy="1917.54" r="2.7" fill="#646464"/>
<circle cx="224.75" cy="1923.48" r="2.7" fill="#646464"/>
<circle cx="224.75" cy="1928.1" r="2.7" fill="#646464"/>
<circle cx="224.75" cy="1935.58" r="2.7" fill="#646464"/>
<circle cx="224.75" cy="1942.62" r="2.7" fill="#646464"/>
<circle cx="229.61" cy="1943.28" r="2.7" fill="#646464"/>
<circle cx="223.6" cy="1950.54" r="2.7" fill="#646464"/>
<circle cx="225.9" cy="1950.54" r="2.7" fill="#646464"/>
<circle cx="229.61" cy="1952.74" r="2.7" fill="#646464"/>
<circle cx="224.75" cy="1972.98" r="2.7" fill="#646464"/>
<circle cx="224.75" cy="1985.3" r="2.7" fill="#646464"/>
<circle cx="223.6" cy="1995.2" r="2.7" fill="#646464"/>
<circle cx="225.9" cy="1995.2" r="2.7" fill="#646464"/>
<circle cx="223.6" cy="2011.7" r="2.7" fill="#646464"/>
<circle cx="225.9" cy="2011.7" r="2.7" fill="#646464"/>
<circle cx="224.75" cy="2026.22" r="2.7" fill="#646464"/>
<circle cx="218.35" cy="2054.6" r="2.7" fill="#646464"/>
<circle cx="220.91" cy="2054.6" r="2.7" fill="#646464"/>
<circle cx="223.47" cy="2054.6" r="2.7" fill="#646464"/>
<circle cx="226.03" cy="2054.6" r="2.7" fill="#646464"/>
<circle cx="228.59" cy="2054.6" r="2.7" fill="#646464"/>
<circle cx="231.15" cy="2054.6" r="2.7" fill="#646464"/>
<text x="224.75" y="1827.1" font-size="17.5" text-anchor="middle" fill="#000" >a</text>
<line x1="246.85" y1="1834.6" x2="246.85" y2="2054.6" stroke="#353535" stroke-width="1.6" />
<line x1="242.35" y1="1834.6" x2="251.35" y2="1834.6" stroke="#353535" stroke-width="1.6" />
<line x1="242.35" y1="2054.6" x2="251.35" y2="2054.6" stroke="#353535" stroke-width="1.6" />
<rect x="238.25" y="2017.86" width="17.2" height="36.74" fill="#55a2fb" stroke="#111" stroke-width="1.2"/>
<line x1="238.25" y1="2038.1" x2="255.45" y2="2038.1" stroke="#111" stroke-width="1.3" />
<circle cx="246.85" cy="1834.6" r="2.7" fill="#646464"/>
<circle cx="246.85" cy="1919.08" r="2.7" fill="#646464"/>
<circle cx="246.85" cy="1972.98" r="2.7" fill="#646464"/>
<circle cx="245.7" cy="1983.32" r="2.7" fill="#646464"/>
<circle cx="248" cy="1983.32" r="2.7" fill="#646464"/>
<circle cx="246.85" cy="1992.12" r="2.7" fill="#646464"/>
<circle cx="246.85" cy="2002.9" r="2.7" fill="#646464"/>
<circle cx="244.55" cy="2021.82" r="2.7" fill="#646464"/>
<circle cx="246.85" cy="2021.82" r="2.7" fill="#646464"/>
<circle cx="249.15" cy="2021.82" r="2.7" fill="#646464"/>
<circle cx="245.7" cy="2025.12" r="2.7" fill="#646464"/>
<circle cx="248" cy="2025.12" r="2.7" fill="#646464"/>
<circle cx="246.85" cy="2030.4" r="2.7" fill="#646464"/>
<circle cx="249.28" cy="2033.7" r="2.7" fill="#646464"/>
<circle cx="246.85" cy="2037.88" r="2.7" fill="#646464"/>
<circle cx="246.85" cy="2042.06" r="2.7" fill="#646464"/>
<circle cx="245.7" cy="2045.8" r="2.7" fill="#646464"/>
<circle cx="248" cy="2045.8" r="2.7" fill="#646464"/>
<circle cx="246.85" cy="2050.64" r="2.7" fill="#646464"/>
<circle cx="240.45" cy="2054.6" r="2.7" fill="#646464"/>
<circle cx="242.58" cy="2054.6" r="2.7" fill="#646464"/>
<circle cx="244.72" cy="2054.6" r="2.7" fill="#646464"/>
<circle cx="246.85" cy="2054.6" r="2.7" fill="#646464"/>
<circle cx="248.98" cy="2054.6" r="2.7" fill="#646464"/>
<circle cx="251.12" cy="2054.6" r="2.7" fill="#646464"/>
<circle cx="253.25" cy="2054.6" r="2.7" fill="#646464"/>
<text x="246.85" y="1827.1" font-size="17.5" text-anchor="middle" fill="#000" >c</text>
<line x1="268.95" y1="1834.6" x2="268.95" y2="2040.74" stroke="#353535" stroke-width="1.6" />
<line x1="264.45" y1="1834.6" x2="273.45" y2="1834.6" stroke="#353535" stroke-width="1.6" />
<line x1="264.45" y1="2040.74" x2="273.45" y2="2040.74" stroke="#353535" stroke-width="1.6" />
<rect x="260.35" y="1857.26" width="17.2" height="134.42" fill="#8c5e22" stroke="#111" stroke-width="1.2"/>
<line x1="260.35" y1="1941.52" x2="277.55" y2="1941.52" stroke="#111" stroke-width="1.3" />
<circle cx="264" cy="1834.6" r="2.7" fill="#646464"/>
<circle cx="267.3" cy="1834.6" r="2.7" fill="#646464"/>
<circle cx="270.6" cy="1834.6" r="2.7" fill="#646464"/>
<circle cx="273.9" cy="1834.6" r="2.7" fill="#646464"/>
<circle cx="264" cy="1842.52" r="2.7" fill="#646464"/>
<circle cx="267.3" cy="1842.52" r="2.7" fill="#646464"/>
<circle cx="270.6" cy="1842.52" r="2.7" fill="#646464"/>
<circle cx="273.9" cy="1842.52" r="2.7" fill="#646464"/>
<circle cx="268.95" cy="1853.3" r="2.7" fill="#646464"/>
<circle cx="268.95" cy="1858.58" r="2.7" fill="#646464"/>
<circle cx="268.95" cy="1871.34" r="2.7" fill="#646464"/>
<circle cx="268.95" cy="1881.46" r="2.7" fill="#646464"/>
<circle cx="268.95" cy="1908.96" r="2.7" fill="#646464"/>
<circle cx="268.95" cy="1918.64" r="2.7" fill="#646464"/>
<circle cx="271.38" cy="1921.72" r="2.7" fill="#646464"/>
<circle cx="268.95" cy="1930.3" r="2.7" fill="#646464"/>
<circle cx="268.95" cy="1935.58" r="2.7" fill="#646464"/>
<circle cx="268.95" cy="1948.56" r="2.7" fill="#646464"/>
<circle cx="268.95" cy="1957.58" r="2.7" fill="#646464"/>
<circle cx="266.65" cy="1967.7" r="2.7" fill="#646464"/>
<circle cx="268.95" cy="1967.7" r="2.7" fill="#646464"/>
<circle cx="271.25" cy="1967.7" r="2.7" fill="#646464"/>
<circle cx="268.95" cy="1971.88" r="2.7" fill="#646464"/>
<circle cx="273.81" cy="1974.52" r="2.7" fill="#646464"/>
<circle cx="268.95" cy="1980.46" r="2.7" fill="#646464"/>
<circle cx="267.8" cy="1992.12" r="2.7" fill="#646464"/>
<circle cx="270.1" cy="1992.12" r="2.7" fill="#646464"/>
<circle cx="273.81" cy="1994.76" r="2.7" fill="#646464"/>
<circle cx="268.95" cy="2006.42" r="2.7" fill="#646464"/>
<circle cx="262.55" cy="2018.3" r="2.7" fill="#646464"/>
<circle cx="265.75" cy="2018.3" r="2.7" fill="#646464"/>
<circle cx="268.95" cy="2018.3" r="2.7" fill="#646464"/>
<circle cx="272.15" cy="2018.3" r="2.7" fill="#646464"/>
<circle cx="275.35" cy="2018.3" r="2.7" fill="#646464"/>
<circle cx="268.95" cy="2041.18" r="2.7" fill="#646464"/>
<text x="268.95" y="1827.1" font-size="17.5" text-anchor="middle" fill="#000" >a</text>
<line x1="328.05" y1="1834.6" x2="328.05" y2="2054.6" stroke="#353535" stroke-width="1.6" />
<line x1="323.55" y1="1834.6" x2="332.55" y2="1834.6" stroke="#353535" stroke-width="1.6" />
<line x1="323.55" y1="2054.6" x2="332.55" y2="2054.6" stroke="#353535" stroke-width="1.6" />
<rect x="319.45" y="1925.68" width="17.2" height="111.76" fill="#00bb00" stroke="#111" stroke-width="1.2"/>
<line x1="319.45" y1="1995.64" x2="336.65" y2="1995.64" stroke="#111" stroke-width="1.3" />
<circle cx="328.05" cy="1834.6" r="2.7" fill="#646464"/>
<circle cx="326.9" cy="1856.82" r="2.7" fill="#646464"/>
<circle cx="329.2" cy="1856.82" r="2.7" fill="#646464"/>
<circle cx="328.05" cy="1873.32" r="2.7" fill="#646464"/>
<circle cx="328.05" cy="1883.66" r="2.7" fill="#646464"/>
<circle cx="326.9" cy="1906.98" r="2.7" fill="#646464"/>
<circle cx="329.2" cy="1906.98" r="2.7" fill="#646464"/>
<circle cx="328.05" cy="1930.96" r="2.7" fill="#646464"/>
<circle cx="325.75" cy="1941.52" r="2.7" fill="#646464"/>
<circle cx="328.05" cy="1941.52" r="2.7" fill="#646464"/>
<circle cx="330.35" cy="1941.52" r="2.7" fill="#646464"/>
<circle cx="332.91" cy="1944.82" r="2.7" fill="#646464"/>
<circle cx="328.05" cy="1953.4" r="2.7" fill="#646464"/>
<circle cx="328.05" cy="1960.22" r="2.7" fill="#646464"/>
<circle cx="328.05" cy="1967.92" r="2.7" fill="#646464"/>
<circle cx="328.05" cy="1986.4" r="2.7" fill="#646464"/>
<circle cx="328.05" cy="1992.78" r="2.7" fill="#646464"/>
<circle cx="328.05" cy="1997.4" r="2.7" fill="#646464"/>
<circle cx="332.91" cy="1999.6" r="2.7" fill="#646464"/>
<circle cx="328.05" cy="2007.08" r="2.7" fill="#646464"/>
<circle cx="330.48" cy="2010.16" r="2.7" fill="#646464"/>
<circle cx="326.9" cy="2018.3" r="2.7" fill="#646464"/>
<circle cx="329.2" cy="2018.3" r="2.7" fill="#646464"/>
<circle cx="328.05" cy="2022.48" r="2.7" fill="#646464"/>
<circle cx="328.05" cy="2037.22" r="2.7" fill="#646464"/>
<circle cx="332.91" cy="2039.42" r="2.7" fill="#646464"/>
<circle cx="321.65" cy="2054.6" r="2.7" fill="#646464"/>
<circle cx="323.78" cy="2054.6" r="2.7" fill="#646464"/>
<circle cx="325.92" cy="2054.6" r="2.7" fill="#646464"/>
<circle cx="328.05" cy="2054.6" r="2.7" fill="#646464"/>
<circle cx="330.18" cy="2054.6" r="2.7" fill="#646464"/>
<circle cx="332.32" cy="2054.6" r="2.7" fill="#646464"/>
<circle cx="334.45" cy="2054.6" r="2.7" fill="#646464"/>
<line x1="325.85" y1="1976.06" x2="330.25" y2="1976.06" stroke="#000" stroke-width="1.2" />
<line x1="328.05" y1="1973.86" x2="328.05" y2="1978.26" stroke="#000" stroke-width="1.2" />
<text x="328.05" y="1827.1" font-size="17.5" text-anchor="middle" fill="#000" >ab</text>
<line x1="350.15" y1="1861" x2="350.15" y2="2054.6" stroke="#353535" stroke-width="1.6" />
<line x1="345.65" y1="1861" x2="354.65" y2="1861" stroke="#353535" stroke-width="1.6" />
<line x1="345.65" y1="2054.6" x2="354.65" y2="2054.6" stroke="#353535" stroke-width="1.6" />
<rect x="341.55" y="1972.54" width="17.2" height="82.06" fill="#ff0000" stroke="#111" stroke-width="1.2"/>
<line x1="341.55" y1="2023.8" x2="358.75" y2="2023.8" stroke="#111" stroke-width="1.3" />
<circle cx="350.15" cy="1861" r="2.7" fill="#646464"/>
<circle cx="350.15" cy="1908.52" r="2.7" fill="#646464"/>
<circle cx="349" cy="1927" r="2.7" fill="#646464"/>
<circle cx="351.3" cy="1927" r="2.7" fill="#646464"/>
<circle cx="349" cy="1939.98" r="2.7" fill="#646464"/>
<circle cx="351.3" cy="1939.98" r="2.7" fill="#646464"/>
<circle cx="355.01" cy="1941.08" r="2.7" fill="#646464"/>
<circle cx="350.15" cy="1962.2" r="2.7" fill="#646464"/>
<circle cx="350.15" cy="1975.18" r="2.7" fill="#646464"/>
<circle cx="349" cy="1994.32" r="2.7" fill="#646464"/>
<circle cx="351.3" cy="1994.32" r="2.7" fill="#646464"/>
<circle cx="350.15" cy="2001.14" r="2.7" fill="#646464"/>
<circle cx="352.58" cy="2004.44" r="2.7" fill="#646464"/>
<circle cx="350.15" cy="2010.16" r="2.7" fill="#646464"/>
<circle cx="350.15" cy="2021.38" r="2.7" fill="#646464"/>
<circle cx="350.15" cy="2025.12" r="2.7" fill="#646464"/>
<circle cx="355.01" cy="2027.76" r="2.7" fill="#646464"/>
<circle cx="350.15" cy="2035.24" r="2.7" fill="#646464"/>
<circle cx="350.15" cy="2041.18" r="2.7" fill="#646464"/>
<circle cx="350.15" cy="2045.8" r="2.7" fill="#646464"/>
<circle cx="350.15" cy="2052.84" r="2.7" fill="#646464"/>
<circle cx="343.75" cy="2054.6" r="2.7" fill="#646464"/>
<circle cx="345.88" cy="2054.6" r="2.7" fill="#646464"/>
<circle cx="348.02" cy="2054.6" r="2.7" fill="#646464"/>
<circle cx="350.15" cy="2054.6" r="2.7" fill="#646464"/>
<circle cx="352.28" cy="2054.6" r="2.7" fill="#646464"/>
<circle cx="354.42" cy="2054.6" r="2.7" fill="#646464"/>
<circle cx="356.55" cy="2054.6" r="2.7" fill="#646464"/>
<text x="350.15" y="1853.5" font-size="17.5" text-anchor="middle" fill="#000" >b</text>
<line x1="372.25" y1="1834.6" x2="372.25" y2="2054.6" stroke="#353535" stroke-width="1.6" />
<line x1="367.75" y1="1834.6" x2="376.75" y2="1834.6" stroke="#353535" stroke-width="1.6" />
<line x1="367.75" y1="2054.6" x2="376.75" y2="2054.6" stroke="#353535" stroke-width="1.6" />
<rect x="363.65" y="1897.08" width="17.2" height="157.52" fill="#55a2fb" stroke="#111" stroke-width="1.2"/>
<line x1="363.65" y1="2029.52" x2="380.85" y2="2029.52" stroke="#111" stroke-width="1.3" />
<circle cx="372.25" cy="1834.6" r="2.7" fill="#646464"/>
<circle cx="371.1" cy="1857.92" r="2.7" fill="#646464"/>
<circle cx="373.4" cy="1857.92" r="2.7" fill="#646464"/>
<circle cx="371.1" cy="1864.3" r="2.7" fill="#646464"/>
<circle cx="373.4" cy="1864.3" r="2.7" fill="#646464"/>
<circle cx="372.25" cy="1879.7" r="2.7" fill="#646464"/>
<circle cx="372.25" cy="1885.2" r="2.7" fill="#646464"/>
<circle cx="372.25" cy="1899.94" r="2.7" fill="#646464"/>
<circle cx="372.25" cy="1928.98" r="2.7" fill="#646464"/>
<circle cx="372.25" cy="1942.62" r="2.7" fill="#646464"/>
<circle cx="377.11" cy="1943.28" r="2.7" fill="#646464"/>
<circle cx="372.25" cy="1995.2" r="2.7" fill="#646464"/>
<circle cx="372.25" cy="2000.92" r="2.7" fill="#646464"/>
<circle cx="371.1" cy="2021.82" r="2.7" fill="#646464"/>
<circle cx="373.4" cy="2021.82" r="2.7" fill="#646464"/>
<circle cx="377.11" cy="2025.12" r="2.7" fill="#646464"/>
<circle cx="372.25" cy="2031.5" r="2.7" fill="#646464"/>
<circle cx="372.25" cy="2036.34" r="2.7" fill="#646464"/>
<circle cx="377.11" cy="2038.32" r="2.7" fill="#646464"/>
<circle cx="371.1" cy="2048.44" r="2.7" fill="#646464"/>
<circle cx="373.4" cy="2048.44" r="2.7" fill="#646464"/>
<circle cx="377.11" cy="2051.08" r="2.7" fill="#646464"/>
<circle cx="365.85" cy="2054.6" r="2.7" fill="#646464"/>
<circle cx="367.98" cy="2054.6" r="2.7" fill="#646464"/>
<circle cx="370.12" cy="2054.6" r="2.7" fill="#646464"/>
<circle cx="372.25" cy="2054.6" r="2.7" fill="#646464"/>
<circle cx="374.38" cy="2054.6" r="2.7" fill="#646464"/>
<circle cx="376.52" cy="2054.6" r="2.7" fill="#646464"/>
<circle cx="378.65" cy="2054.6" r="2.7" fill="#646464"/>
<line x1="370.05" y1="1987.5" x2="374.45" y2="1987.5" stroke="#000" stroke-width="1.2" />
<line x1="372.25" y1="1985.3" x2="372.25" y2="1989.7" stroke="#000" stroke-width="1.2" />
<text x="372.25" y="1827.1" font-size="17.5" text-anchor="middle" fill="#000" >ab</text>
<line x1="394.35" y1="1834.6" x2="394.35" y2="2054.6" stroke="#353535" stroke-width="1.6" />
<line x1="389.85" y1="1834.6" x2="398.85" y2="1834.6" stroke="#353535" stroke-width="1.6" />
<line x1="389.85" y1="2054.6" x2="398.85" y2="2054.6" stroke="#353535" stroke-width="1.6" />
<rect x="385.75" y="1908.74" width="17.2" height="116.16" fill="#8c5e22" stroke="#111" stroke-width="1.2"/>
<line x1="385.75" y1="1973.42" x2="402.95" y2="1973.42" stroke="#111" stroke-width="1.3" />
<circle cx="394.35" cy="1834.6" r="2.7" fill="#646464"/>
<circle cx="394.35" cy="1841.42" r="2.7" fill="#646464"/>
<circle cx="392.05" cy="1847.36" r="2.7" fill="#646464"/>
<circle cx="394.35" cy="1847.36" r="2.7" fill="#646464"/>
<circle cx="396.65" cy="1847.36" r="2.7" fill="#646464"/>
<circle cx="394.35" cy="1860.56" r="2.7" fill="#646464"/>
<circle cx="394.35" cy="1892.68" r="2.7" fill="#646464"/>
<circle cx="394.35" cy="1898.84" r="2.7" fill="#646464"/>
<circle cx="392.05" cy="1911.38" r="2.7" fill="#646464"/>
<circle cx="394.35" cy="1911.38" r="2.7" fill="#646464"/>
<circle cx="396.65" cy="1911.38" r="2.7" fill="#646464"/>
<circle cx="394.35" cy="1918.2" r="2.7" fill="#646464"/>
<circle cx="394.35" cy="1927" r="2.7" fill="#646464"/>
<circle cx="394.35" cy="1943.06" r="2.7" fill="#646464"/>
<circle cx="399.21" cy="1943.94" r="2.7" fill="#646464"/>
<circle cx="393.2" cy="1961.76" r="2.7" fill="#646464"/>
<circle cx="395.5" cy="1961.76" r="2.7" fill="#646464"/>
<circle cx="393.2" cy="1985.3" r="2.7" fill="#646464"/>
<circle cx="395.5" cy="1985.3" r="2.7" fill="#646464"/>
<circle cx="393.2" cy="1991.68" r="2.7" fill="#646464"/>
<circle cx="395.5" cy="1991.68" r="2.7" fill="#646464"/>
<circle cx="394.35" cy="2004.88" r="2.7" fill="#646464"/>
<circle cx="394.35" cy="2018.74" r="2.7" fill="#646464"/>
<circle cx="399.21" cy="2020.94" r="2.7" fill="#646464"/>
<circle cx="394.35" cy="2025.12" r="2.7" fill="#646464"/>
<circle cx="393.2" cy="2028.2" r="2.7" fill="#646464"/>
<circle cx="395.5" cy="2028.2" r="2.7" fill="#646464"/>
<circle cx="394.35" cy="2031.94" r="2.7" fill="#646464"/>
<circle cx="399.21" cy="2033.04" r="2.7" fill="#646464"/>
<circle cx="394.35" cy="2036.34" r="2.7" fill="#646464"/>
<circle cx="394.35" cy="2046.46" r="2.7" fill="#646464"/>
<circle cx="394.35" cy="2054.6" r="2.7" fill="#646464"/>
<line x1="392.15" y1="1958.24" x2="396.55" y2="1958.24" stroke="#000" stroke-width="1.2" />
<line x1="394.35" y1="1956.04" x2="394.35" y2="1960.44" stroke="#000" stroke-width="1.2" />
<text x="394.35" y="1827.1" font-size="17.5" text-anchor="middle" fill="#000" >a</text>
<line x1="453.05" y1="1834.6" x2="453.05" y2="2054.6" stroke="#353535" stroke-width="1.6" />
<line x1="448.55" y1="1834.6" x2="457.55" y2="1834.6" stroke="#353535" stroke-width="1.6" />
<line x1="448.55" y1="2054.6" x2="457.55" y2="2054.6" stroke="#353535" stroke-width="1.6" />
<rect x="444.45" y="1953.84" width="17.2" height="97.02" fill="#00bb00" stroke="#111" stroke-width="1.2"/>
<line x1="444.45" y1="2020.94" x2="461.65" y2="2020.94" stroke="#111" stroke-width="1.3" />
<circle cx="451.9" cy="1834.6" r="2.7" fill="#646464"/>
<circle cx="454.2" cy="1834.6" r="2.7" fill="#646464"/>
<circle cx="453.05" cy="1868.48" r="2.7" fill="#646464"/>
<circle cx="453.05" cy="1890.48" r="2.7" fill="#646464"/>
<circle cx="453.05" cy="1936.46" r="2.7" fill="#646464"/>
<circle cx="451.9" cy="1952.3" r="2.7" fill="#646464"/>
<circle cx="454.2" cy="1952.3" r="2.7" fill="#646464"/>
<circle cx="453.05" cy="1959.12" r="2.7" fill="#646464"/>
<circle cx="453.05" cy="1984.2" r="2.7" fill="#646464"/>
<circle cx="451.9" cy="2004.44" r="2.7" fill="#646464"/>
<circle cx="454.2" cy="2004.44" r="2.7" fill="#646464"/>
<circle cx="453.05" cy="2008.18" r="2.7" fill="#646464"/>
<circle cx="453.05" cy="2012.36" r="2.7" fill="#646464"/>
<circle cx="451.9" cy="2019.4" r="2.7" fill="#646464"/>
<circle cx="454.2" cy="2019.4" r="2.7" fill="#646464"/>
<circle cx="453.05" cy="2022.92" r="2.7" fill="#646464"/>
<circle cx="453.05" cy="2030.4" r="2.7" fill="#646464"/>
<circle cx="453.05" cy="2037.88" r="2.7" fill="#646464"/>
<circle cx="453.05" cy="2041.62" r="2.7" fill="#646464"/>
<circle cx="457.91" cy="2044.26" r="2.7" fill="#646464"/>
<circle cx="451.9" cy="2048" r="2.7" fill="#646464"/>
<circle cx="454.2" cy="2048" r="2.7" fill="#646464"/>
<circle cx="446.65" cy="2054.6" r="2.7" fill="#646464"/>
<circle cx="448.78" cy="2054.6" r="2.7" fill="#646464"/>
<circle cx="450.92" cy="2054.6" r="2.7" fill="#646464"/>
<circle cx="453.05" cy="2054.6" r="2.7" fill="#646464"/>
<circle cx="455.18" cy="2054.6" r="2.7" fill="#646464"/>
<circle cx="457.32" cy="2054.6" r="2.7" fill="#646464"/>
<circle cx="459.45" cy="2054.6" r="2.7" fill="#646464"/>
<line x1="450.85" y1="1992.78" x2="455.25" y2="1992.78" stroke="#000" stroke-width="1.2" />
<line x1="453.05" y1="1990.58" x2="453.05" y2="1994.98" stroke="#000" stroke-width="1.2" />
<text x="453.05" y="1827.1" font-size="17.5" text-anchor="middle" fill="#000" >ab</text>
<line x1="475.15" y1="1834.6" x2="475.15" y2="2054.6" stroke="#353535" stroke-width="1.6" />
<line x1="470.65" y1="1834.6" x2="479.65" y2="1834.6" stroke="#353535" stroke-width="1.6" />
<line x1="470.65" y1="2054.6" x2="479.65" y2="2054.6" stroke="#353535" stroke-width="1.6" />
<rect x="466.55" y="1908.52" width="17.2" height="146.08" fill="#ff0000" stroke="#111" stroke-width="1.2"/>
<line x1="466.55" y1="1977.6" x2="483.75" y2="1977.6" stroke="#111" stroke-width="1.3" />
<circle cx="472.85" cy="1834.6" r="2.7" fill="#646464"/>
<circle cx="475.15" cy="1834.6" r="2.7" fill="#646464"/>
<circle cx="477.45" cy="1834.6" r="2.7" fill="#646464"/>
<circle cx="475.15" cy="1855.28" r="2.7" fill="#646464"/>
<circle cx="475.15" cy="1895.76" r="2.7" fill="#646464"/>
<circle cx="475.15" cy="1903.24" r="2.7" fill="#646464"/>
<circle cx="475.15" cy="1908.96" r="2.7" fill="#646464"/>
<circle cx="480.01" cy="1911.6" r="2.7" fill="#646464"/>
<circle cx="475.15" cy="1922.6" r="2.7" fill="#646464"/>
<circle cx="475.15" cy="1933.6" r="2.7" fill="#646464"/>
<circle cx="477.58" cy="1937.12" r="2.7" fill="#646464"/>
<circle cx="475.15" cy="1949" r="2.7" fill="#646464"/>
<circle cx="474" cy="1969.24" r="2.7" fill="#646464"/>
<circle cx="476.3" cy="1969.24" r="2.7" fill="#646464"/>
<circle cx="475.15" cy="1984.2" r="2.7" fill="#646464"/>
<circle cx="475.15" cy="2001.58" r="2.7" fill="#646464"/>
<circle cx="475.15" cy="2007.08" r="2.7" fill="#646464"/>
<circle cx="475.15" cy="2015.44" r="2.7" fill="#646464"/>
<circle cx="475.15" cy="2033.04" r="2.7" fill="#646464"/>
<circle cx="475.15" cy="2040.08" r="2.7" fill="#646464"/>
<circle cx="475.15" cy="2045.8" r="2.7" fill="#646464"/>
<circle cx="468.75" cy="2054.6" r="2.7" fill="#646464"/>
<circle cx="470.88" cy="2054.6" r="2.7" fill="#646464"/>
<circle cx="473.02" cy="2054.6" r="2.7" fill="#646464"/>
<circle cx="475.15" cy="2054.6" r="2.7" fill="#646464"/>
<circle cx="477.28" cy="2054.6" r="2.7" fill="#646464"/>
<circle cx="479.42" cy="2054.6" r="2.7" fill="#646464"/>
<circle cx="481.55" cy="2054.6" r="2.7" fill="#646464"/>
<text x="475.15" y="1827.1" font-size="17.5" text-anchor="middle" fill="#000" >a</text>
<line x1="497.25" y1="1851.1" x2="497.25" y2="2054.6" stroke="#353535" stroke-width="1.6" />
<line x1="492.75" y1="1851.1" x2="501.75" y2="1851.1" stroke="#353535" stroke-width="1.6" />
<line x1="492.75" y1="2054.6" x2="501.75" y2="2054.6" stroke="#353535" stroke-width="1.6" />
<rect x="488.65" y="1998.5" width="17.2" height="51.7" fill="#55a2fb" stroke="#111" stroke-width="1.2"/>
<line x1="488.65" y1="2033.04" x2="505.85" y2="2033.04" stroke="#111" stroke-width="1.3" />
<circle cx="497.25" cy="1851.1" r="2.7" fill="#646464"/>
<circle cx="497.25" cy="1866.5" r="2.7" fill="#646464"/>
<circle cx="497.25" cy="1876.4" r="2.7" fill="#646464"/>
<circle cx="497.25" cy="1952.52" r="2.7" fill="#646464"/>
<circle cx="497.25" cy="1965.5" r="2.7" fill="#646464"/>
<circle cx="497.25" cy="1982.22" r="2.7" fill="#646464"/>
<circle cx="496.1" cy="1995.86" r="2.7" fill="#646464"/>
<circle cx="498.4" cy="1995.86" r="2.7" fill="#646464"/>
<circle cx="496.1" cy="2009.06" r="2.7" fill="#646464"/>
<circle cx="498.4" cy="2009.06" r="2.7" fill="#646464"/>
<circle cx="496.1" cy="2012.36" r="2.7" fill="#646464"/>
<circle cx="498.4" cy="2012.36" r="2.7" fill="#646464"/>
<circle cx="497.25" cy="2017.2" r="2.7" fill="#646464"/>
<circle cx="496.1" cy="2026.44" r="2.7" fill="#646464"/>
<circle cx="498.4" cy="2026.44" r="2.7" fill="#646464"/>
<circle cx="496.1" cy="2032.6" r="2.7" fill="#646464"/>
<circle cx="498.4" cy="2032.6" r="2.7" fill="#646464"/>
<circle cx="494.95" cy="2036.34" r="2.7" fill="#646464"/>
<circle cx="497.25" cy="2036.34" r="2.7" fill="#646464"/>
<circle cx="499.55" cy="2036.34" r="2.7" fill="#646464"/>
<circle cx="496.1" cy="2038.98" r="2.7" fill="#646464"/>
<circle cx="498.4" cy="2038.98" r="2.7" fill="#646464"/>
<circle cx="497.25" cy="2042.72" r="2.7" fill="#646464"/>
<circle cx="497.25" cy="2049.54" r="2.7" fill="#646464"/>
<circle cx="490.85" cy="2054.6" r="2.7" fill="#646464"/>
<circle cx="493.41" cy="2054.6" r="2.7" fill="#646464"/>
<circle cx="495.97" cy="2054.6" r="2.7" fill="#646464"/>
<circle cx="498.53" cy="2054.6" r="2.7" fill="#646464"/>
<circle cx="501.09" cy="2054.6" r="2.7" fill="#646464"/>
<circle cx="503.65" cy="2054.6" r="2.7" fill="#646464"/>
<text x="497.25" y="1843.6" font-size="17.5" text-anchor="middle" fill="#000" >b</text>
<line x1="519.35" y1="1834.6" x2="519.35" y2="2054.6" stroke="#353535" stroke-width="1.6" />
<line x1="514.85" y1="1834.6" x2="523.85" y2="1834.6" stroke="#353535" stroke-width="1.6" />
<line x1="514.85" y1="2054.6" x2="523.85" y2="2054.6" stroke="#353535" stroke-width="1.6" />
<rect x="510.75" y="1910.72" width="17.2" height="117.92" fill="#8c5e22" stroke="#111" stroke-width="1.2"/>
<line x1="510.75" y1="1967.48" x2="527.95" y2="1967.48" stroke="#111" stroke-width="1.3" />
<circle cx="518.2" cy="1834.6" r="2.7" fill="#646464"/>
<circle cx="520.5" cy="1834.6" r="2.7" fill="#646464"/>
<circle cx="519.35" cy="1848.46" r="2.7" fill="#646464"/>
<circle cx="519.35" cy="1869.8" r="2.7" fill="#646464"/>
<circle cx="518.2" cy="1876.62" r="2.7" fill="#646464"/>
<circle cx="520.5" cy="1876.62" r="2.7" fill="#646464"/>
<circle cx="519.35" cy="1898.18" r="2.7" fill="#646464"/>
<circle cx="519.35" cy="1914.46" r="2.7" fill="#646464"/>
<circle cx="518.2" cy="1923.48" r="2.7" fill="#646464"/>
<circle cx="520.5" cy="1923.48" r="2.7" fill="#646464"/>
<circle cx="518.2" cy="1932.5" r="2.7" fill="#646464"/>
<circle cx="520.5" cy="1932.5" r="2.7" fill="#646464"/>
<circle cx="524.21" cy="1935.14" r="2.7" fill="#646464"/>
<circle cx="519.35" cy="1948.34" r="2.7" fill="#646464"/>
<circle cx="519.35" cy="1952.74" r="2.7" fill="#646464"/>
<circle cx="519.35" cy="1965.5" r="2.7" fill="#646464"/>
<circle cx="519.35" cy="1969.24" r="2.7" fill="#646464"/>
<circle cx="519.35" cy="1973.86" r="2.7" fill="#646464"/>
<circle cx="519.35" cy="1979.8" r="2.7" fill="#646464"/>
<circle cx="519.35" cy="1984.42" r="2.7" fill="#646464"/>
<circle cx="519.35" cy="1991.9" r="2.7" fill="#646464"/>
<circle cx="519.35" cy="2007.3" r="2.7" fill="#646464"/>
<circle cx="519.35" cy="2024.02" r="2.7" fill="#646464"/>
<circle cx="519.35" cy="2028.2" r="2.7" fill="#646464"/>
<circle cx="518.2" cy="2031.5" r="2.7" fill="#646464"/>
<circle cx="520.5" cy="2031.5" r="2.7" fill="#646464"/>
<circle cx="519.35" cy="2049.1" r="2.7" fill="#646464"/>
<circle cx="514.4" cy="2054.6" r="2.7" fill="#646464"/>
<circle cx="517.7" cy="2054.6" r="2.7" fill="#646464"/>
<circle cx="521" cy="2054.6" r="2.7" fill="#646464"/>
<circle cx="524.3" cy="2054.6" r="2.7" fill="#646464"/>
<line x1="517.15" y1="1960.66" x2="521.55" y2="1960.66" stroke="#000" stroke-width="1.2" />
<line x1="519.35" y1="1958.46" x2="519.35" y2="1962.86" stroke="#000" stroke-width="1.2" />
<text x="519.35" y="1827.1" font-size="17.5" text-anchor="middle" fill="#000" >a</text>
<line x1="59.8" y1="2054.6" x2="66.8" y2="2054.6" stroke="#000" stroke-width="3" />
<text x="54.5" y="2060.89" font-size="18.5" text-anchor="end" fill="#000" >0</text>
<line x1="59.8" y1="1944.6" x2="66.8" y2="1944.6" stroke="#000" stroke-width="3" />
<text x="54.5" y="1950.89" font-size="18.5" text-anchor="end" fill="#000" >50</text>
<line x1="59.8" y1="1834.6" x2="66.8" y2="1834.6" stroke="#000" stroke-width="3" />
<text x="54.5" y="1840.89" font-size="18.5" text-anchor="end" fill="#000" >100</text>
<line x1="59.8" y1="1724.6" x2="66.8" y2="1724.6" stroke="#000" stroke-width="3" />
<text x="54.5" y="1730.89" font-size="18.5" text-anchor="end" fill="#000" >150</text>
<text x="111.4" y="2085" font-size="18.3" text-anchor="middle" fill="#000" >Day 0</text>
<text x="235.8" y="2085" font-size="18.3" text-anchor="middle" fill="#000" >Day 1</text>
<text x="361.2" y="2085" font-size="18.3" text-anchor="middle" fill="#000" >Day 7</text>
<text x="486.2" y="2085" font-size="18.3" text-anchor="middle" fill="#000" >Day 28</text>
<rect x="64.8" y="1740" width="25.2" height="8" fill="#00bb00" stroke="#111" stroke-width="1.2"/>
<text x="105.3" y="1749.54" font-size="16.8" text-anchor="start" fill="#000" >Control</text>
<rect x="169.6" y="1740" width="25.2" height="8" fill="#ff0000" stroke="#111" stroke-width="1.2"/>
<text x="209.7" y="1749.54" font-size="16.8" text-anchor="start" fill="#000" >Predator</text>
<rect x="274.3" y="1740" width="25.2" height="8" fill="#55a2fb" stroke="#111" stroke-width="1.2"/>
<text x="314.4" y="1749.54" font-size="16.8" text-anchor="start" fill="#000" >Social isolation</text>
<rect x="443" y="1740" width="25.2" height="8" fill="#8c5e22" stroke="#111" stroke-width="1.2"/>
<text x="482.8" y="1749.54" font-size="16.8" text-anchor="start" fill="#000" >Caffeine</text>
<text x="26.5" y="1707.4" font-size="21.3" text-anchor="start" fill="#000" >I</text>
<text x="0" y="0" font-size="18.05" text-anchor="middle" transform="translate(18.7,1889.4) rotate(-90)">Proportion of freezing time (%)</text>
<line x1="51.5" y1="2102" x2="51.5" y2="2443.1" stroke="#000" stroke-width="3.6" />
<line x1="49.7" y1="2441.3" x2="538.5" y2="2441.3" stroke="#000" stroke-width="3.6" />
<line x1="103.6" y1="2441.3" x2="103.6" y2="2449.6" stroke="#000" stroke-width="3.5" />
<line x1="230.3" y1="2441.3" x2="230.3" y2="2449.6" stroke="#000" stroke-width="3.5" />
<line x1="358.1" y1="2441.3" x2="358.1" y2="2449.6" stroke="#000" stroke-width="3.5" />
<line x1="484.8" y1="2441.3" x2="484.8" y2="2449.6" stroke="#000" stroke-width="3.5" />
<line x1="70" y1="2331.19" x2="70" y2="2441.3" stroke="#353535" stroke-width="1.6" />
<line x1="65.5" y1="2331.19" x2="74.5" y2="2331.19" stroke="#353535" stroke-width="1.6" />
<line x1="65.5" y1="2441.3" x2="74.5" y2="2441.3" stroke="#353535" stroke-width="1.6" />
<rect x="61.25" y="2382.86" width="17.5" height="58.44" fill="#00bb00" stroke="#111" stroke-width="1.2"/>
<line x1="61.25" y1="2420.12" x2="78.75" y2="2420.12" stroke="#111" stroke-width="1.3" />
<circle cx="70" cy="2331.19" r="2.7" fill="#646464"/>
<circle cx="68.85" cy="2348.13" r="2.7" fill="#646464"/>
<circle cx="71.15" cy="2348.13" r="2.7" fill="#646464"/>
<circle cx="70" cy="2365.07" r="2.7" fill="#646464"/>
<circle cx="70" cy="2373.54" r="2.7" fill="#646464"/>
<circle cx="67.7" cy="2382.01" r="2.7" fill="#646464"/>
<circle cx="70" cy="2382.01" r="2.7" fill="#646464"/>
<circle cx="72.3" cy="2382.01" r="2.7" fill="#646464"/>
<circle cx="68.85" cy="2390.48" r="2.7" fill="#646464"/>
<circle cx="71.15" cy="2390.48" r="2.7" fill="#646464"/>
<circle cx="68.85" cy="2398.95" r="2.7" fill="#646464"/>
<circle cx="71.15" cy="2398.95" r="2.7" fill="#646464"/>
<circle cx="68.85" cy="2407.42" r="2.7" fill="#646464"/>
<circle cx="71.15" cy="2407.42" r="2.7" fill="#646464"/>
<circle cx="68.85" cy="2415.89" r="2.7" fill="#646464"/>
<circle cx="71.15" cy="2415.89" r="2.7" fill="#646464"/>
<circle cx="68.85" cy="2424.36" r="2.7" fill="#646464"/>
<circle cx="71.15" cy="2424.36" r="2.7" fill="#646464"/>
<circle cx="63.45" cy="2441.3" r="2.7" fill="#646464"/>
<circle cx="65.32" cy="2441.3" r="2.7" fill="#646464"/>
<circle cx="67.19" cy="2441.3" r="2.7" fill="#646464"/>
<circle cx="69.06" cy="2441.3" r="2.7" fill="#646464"/>
<circle cx="70.94" cy="2441.3" r="2.7" fill="#646464"/>
<circle cx="72.81" cy="2441.3" r="2.7" fill="#646464"/>
<circle cx="74.68" cy="2441.3" r="2.7" fill="#646464"/>
<circle cx="76.55" cy="2441.3" r="2.7" fill="#646464"/>
<text x="70" y="2323.69" font-size="17.5" text-anchor="middle" fill="#000" >b</text>
<line x1="92.4" y1="2212.61" x2="92.4" y2="2441.3" stroke="#353535" stroke-width="1.6" />
<line x1="87.9" y1="2212.61" x2="96.9" y2="2212.61" stroke="#353535" stroke-width="1.6" />
<line x1="87.9" y1="2441.3" x2="96.9" y2="2441.3" stroke="#353535" stroke-width="1.6" />
<rect x="83.65" y="2348.98" width="17.5" height="92.32" fill="#ff0000" stroke="#111" stroke-width="1.2"/>
<line x1="83.65" y1="2377.78" x2="101.15" y2="2377.78" stroke="#111" stroke-width="1.3" />
<circle cx="92.4" cy="2212.61" r="2.7" fill="#646464"/>
<circle cx="92.4" cy="2297.31" r="2.7" fill="#646464"/>
<circle cx="92.4" cy="2331.19" r="2.7" fill="#646464"/>
<circle cx="92.4" cy="2339.66" r="2.7" fill="#646464"/>
<circle cx="90.1" cy="2348.13" r="2.7" fill="#646464"/>
<circle cx="92.4" cy="2348.13" r="2.7" fill="#646464"/>
<circle cx="94.7" cy="2348.13" r="2.7" fill="#646464"/>
<circle cx="87.45" cy="2365.07" r="2.7" fill="#646464"/>
<circle cx="90.75" cy="2365.07" r="2.7" fill="#646464"/>
<circle cx="94.05" cy="2365.07" r="2.7" fill="#646464"/>
<circle cx="97.35" cy="2365.07" r="2.7" fill="#646464"/>
<circle cx="92.4" cy="2373.54" r="2.7" fill="#646464"/>
<circle cx="92.4" cy="2382.01" r="2.7" fill="#646464"/>
<circle cx="87.45" cy="2415.89" r="2.7" fill="#646464"/>
<circle cx="90.75" cy="2415.89" r="2.7" fill="#646464"/>
<circle cx="94.05" cy="2415.89" r="2.7" fill="#646464"/>
<circle cx="97.35" cy="2415.89" r="2.7" fill="#646464"/>
<circle cx="91.25" cy="2424.36" r="2.7" fill="#646464"/>
<circle cx="93.55" cy="2424.36" r="2.7" fill="#646464"/>
<circle cx="85.85" cy="2441.3" r="2.7" fill="#646464"/>
<circle cx="87.72" cy="2441.3" r="2.7" fill="#646464"/>
<circle cx="89.59" cy="2441.3" r="2.7" fill="#646464"/>
<circle cx="91.46" cy="2441.3" r="2.7" fill="#646464"/>
<circle cx="93.34" cy="2441.3" r="2.7" fill="#646464"/>
<circle cx="95.21" cy="2441.3" r="2.7" fill="#646464"/>
<circle cx="97.08" cy="2441.3" r="2.7" fill="#646464"/>
<circle cx="98.95" cy="2441.3" r="2.7" fill="#646464"/>
<text x="92.4" y="2202.11" font-size="17.5" text-anchor="middle" fill="#000" >a</text>
<line x1="114.8" y1="2390.48" x2="114.8" y2="2441.3" stroke="#353535" stroke-width="1.6" />
<line x1="110.3" y1="2390.48" x2="119.3" y2="2390.48" stroke="#353535" stroke-width="1.6" />
<line x1="110.3" y1="2441.3" x2="119.3" y2="2441.3" stroke="#353535" stroke-width="1.6" />
<rect x="106.05" y="2433.68" width="17.5" height="7.62" fill="#55a2fb" stroke="#111" stroke-width="1.2"/>
<line x1="106.05" y1="2441.3" x2="123.55" y2="2441.3" stroke="#111" stroke-width="1.3" />
<circle cx="114.8" cy="2390.48" r="2.7" fill="#646464"/>
<circle cx="114.8" cy="2398.95" r="2.7" fill="#646464"/>
<circle cx="114.8" cy="2407.42" r="2.7" fill="#646464"/>
<circle cx="114.8" cy="2415.89" r="2.7" fill="#646464"/>
<circle cx="114.8" cy="2424.36" r="2.7" fill="#646464"/>
<circle cx="114.8" cy="2432.83" r="2.7" fill="#646464"/>
<circle cx="108.25" cy="2441.3" r="2.7" fill="#646464"/>
<circle cx="110.12" cy="2441.3" r="2.7" fill="#646464"/>
<circle cx="111.99" cy="2441.3" r="2.7" fill="#646464"/>
<circle cx="113.86" cy="2441.3" r="2.7" fill="#646464"/>
<circle cx="115.74" cy="2441.3" r="2.7" fill="#646464"/>
<circle cx="117.61" cy="2441.3" r="2.7" fill="#646464"/>
<circle cx="119.48" cy="2441.3" r="2.7" fill="#646464"/>
<circle cx="121.35" cy="2441.3" r="2.7" fill="#646464"/>
<text x="114.8" y="2381.48" font-size="17.5" text-anchor="middle" fill="#000" >c</text>
<line x1="137.2" y1="2340.51" x2="137.2" y2="2441.3" stroke="#353535" stroke-width="1.6" />
<line x1="132.7" y1="2340.51" x2="141.7" y2="2340.51" stroke="#353535" stroke-width="1.6" />
<line x1="132.7" y1="2441.3" x2="141.7" y2="2441.3" stroke="#353535" stroke-width="1.6" />
<rect x="128.45" y="2416.74" width="17.5" height="24.56" fill="#8c5e22" stroke="#111" stroke-width="1.2"/>
<line x1="128.45" y1="2424.36" x2="145.95" y2="2424.36" stroke="#111" stroke-width="1.3" />
<circle cx="137.2" cy="2339.66" r="2.7" fill="#646464"/>
<circle cx="137.2" cy="2348.13" r="2.7" fill="#646464"/>
<circle cx="137.2" cy="2382.01" r="2.7" fill="#646464"/>
<circle cx="137.2" cy="2398.95" r="2.7" fill="#646464"/>
<circle cx="137.2" cy="2407.42" r="2.7" fill="#646464"/>
<circle cx="134.9" cy="2415.89" r="2.7" fill="#646464"/>
<circle cx="137.2" cy="2415.89" r="2.7" fill="#646464"/>
<circle cx="139.5" cy="2415.89" r="2.7" fill="#646464"/>
<circle cx="134.9" cy="2424.36" r="2.7" fill="#646464"/>
<circle cx="137.2" cy="2424.36" r="2.7" fill="#646464"/>
<circle cx="139.5" cy="2424.36" r="2.7" fill="#646464"/>
<circle cx="130.65" cy="2441.3" r="2.7" fill="#646464"/>
<circle cx="132.52" cy="2441.3" r="2.7" fill="#646464"/>
<circle cx="134.39" cy="2441.3" r="2.7" fill="#646464"/>
<circle cx="136.26" cy="2441.3" r="2.7" fill="#646464"/>
<circle cx="138.14" cy="2441.3" r="2.7" fill="#646464"/>
<circle cx="140.01" cy="2441.3" r="2.7" fill="#646464"/>
<circle cx="141.88" cy="2441.3" r="2.7" fill="#646464"/>
<circle cx="143.75" cy="2441.3" r="2.7" fill="#646464"/>
<text x="137.2" y="2333.01" font-size="17.5" text-anchor="middle" fill="#000" >bc</text>
<line x1="196.7" y1="2322.72" x2="196.7" y2="2441.3" stroke="#353535" stroke-width="1.6" />
<line x1="192.2" y1="2322.72" x2="201.2" y2="2322.72" stroke="#353535" stroke-width="1.6" />
<line x1="192.2" y1="2441.3" x2="201.2" y2="2441.3" stroke="#353535" stroke-width="1.6" />
<rect x="187.95" y="2398.1" width="17.5" height="43.2" fill="#00bb00" stroke="#111" stroke-width="1.2"/>
<line x1="187.95" y1="2420.12" x2="205.45" y2="2420.12" stroke="#111" stroke-width="1.3" />
<circle cx="196.7" cy="2322.72" r="2.7" fill="#646464"/>
<circle cx="196.7" cy="2339.66" r="2.7" fill="#646464"/>
<circle cx="196.7" cy="2356.6" r="2.7" fill="#646464"/>
<circle cx="196.7" cy="2365.07" r="2.7" fill="#646464"/>
<circle cx="196.7" cy="2382.01" r="2.7" fill="#646464"/>
<circle cx="196.7" cy="2390.48" r="2.7" fill="#646464"/>
<circle cx="196.7" cy="2398.95" r="2.7" fill="#646464"/>
<circle cx="195.55" cy="2407.42" r="2.7" fill="#646464"/>
<circle cx="197.85" cy="2407.42" r="2.7" fill="#646464"/>
<circle cx="195.55" cy="2415.89" r="2.7" fill="#646464"/>
<circle cx="197.85" cy="2415.89" r="2.7" fill="#646464"/>
<circle cx="195.55" cy="2424.36" r="2.7" fill="#646464"/>
<circle cx="197.85" cy="2424.36" r="2.7" fill="#646464"/>
<circle cx="196.7" cy="2432.83" r="2.7" fill="#646464"/>
<circle cx="190.15" cy="2441.3" r="2.7" fill="#646464"/>
<circle cx="192.02" cy="2441.3" r="2.7" fill="#646464"/>
<circle cx="193.89" cy="2441.3" r="2.7" fill="#646464"/>
<circle cx="195.76" cy="2441.3" r="2.7" fill="#646464"/>
<circle cx="197.64" cy="2441.3" r="2.7" fill="#646464"/>
<circle cx="199.51" cy="2441.3" r="2.7" fill="#646464"/>
<circle cx="201.38" cy="2441.3" r="2.7" fill="#646464"/>
<circle cx="203.25" cy="2441.3" r="2.7" fill="#646464"/>
<text x="196.7" y="2315.22" font-size="17.5" text-anchor="middle" fill="#000" >b</text>
<line x1="219.1" y1="2254.96" x2="219.1" y2="2441.3" stroke="#353535" stroke-width="1.6" />
<line x1="214.6" y1="2254.96" x2="223.6" y2="2254.96" stroke="#353535" stroke-width="1.6" />
<line x1="214.6" y1="2441.3" x2="223.6" y2="2441.3" stroke="#353535" stroke-width="1.6" />
<rect x="210.35" y="2361.68" width="17.5" height="79.62" fill="#ff0000" stroke="#111" stroke-width="1.2"/>
<line x1="210.35" y1="2394.72" x2="227.85" y2="2394.72" stroke="#111" stroke-width="1.3" />
<circle cx="219.1" cy="2254.96" r="2.7" fill="#646464"/>
<circle cx="219.1" cy="2263.43" r="2.7" fill="#646464"/>
<circle cx="219.1" cy="2297.31" r="2.7" fill="#646464"/>
<circle cx="219.1" cy="2305.78" r="2.7" fill="#646464"/>
<circle cx="219.1" cy="2331.19" r="2.7" fill="#646464"/>
<circle cx="219.1" cy="2348.13" r="2.7" fill="#646464"/>
<circle cx="217.95" cy="2365.07" r="2.7" fill="#646464"/>
<circle cx="220.25" cy="2365.07" r="2.7" fill="#646464"/>
<circle cx="219.1" cy="2373.54" r="2.7" fill="#646464"/>
<circle cx="217.95" cy="2382.01" r="2.7" fill="#646464"/>
<circle cx="220.25" cy="2382.01" r="2.7" fill="#646464"/>
<circle cx="219.1" cy="2390.48" r="2.7" fill="#646464"/>
<circle cx="219.1" cy="2398.95" r="2.7" fill="#646464"/>
<circle cx="219.1" cy="2407.42" r="2.7" fill="#646464"/>
<circle cx="219.1" cy="2415.89" r="2.7" fill="#646464"/>
<circle cx="212.55" cy="2441.3" r="2.7" fill="#646464"/>
<circle cx="214.42" cy="2441.3" r="2.7" fill="#646464"/>
<circle cx="216.29" cy="2441.3" r="2.7" fill="#646464"/>
<circle cx="218.16" cy="2441.3" r="2.7" fill="#646464"/>
<circle cx="220.04" cy="2441.3" r="2.7" fill="#646464"/>
<circle cx="221.91" cy="2441.3" r="2.7" fill="#646464"/>
<circle cx="223.78" cy="2441.3" r="2.7" fill="#646464"/>
<circle cx="225.65" cy="2441.3" r="2.7" fill="#646464"/>
<text x="219.1" y="2247.46" font-size="17.5" text-anchor="middle" fill="#000" >a</text>
<line x1="241.5" y1="2280.37" x2="241.5" y2="2441.3" stroke="#353535" stroke-width="1.6" />
<line x1="237" y1="2280.37" x2="246" y2="2280.37" stroke="#353535" stroke-width="1.6" />
<line x1="237" y1="2441.3" x2="246" y2="2441.3" stroke="#353535" stroke-width="1.6" />
<rect x="232.75" y="2415.04" width="17.5" height="26.26" fill="#55a2fb" stroke="#111" stroke-width="1.2"/>
<line x1="232.75" y1="2432.83" x2="250.25" y2="2432.83" stroke="#111" stroke-width="1.3" />
<circle cx="241.5" cy="2280.37" r="2.7" fill="#646464"/>
<circle cx="240.35" cy="2382.01" r="2.7" fill="#646464"/>
<circle cx="242.65" cy="2382.01" r="2.7" fill="#646464"/>
<circle cx="241.5" cy="2390.48" r="2.7" fill="#646464"/>
<circle cx="241.5" cy="2398.95" r="2.7" fill="#646464"/>
<circle cx="241.5" cy="2407.42" r="2.7" fill="#646464"/>
<circle cx="239.2" cy="2415.89" r="2.7" fill="#646464"/>
<circle cx="241.5" cy="2415.89" r="2.7" fill="#646464"/>
<circle cx="243.8" cy="2415.89" r="2.7" fill="#646464"/>
<circle cx="240.35" cy="2424.36" r="2.7" fill="#646464"/>
<circle cx="242.65" cy="2424.36" r="2.7" fill="#646464"/>
<circle cx="239.2" cy="2432.83" r="2.7" fill="#646464"/>
<circle cx="241.5" cy="2432.83" r="2.7" fill="#646464"/>
<circle cx="243.8" cy="2432.83" r="2.7" fill="#646464"/>
<circle cx="234.95" cy="2441.3" r="2.7" fill="#646464"/>
<circle cx="236.82" cy="2441.3" r="2.7" fill="#646464"/>
<circle cx="238.69" cy="2441.3" r="2.7" fill="#646464"/>
<circle cx="240.56" cy="2441.3" r="2.7" fill="#646464"/>
<circle cx="242.44" cy="2441.3" r="2.7" fill="#646464"/>
<circle cx="244.31" cy="2441.3" r="2.7" fill="#646464"/>
<circle cx="246.18" cy="2441.3" r="2.7" fill="#646464"/>
<circle cx="248.05" cy="2441.3" r="2.7" fill="#646464"/>
<text x="241.5" y="2272.87" font-size="17.5" text-anchor="middle" fill="#000" >b</text>
<line x1="263.9" y1="2331.19" x2="263.9" y2="2441.3" stroke="#353535" stroke-width="1.6" />
<line x1="259.4" y1="2331.19" x2="268.4" y2="2331.19" stroke="#353535" stroke-width="1.6" />
<line x1="259.4" y1="2441.3" x2="268.4" y2="2441.3" stroke="#353535" stroke-width="1.6" />
<rect x="255.15" y="2382.86" width="17.5" height="58.44" fill="#8c5e22" stroke="#111" stroke-width="1.2"/>
<line x1="255.15" y1="2411.66" x2="272.65" y2="2411.66" stroke="#111" stroke-width="1.3" />
<circle cx="263.9" cy="2331.19" r="2.7" fill="#646464"/>
<circle cx="262.75" cy="2348.13" r="2.7" fill="#646464"/>
<circle cx="265.05" cy="2348.13" r="2.7" fill="#646464"/>
<circle cx="263.9" cy="2365.07" r="2.7" fill="#646464"/>
<circle cx="258.95" cy="2382.01" r="2.7" fill="#646464"/>
<circle cx="262.25" cy="2382.01" r="2.7" fill="#646464"/>
<circle cx="265.55" cy="2382.01" r="2.7" fill="#646464"/>
<circle cx="268.85" cy="2382.01" r="2.7" fill="#646464"/>
<circle cx="262.75" cy="2390.48" r="2.7" fill="#646464"/>
<circle cx="265.05" cy="2390.48" r="2.7" fill="#646464"/>
<circle cx="262.75" cy="2398.95" r="2.7" fill="#646464"/>
<circle cx="265.05" cy="2398.95" r="2.7" fill="#646464"/>
<circle cx="262.75" cy="2407.42" r="2.7" fill="#646464"/>
<circle cx="265.05" cy="2407.42" r="2.7" fill="#646464"/>
<circle cx="262.75" cy="2415.89" r="2.7" fill="#646464"/>
<circle cx="265.05" cy="2415.89" r="2.7" fill="#646464"/>
<circle cx="262.75" cy="2424.36" r="2.7" fill="#646464"/>
<circle cx="265.05" cy="2424.36" r="2.7" fill="#646464"/>
<circle cx="257.35" cy="2441.3" r="2.7" fill="#646464"/>
<circle cx="259.22" cy="2441.3" r="2.7" fill="#646464"/>
<circle cx="261.09" cy="2441.3" r="2.7" fill="#646464"/>
<circle cx="262.96" cy="2441.3" r="2.7" fill="#646464"/>
<circle cx="264.84" cy="2441.3" r="2.7" fill="#646464"/>
<circle cx="266.71" cy="2441.3" r="2.7" fill="#646464"/>
<circle cx="268.58" cy="2441.3" r="2.7" fill="#646464"/>
<circle cx="270.45" cy="2441.3" r="2.7" fill="#646464"/>
<text x="263.9" y="2323.69" font-size="17.5" text-anchor="middle" fill="#000" >b</text>
<line x1="324.5" y1="2348.98" x2="324.5" y2="2441.3" stroke="#353535" stroke-width="1.6" />
<line x1="320" y1="2348.98" x2="329" y2="2348.98" stroke="#353535" stroke-width="1.6" />
<line x1="320" y1="2441.3" x2="329" y2="2441.3" stroke="#353535" stroke-width="1.6" />
<rect x="315.75" y="2400.22" width="17.5" height="41.08" fill="#00bb00" stroke="#111" stroke-width="1.2"/>
<line x1="315.75" y1="2424.36" x2="333.25" y2="2424.36" stroke="#111" stroke-width="1.3" />
<circle cx="324.5" cy="2348.13" r="2.7" fill="#646464"/>
<circle cx="324.5" cy="2365.07" r="2.7" fill="#646464"/>
<circle cx="324.5" cy="2373.54" r="2.7" fill="#646464"/>
<circle cx="324.5" cy="2382.01" r="2.7" fill="#646464"/>
<circle cx="323.35" cy="2398.95" r="2.7" fill="#646464"/>
<circle cx="325.65" cy="2398.95" r="2.7" fill="#646464"/>
<circle cx="324.5" cy="2407.42" r="2.7" fill="#646464"/>
<circle cx="324.5" cy="2415.89" r="2.7" fill="#646464"/>
<circle cx="324.5" cy="2424.36" r="2.7" fill="#646464"/>
<circle cx="323.35" cy="2432.83" r="2.7" fill="#646464"/>
<circle cx="325.65" cy="2432.83" r="2.7" fill="#646464"/>
<circle cx="317.95" cy="2441.3" r="2.7" fill="#646464"/>
<circle cx="319.82" cy="2441.3" r="2.7" fill="#646464"/>
<circle cx="321.69" cy="2441.3" r="2.7" fill="#646464"/>
<circle cx="323.56" cy="2441.3" r="2.7" fill="#646464"/>
<circle cx="325.44" cy="2441.3" r="2.7" fill="#646464"/>
<circle cx="327.31" cy="2441.3" r="2.7" fill="#646464"/>
<circle cx="329.18" cy="2441.3" r="2.7" fill="#646464"/>
<circle cx="331.05" cy="2441.3" r="2.7" fill="#646464"/>
<text x="324.5" y="2341.48" font-size="17.5" text-anchor="middle" fill="#000" >b</text>
<line x1="346.9" y1="2230.4" x2="346.9" y2="2441.3" stroke="#353535" stroke-width="1.6" />
<line x1="342.4" y1="2230.4" x2="351.4" y2="2230.4" stroke="#353535" stroke-width="1.6" />
<line x1="342.4" y1="2441.3" x2="351.4" y2="2441.3" stroke="#353535" stroke-width="1.6" />
<rect x="338.15" y="2362.53" width="17.5" height="78.77" fill="#ff0000" stroke="#111" stroke-width="1.2"/>
<line x1="338.15" y1="2415.89" x2="355.65" y2="2415.89" stroke="#111" stroke-width="1.3" />
<circle cx="346.9" cy="2229.55" r="2.7" fill="#646464"/>
<circle cx="346.9" cy="2297.31" r="2.7" fill="#646464"/>
<circle cx="346.9" cy="2322.72" r="2.7" fill="#646464"/>
<circle cx="346.9" cy="2331.19" r="2.7" fill="#646464"/>
<circle cx="346.9" cy="2339.66" r="2.7" fill="#646464"/>
<circle cx="346.9" cy="2348.13" r="2.7" fill="#646464"/>
<circle cx="345.75" cy="2365.07" r="2.7" fill="#646464"/>
<circle cx="348.05" cy="2365.07" r="2.7" fill="#646464"/>
<circle cx="345.75" cy="2373.54" r="2.7" fill="#646464"/>
<circle cx="348.05" cy="2373.54" r="2.7" fill="#646464"/>
<circle cx="345.75" cy="2382.01" r="2.7" fill="#646464"/>
<circle cx="348.05" cy="2382.01" r="2.7" fill="#646464"/>
<circle cx="346.9" cy="2390.48" r="2.7" fill="#646464"/>
<circle cx="345.75" cy="2415.89" r="2.7" fill="#646464"/>
<circle cx="348.05" cy="2415.89" r="2.7" fill="#646464"/>
<circle cx="346.9" cy="2424.36" r="2.7" fill="#646464"/>
<circle cx="340.35" cy="2441.3" r="2.7" fill="#646464"/>
<circle cx="342.22" cy="2441.3" r="2.7" fill="#646464"/>
<circle cx="344.09" cy="2441.3" r="2.7" fill="#646464"/>
<circle cx="345.96" cy="2441.3" r="2.7" fill="#646464"/>
<circle cx="347.84" cy="2441.3" r="2.7" fill="#646464"/>
<circle cx="349.71" cy="2441.3" r="2.7" fill="#646464"/>
<circle cx="351.58" cy="2441.3" r="2.7" fill="#646464"/>
<circle cx="353.45" cy="2441.3" r="2.7" fill="#646464"/>
<text x="346.9" y="2222.9" font-size="17.5" text-anchor="middle" fill="#000" >a</text>
<line x1="369.3" y1="2340.51" x2="369.3" y2="2441.3" stroke="#353535" stroke-width="1.6" />
<line x1="364.8" y1="2340.51" x2="373.8" y2="2340.51" stroke="#353535" stroke-width="1.6" />
<line x1="364.8" y1="2441.3" x2="373.8" y2="2441.3" stroke="#353535" stroke-width="1.6" />
<rect x="360.55" y="2398.1" width="17.5" height="36.42" fill="#55a2fb" stroke="#111" stroke-width="1.2"/>
<line x1="360.55" y1="2411.66" x2="378.05" y2="2411.66" stroke="#111" stroke-width="1.3" />
<circle cx="369.3" cy="2339.66" r="2.7" fill="#646464"/>
<circle cx="368.15" cy="2348.13" r="2.7" fill="#646464"/>
<circle cx="370.45" cy="2348.13" r="2.7" fill="#646464"/>
<circle cx="369.3" cy="2365.07" r="2.7" fill="#646464"/>
<circle cx="369.3" cy="2382.01" r="2.7" fill="#646464"/>
<circle cx="368.15" cy="2390.48" r="2.7" fill="#646464"/>
<circle cx="370.45" cy="2390.48" r="2.7" fill="#646464"/>
<circle cx="368.15" cy="2398.95" r="2.7" fill="#646464"/>
<circle cx="370.45" cy="2398.95" r="2.7" fill="#646464"/>
<circle cx="364.35" cy="2407.42" r="2.7" fill="#646464"/>
<circle cx="367.65" cy="2407.42" r="2.7" fill="#646464"/>
<circle cx="370.95" cy="2407.42" r="2.7" fill="#646464"/>
<circle cx="374.25" cy="2407.42" r="2.7" fill="#646464"/>
<circle cx="367" cy="2415.89" r="2.7" fill="#646464"/>
<circle cx="369.3" cy="2415.89" r="2.7" fill="#646464"/>
<circle cx="371.6" cy="2415.89" r="2.7" fill="#646464"/>
<circle cx="367" cy="2424.36" r="2.7" fill="#646464"/>
<circle cx="369.3" cy="2424.36" r="2.7" fill="#646464"/>
<circle cx="371.6" cy="2424.36" r="2.7" fill="#646464"/>
<circle cx="369.3" cy="2432.83" r="2.7" fill="#646464"/>
<circle cx="362.75" cy="2441.3" r="2.7" fill="#646464"/>
<circle cx="364.93" cy="2441.3" r="2.7" fill="#646464"/>
<circle cx="367.12" cy="2441.3" r="2.7" fill="#646464"/>
<circle cx="369.3" cy="2441.3" r="2.7" fill="#646464"/>
<circle cx="371.48" cy="2441.3" r="2.7" fill="#646464"/>
<circle cx="373.67" cy="2441.3" r="2.7" fill="#646464"/>
<circle cx="375.85" cy="2441.3" r="2.7" fill="#646464"/>
<text x="369.3" y="2333.01" font-size="17.5" text-anchor="middle" fill="#000" >ab</text>
<line x1="391.7" y1="2340.51" x2="391.7" y2="2441.3" stroke="#353535" stroke-width="1.6" />
<line x1="387.2" y1="2340.51" x2="396.2" y2="2340.51" stroke="#353535" stroke-width="1.6" />
<line x1="387.2" y1="2441.3" x2="396.2" y2="2441.3" stroke="#353535" stroke-width="1.6" />
<rect x="382.95" y="2381.16" width="17.5" height="60.14" fill="#8c5e22" stroke="#111" stroke-width="1.2"/>
<line x1="382.95" y1="2420.12" x2="400.45" y2="2420.12" stroke="#111" stroke-width="1.3" />
<circle cx="390.55" cy="2339.66" r="2.7" fill="#646464"/>
<circle cx="392.85" cy="2339.66" r="2.7" fill="#646464"/>
<circle cx="391.7" cy="2348.13" r="2.7" fill="#646464"/>
<circle cx="390.55" cy="2365.07" r="2.7" fill="#646464"/>
<circle cx="392.85" cy="2365.07" r="2.7" fill="#646464"/>
<circle cx="390.55" cy="2373.54" r="2.7" fill="#646464"/>
<circle cx="392.85" cy="2373.54" r="2.7" fill="#646464"/>
<circle cx="390.55" cy="2382.01" r="2.7" fill="#646464"/>
<circle cx="392.85" cy="2382.01" r="2.7" fill="#646464"/>
<circle cx="391.7" cy="2398.95" r="2.7" fill="#646464"/>
<circle cx="391.7" cy="2407.42" r="2.7" fill="#646464"/>
<circle cx="390.55" cy="2415.89" r="2.7" fill="#646464"/>
<circle cx="392.85" cy="2415.89" r="2.7" fill="#646464"/>
<circle cx="391.7" cy="2424.36" r="2.7" fill="#646464"/>
<circle cx="390.55" cy="2432.83" r="2.7" fill="#646464"/>
<circle cx="392.85" cy="2432.83" r="2.7" fill="#646464"/>
<circle cx="385.15" cy="2441.3" r="2.7" fill="#646464"/>
<circle cx="387.02" cy="2441.3" r="2.7" fill="#646464"/>
<circle cx="388.89" cy="2441.3" r="2.7" fill="#646464"/>
<circle cx="390.76" cy="2441.3" r="2.7" fill="#646464"/>
<circle cx="392.64" cy="2441.3" r="2.7" fill="#646464"/>
<circle cx="394.51" cy="2441.3" r="2.7" fill="#646464"/>
<circle cx="396.38" cy="2441.3" r="2.7" fill="#646464"/>
<circle cx="398.25" cy="2441.3" r="2.7" fill="#646464"/>
<text x="391.7" y="2333.01" font-size="17.5" text-anchor="middle" fill="#000" >ab</text>
<line x1="451.2" y1="2281.22" x2="451.2" y2="2441.3" stroke="#353535" stroke-width="1.6" />
<line x1="446.7" y1="2281.22" x2="455.7" y2="2281.22" stroke="#353535" stroke-width="1.6" />
<line x1="446.7" y1="2441.3" x2="455.7" y2="2441.3" stroke="#353535" stroke-width="1.6" />
<rect x="442.45" y="2378.62" width="17.5" height="62.68" fill="#00bb00" stroke="#111" stroke-width="1.2"/>
<line x1="442.45" y1="2428.6" x2="459.95" y2="2428.6" stroke="#111" stroke-width="1.3" />
<circle cx="451.2" cy="2280.37" r="2.7" fill="#646464"/>
<circle cx="448.9" cy="2365.07" r="2.7" fill="#646464"/>
<circle cx="451.2" cy="2365.07" r="2.7" fill="#646464"/>
<circle cx="453.5" cy="2365.07" r="2.7" fill="#646464"/>
<circle cx="450.05" cy="2382.01" r="2.7" fill="#646464"/>
<circle cx="452.35" cy="2382.01" r="2.7" fill="#646464"/>
<circle cx="451.2" cy="2390.48" r="2.7" fill="#646464"/>
<circle cx="450.05" cy="2415.89" r="2.7" fill="#646464"/>
<circle cx="452.35" cy="2415.89" r="2.7" fill="#646464"/>
<circle cx="450.05" cy="2424.36" r="2.7" fill="#646464"/>
<circle cx="452.35" cy="2424.36" r="2.7" fill="#646464"/>
<circle cx="451.2" cy="2432.83" r="2.7" fill="#646464"/>
<circle cx="444.65" cy="2441.3" r="2.7" fill="#646464"/>
<circle cx="446.52" cy="2441.3" r="2.7" fill="#646464"/>
<circle cx="448.39" cy="2441.3" r="2.7" fill="#646464"/>
<circle cx="450.26" cy="2441.3" r="2.7" fill="#646464"/>
<circle cx="452.14" cy="2441.3" r="2.7" fill="#646464"/>
<circle cx="454.01" cy="2441.3" r="2.7" fill="#646464"/>
<circle cx="455.88" cy="2441.3" r="2.7" fill="#646464"/>
<circle cx="457.75" cy="2441.3" r="2.7" fill="#646464"/>
<line x1="449" y1="2410.81" x2="453.4" y2="2410.81" stroke="#000" stroke-width="1.2" />
<line x1="451.2" y1="2408.61" x2="451.2" y2="2413.01" stroke="#000" stroke-width="1.2" />
<line x1="473.6" y1="2255.81" x2="473.6" y2="2441.3" stroke="#353535" stroke-width="1.6" />
<line x1="469.1" y1="2255.81" x2="478.1" y2="2255.81" stroke="#353535" stroke-width="1.6" />
<line x1="469.1" y1="2441.3" x2="478.1" y2="2441.3" stroke="#353535" stroke-width="1.6" />
<rect x="464.85" y="2382.86" width="17.5" height="58.44" fill="#ff0000" stroke="#111" stroke-width="1.2"/>
<line x1="464.85" y1="2433.25" x2="482.35" y2="2433.25" stroke="#111" stroke-width="1.3" />
<circle cx="473.6" cy="2254.96" r="2.7" fill="#646464"/>
<circle cx="473.6" cy="2314.25" r="2.7" fill="#646464"/>
<circle cx="473.6" cy="2339.66" r="2.7" fill="#646464"/>
<circle cx="473.6" cy="2365.07" r="2.7" fill="#646464"/>
<circle cx="471.3" cy="2382.01" r="2.7" fill="#646464"/>
<circle cx="473.6" cy="2382.01" r="2.7" fill="#646464"/>
<circle cx="475.9" cy="2382.01" r="2.7" fill="#646464"/>
<circle cx="472.45" cy="2398.95" r="2.7" fill="#646464"/>
<circle cx="474.75" cy="2398.95" r="2.7" fill="#646464"/>
<circle cx="473.6" cy="2424.36" r="2.7" fill="#646464"/>
<circle cx="467.05" cy="2441.3" r="2.7" fill="#646464"/>
<circle cx="468.92" cy="2441.3" r="2.7" fill="#646464"/>
<circle cx="470.79" cy="2441.3" r="2.7" fill="#646464"/>
<circle cx="472.66" cy="2441.3" r="2.7" fill="#646464"/>
<circle cx="474.54" cy="2441.3" r="2.7" fill="#646464"/>
<circle cx="476.41" cy="2441.3" r="2.7" fill="#646464"/>
<circle cx="478.28" cy="2441.3" r="2.7" fill="#646464"/>
<circle cx="480.15" cy="2441.3" r="2.7" fill="#646464"/>
<line x1="471.4" y1="2404.03" x2="475.8" y2="2404.03" stroke="#000" stroke-width="1.2" />
<line x1="473.6" y1="2401.83" x2="473.6" y2="2406.23" stroke="#000" stroke-width="1.2" />
<line x1="496" y1="2298.16" x2="496" y2="2441.3" stroke="#353535" stroke-width="1.6" />
<line x1="491.5" y1="2298.16" x2="500.5" y2="2298.16" stroke="#353535" stroke-width="1.6" />
<line x1="491.5" y1="2441.3" x2="500.5" y2="2441.3" stroke="#353535" stroke-width="1.6" />
<rect x="487.25" y="2381.16" width="17.5" height="60.14" fill="#55a2fb" stroke="#111" stroke-width="1.2"/>
<line x1="487.25" y1="2420.12" x2="504.75" y2="2420.12" stroke="#111" stroke-width="1.3" />
<circle cx="496" cy="2297.31" r="2.7" fill="#646464"/>
<circle cx="494.85" cy="2339.66" r="2.7" fill="#646464"/>
<circle cx="497.15" cy="2339.66" r="2.7" fill="#646464"/>
<circle cx="493.7" cy="2365.07" r="2.7" fill="#646464"/>
<circle cx="496" cy="2365.07" r="2.7" fill="#646464"/>
<circle cx="498.3" cy="2365.07" r="2.7" fill="#646464"/>
<circle cx="496" cy="2373.54" r="2.7" fill="#646464"/>
<circle cx="494.85" cy="2382.01" r="2.7" fill="#646464"/>
<circle cx="497.15" cy="2382.01" r="2.7" fill="#646464"/>
<circle cx="496" cy="2398.95" r="2.7" fill="#646464"/>
<circle cx="491.05" cy="2415.89" r="2.7" fill="#646464"/>
<circle cx="494.35" cy="2415.89" r="2.7" fill="#646464"/>
<circle cx="497.65" cy="2415.89" r="2.7" fill="#646464"/>
<circle cx="500.95" cy="2415.89" r="2.7" fill="#646464"/>
<circle cx="493.7" cy="2424.36" r="2.7" fill="#646464"/>
<circle cx="496" cy="2424.36" r="2.7" fill="#646464"/>
<circle cx="498.3" cy="2424.36" r="2.7" fill="#646464"/>
<circle cx="496" cy="2432.83" r="2.7" fill="#646464"/>
<circle cx="489.45" cy="2441.3" r="2.7" fill="#646464"/>
<circle cx="491.32" cy="2441.3" r="2.7" fill="#646464"/>
<circle cx="493.19" cy="2441.3" r="2.7" fill="#646464"/>
<circle cx="495.06" cy="2441.3" r="2.7" fill="#646464"/>
<circle cx="496.94" cy="2441.3" r="2.7" fill="#646464"/>
<circle cx="498.81" cy="2441.3" r="2.7" fill="#646464"/>
<circle cx="500.68" cy="2441.3" r="2.7" fill="#646464"/>
<circle cx="502.55" cy="2441.3" r="2.7" fill="#646464"/>
<line x1="493.8" y1="2408.27" x2="498.2" y2="2408.27" stroke="#000" stroke-width="1.2" />
<line x1="496" y1="2406.07" x2="496" y2="2410.47" stroke="#000" stroke-width="1.2" />
<line x1="518.4" y1="2298.16" x2="518.4" y2="2441.3" stroke="#353535" stroke-width="1.6" />
<line x1="513.9" y1="2298.16" x2="522.9" y2="2298.16" stroke="#353535" stroke-width="1.6" />
<line x1="513.9" y1="2441.3" x2="522.9" y2="2441.3" stroke="#353535" stroke-width="1.6" />
<rect x="509.65" y="2381.16" width="17.5" height="60.14" fill="#8c5e22" stroke="#111" stroke-width="1.2"/>
<line x1="509.65" y1="2420.12" x2="527.15" y2="2420.12" stroke="#111" stroke-width="1.3" />
<circle cx="518.4" cy="2297.31" r="2.7" fill="#646464"/>
<circle cx="517.25" cy="2348.13" r="2.7" fill="#646464"/>
<circle cx="519.55" cy="2348.13" r="2.7" fill="#646464"/>
<circle cx="516.1" cy="2365.07" r="2.7" fill="#646464"/>
<circle cx="518.4" cy="2365.07" r="2.7" fill="#646464"/>
<circle cx="520.7" cy="2365.07" r="2.7" fill="#646464"/>
<circle cx="518.4" cy="2373.54" r="2.7" fill="#646464"/>
<circle cx="516.1" cy="2382.01" r="2.7" fill="#646464"/>
<circle cx="518.4" cy="2382.01" r="2.7" fill="#646464"/>
<circle cx="520.7" cy="2382.01" r="2.7" fill="#646464"/>
<circle cx="517.25" cy="2398.95" r="2.7" fill="#646464"/>
<circle cx="519.55" cy="2398.95" r="2.7" fill="#646464"/>
<circle cx="517.25" cy="2407.42" r="2.7" fill="#646464"/>
<circle cx="519.55" cy="2407.42" r="2.7" fill="#646464"/>
<circle cx="517.25" cy="2415.89" r="2.7" fill="#646464"/>
<circle cx="519.55" cy="2415.89" r="2.7" fill="#646464"/>
<circle cx="517.25" cy="2424.36" r="2.7" fill="#646464"/>
<circle cx="519.55" cy="2424.36" r="2.7" fill="#646464"/>
<circle cx="511.85" cy="2441.3" r="2.7" fill="#646464"/>
<circle cx="513.72" cy="2441.3" r="2.7" fill="#646464"/>
<circle cx="515.59" cy="2441.3" r="2.7" fill="#646464"/>
<circle cx="517.46" cy="2441.3" r="2.7" fill="#646464"/>
<circle cx="519.34" cy="2441.3" r="2.7" fill="#646464"/>
<circle cx="521.21" cy="2441.3" r="2.7" fill="#646464"/>
<circle cx="523.08" cy="2441.3" r="2.7" fill="#646464"/>
<circle cx="524.95" cy="2441.3" r="2.7" fill="#646464"/>
<line x1="51.5" y1="2441.3" x2="58.5" y2="2441.3" stroke="#000" stroke-width="3" />
<text x="46.7" y="2447.59" font-size="18.5" text-anchor="end" fill="#000" >0</text>
<line x1="51.5" y1="2356.6" x2="58.5" y2="2356.6" stroke="#000" stroke-width="3" />
<text x="46.7" y="2362.89" font-size="18.5" text-anchor="end" fill="#000" >10</text>
<line x1="51.5" y1="2271.9" x2="58.5" y2="2271.9" stroke="#000" stroke-width="3" />
<text x="46.7" y="2278.19" font-size="18.5" text-anchor="end" fill="#000" >20</text>
<line x1="51.5" y1="2187.2" x2="58.5" y2="2187.2" stroke="#000" stroke-width="3" />
<text x="46.7" y="2193.49" font-size="18.5" text-anchor="end" fill="#000" >30</text>
<line x1="51.5" y1="2102.5" x2="58.5" y2="2102.5" stroke="#000" stroke-width="3" />
<text x="46.7" y="2108.79" font-size="18.5" text-anchor="end" fill="#000" >40</text>
<text x="103.6" y="2469" font-size="18.3" text-anchor="middle" fill="#000" >Day 0</text>
<text x="230.3" y="2469" font-size="18.3" text-anchor="middle" fill="#000" >Day 1</text>
<text x="358.1" y="2469" font-size="18.3" text-anchor="middle" fill="#000" >Day 7</text>
<text x="484.8" y="2469" font-size="18.3" text-anchor="middle" fill="#000" >Day 28</text>
<rect x="54.9" y="2119.1" width="25.3" height="8" fill="#00bb00" stroke="#111" stroke-width="1.2"/>
<text x="95.1" y="2128.74" font-size="17.1" text-anchor="start" fill="#000" >Control</text>
<rect x="163.1" y="2119.1" width="25.3" height="8" fill="#ff0000" stroke="#111" stroke-width="1.2"/>
<text x="203.6" y="2128.74" font-size="17.1" text-anchor="start" fill="#000" >Predator</text>
<rect x="276.5" y="2119.1" width="25.3" height="8" fill="#55a2fb" stroke="#111" stroke-width="1.2"/>
<text x="317" y="2128.74" font-size="17.1" text-anchor="start" fill="#000" >Social isolation</text>
<rect x="446.5" y="2119.1" width="25.3" height="8" fill="#8c5e22" stroke="#111" stroke-width="1.2"/>
<text x="487.1" y="2128.74" font-size="17.1" text-anchor="start" fill="#000" >Caffeine</text>
<text x="18.1" y="2103.5" font-size="21.3" text-anchor="start" fill="#000" >K</text>
<text x="0" y="0" font-size="18.15" text-anchor="middle" transform="translate(18.5,2272.5) rotate(-90)">Total erratic movements (times)</text>
<line x1="621.2" y1="131.1" x2="621.2" y2="396.5" stroke="#000" stroke-width="3.2" />
<line x1="619.6" y1="394.9" x2="924.9" y2="394.9" stroke="#000" stroke-width="3.2" />
<line x1="621.2" y1="394.9" x2="627.2" y2="394.9" stroke="#000" stroke-width="2.8" />
<text x="616.6" y="401.19" font-size="18.5" text-anchor="end" fill="#000" >0</text>
<line x1="621.2" y1="342.24" x2="627.2" y2="342.24" stroke="#000" stroke-width="2.8" />
<text x="616.6" y="348.53" font-size="18.5" text-anchor="end" fill="#000" >100</text>
<line x1="621.2" y1="289.58" x2="627.2" y2="289.58" stroke="#000" stroke-width="2.8" />
<text x="616.6" y="295.87" font-size="18.5" text-anchor="end" fill="#000" >200</text>
<line x1="621.2" y1="236.92" x2="627.2" y2="236.92" stroke="#000" stroke-width="2.8" />
<text x="616.6" y="243.21" font-size="18.5" text-anchor="end" fill="#000" >300</text>
<line x1="621.2" y1="184.26" x2="627.2" y2="184.26" stroke="#000" stroke-width="2.8" />
<text x="616.6" y="190.55" font-size="18.5" text-anchor="end" fill="#000" >400</text>
<line x1="621.2" y1="131.6" x2="627.2" y2="131.6" stroke="#000" stroke-width="2.8" />
<text x="616.6" y="137.89" font-size="18.5" text-anchor="end" fill="#000" >500</text>
<line x1="621.2" y1="394.9" x2="621.2" y2="399.9" stroke="#000" stroke-width="2.5" />
<line x1="671.65" y1="394.9" x2="671.65" y2="398.9" stroke="#000" stroke-width="2.5" />
<line x1="722.1" y1="394.9" x2="722.1" y2="399.9" stroke="#000" stroke-width="2.5" />
<line x1="772.55" y1="394.9" x2="772.55" y2="398.9" stroke="#000" stroke-width="2.5" />
<line x1="823" y1="394.9" x2="823" y2="399.9" stroke="#000" stroke-width="2.5" />
<line x1="873.45" y1="394.9" x2="873.45" y2="398.9" stroke="#000" stroke-width="2.5" />
<line x1="923.9" y1="394.9" x2="923.9" y2="399.9" stroke="#000" stroke-width="2.5" />
<text x="621.2" y="420.4" font-size="18.5" text-anchor="middle" fill="#000" >0</text>
<text x="722.1" y="420.4" font-size="18.5" text-anchor="middle" fill="#000" >10</text>
<text x="823" y="420.4" font-size="18.5" text-anchor="middle" fill="#000" >20</text>
<text x="923.9" y="420.4" font-size="18.5" text-anchor="middle" fill="#000" >30</text>
<text x="772.8" y="447.9" font-size="18" text-anchor="middle" fill="#000" >Time (day)</text>
<g stroke-opacity="0.8">
<line x1="621.2" y1="331.71" x2="621.2" y2="387.58" stroke="#8c5e22" stroke-width="1.2" />
<line x1="617.4" y1="331.71" x2="625" y2="331.71" stroke="#8c5e22" stroke-width="1.2" />
<line x1="617.4" y1="387.58" x2="625" y2="387.58" stroke="#8c5e22" stroke-width="1.2" />
<line x1="631.29" y1="205.32" x2="631.29" y2="336.29" stroke="#8c5e22" stroke-width="1.2" />
<line x1="627.49" y1="205.32" x2="635.09" y2="205.32" stroke="#8c5e22" stroke-width="1.2" />
<line x1="627.49" y1="336.29" x2="635.09" y2="336.29" stroke="#8c5e22" stroke-width="1.2" />
<line x1="691.83" y1="255.61" x2="691.83" y2="315.38" stroke="#8c5e22" stroke-width="1.2" />
<line x1="688.03" y1="255.61" x2="695.63" y2="255.61" stroke="#8c5e22" stroke-width="1.2" />
<line x1="688.03" y1="315.38" x2="695.63" y2="315.38" stroke="#8c5e22" stroke-width="1.2" />
<line x1="903.72" y1="205.32" x2="903.72" y2="271.89" stroke="#8c5e22" stroke-width="1.2" />
<line x1="899.92" y1="205.32" x2="907.52" y2="205.32" stroke="#8c5e22" stroke-width="1.2" />
<line x1="899.92" y1="271.89" x2="907.52" y2="271.89" stroke="#8c5e22" stroke-width="1.2" />
</g>
<polyline points="621.2,357.62 631.29,234.6 691.83,255.61 903.72,210.38" fill="none" stroke="#8c5e22" stroke-width="1.9"/>
<polygon points="621.2,354.05 625.51,357.62 621.2,361.18 616.89,357.62" fill="#8c5e22"/>
<polygon points="631.29,231.04 635.6,234.6 631.29,238.17 626.98,234.6" fill="#8c5e22"/>
<polygon points="691.83,252.05 696.14,255.61 691.83,259.18 687.52,255.61" fill="#8c5e22"/>
<polygon points="903.72,206.82 908.03,210.38 903.72,213.94 899.41,210.38" fill="#8c5e22"/>
<g stroke-opacity="0.8">
<line x1="621.2" y1="288" x2="621.2" y2="373.84" stroke="#55a2fb" stroke-width="1.2" />
<line x1="617.4" y1="288" x2="625" y2="288" stroke="#55a2fb" stroke-width="1.2" />
<line x1="617.4" y1="373.84" x2="625" y2="373.84" stroke="#55a2fb" stroke-width="1.2" />
<line x1="631.29" y1="252.19" x2="631.29" y2="343.08" stroke="#55a2fb" stroke-width="1.2" />
<line x1="627.49" y1="252.19" x2="635.09" y2="252.19" stroke="#55a2fb" stroke-width="1.2" />
<line x1="627.49" y1="343.08" x2="635.09" y2="343.08" stroke="#55a2fb" stroke-width="1.2" />
<line x1="691.83" y1="272.73" x2="691.83" y2="272.73" stroke="#55a2fb" stroke-width="1.2" />
<line x1="688.03" y1="272.73" x2="695.63" y2="272.73" stroke="#55a2fb" stroke-width="1.2" />
<line x1="688.03" y1="272.73" x2="695.63" y2="272.73" stroke="#55a2fb" stroke-width="1.2" />
<line x1="903.72" y1="232.18" x2="903.72" y2="325.39" stroke="#55a2fb" stroke-width="1.2" />
<line x1="899.92" y1="232.18" x2="907.52" y2="232.18" stroke="#55a2fb" stroke-width="1.2" />
<line x1="899.92" y1="325.39" x2="907.52" y2="325.39" stroke="#55a2fb" stroke-width="1.2" />
</g>
<polyline points="621.2,330.92 631.29,296.11 691.83,232.81 903.72,292.48" fill="none" stroke="#55a2fb" stroke-width="1.9"/>
<polygon points="621.2,326.64 625.33,333.77 617.08,333.77" fill="#55a2fb"/>
<polygon points="631.29,291.83 635.42,298.96 627.17,298.96" fill="#55a2fb"/>
<polygon points="691.83,228.54 695.96,235.66 687.71,235.66" fill="#55a2fb"/>
<polygon points="903.72,288.2 907.85,295.33 899.6,295.33" fill="#55a2fb"/>
<g stroke-opacity="0.8">
<line x1="621.2" y1="205.32" x2="621.2" y2="205.32" stroke="#ff0000" stroke-width="1.2" />
<line x1="617.4" y1="205.32" x2="625" y2="205.32" stroke="#ff0000" stroke-width="1.2" />
<line x1="617.4" y1="205.32" x2="625" y2="205.32" stroke="#ff0000" stroke-width="1.2" />
<line x1="631.29" y1="205.32" x2="631.29" y2="205.32" stroke="#ff0000" stroke-width="1.2" />
<line x1="627.49" y1="205.32" x2="635.09" y2="205.32" stroke="#ff0000" stroke-width="1.2" />
<line x1="627.49" y1="205.32" x2="635.09" y2="205.32" stroke="#ff0000" stroke-width="1.2" />
<line x1="691.83" y1="205.32" x2="691.83" y2="291.79" stroke="#ff0000" stroke-width="1.2" />
<line x1="688.03" y1="205.32" x2="695.63" y2="205.32" stroke="#ff0000" stroke-width="1.2" />
<line x1="688.03" y1="291.79" x2="695.63" y2="291.79" stroke="#ff0000" stroke-width="1.2" />
<line x1="903.72" y1="205.32" x2="903.72" y2="302.59" stroke="#ff0000" stroke-width="1.2" />
<line x1="899.92" y1="205.32" x2="907.52" y2="205.32" stroke="#ff0000" stroke-width="1.2" />
<line x1="899.92" y1="302.59" x2="907.52" y2="302.59" stroke="#ff0000" stroke-width="1.2" />
</g>
<polyline points="621.2,205.32 631.29,205.32 691.83,205.32 903.72,221.28" fill="none" stroke="#ff0000" stroke-width="1.9"/>
<rect x="617.45" y="201.57" width="7.5" height="7.5" fill="#ff0000" stroke="none" stroke-width="0"/>
<rect x="627.54" y="201.57" width="7.5" height="7.5" fill="#ff0000" stroke="none" stroke-width="0"/>
<rect x="688.08" y="201.57" width="7.5" height="7.5" fill="#ff0000" stroke="none" stroke-width="0"/>
<rect x="899.97" y="217.53" width="7.5" height="7.5" fill="#ff0000" stroke="none" stroke-width="0"/>
<g stroke-opacity="0.8">
<line x1="621.2" y1="218.49" x2="621.2" y2="319.07" stroke="#10c010" stroke-width="1.2" />
<line x1="617.4" y1="218.49" x2="625" y2="218.49" stroke="#10c010" stroke-width="1.2" />
<line x1="617.4" y1="319.07" x2="625" y2="319.07" stroke="#10c010" stroke-width="1.2" />
<line x1="631.29" y1="245.87" x2="631.29" y2="312.22" stroke="#10c010" stroke-width="1.2" />
<line x1="627.49" y1="245.87" x2="635.09" y2="245.87" stroke="#10c010" stroke-width="1.2" />
<line x1="627.49" y1="312.22" x2="635.09" y2="312.22" stroke="#10c010" stroke-width="1.2" />
<line x1="691.83" y1="246.61" x2="691.83" y2="321.81" stroke="#10c010" stroke-width="1.2" />
<line x1="688.03" y1="246.61" x2="695.63" y2="246.61" stroke="#10c010" stroke-width="1.2" />
<line x1="688.03" y1="321.81" x2="695.63" y2="321.81" stroke="#10c010" stroke-width="1.2" />
<line x1="903.72" y1="205.85" x2="903.72" y2="272.2" stroke="#10c010" stroke-width="1.2" />
<line x1="899.92" y1="205.85" x2="907.52" y2="205.85" stroke="#10c010" stroke-width="1.2" />
<line x1="899.92" y1="272.2" x2="907.52" y2="272.2" stroke="#10c010" stroke-width="1.2" />
</g>
<polyline points="621.2,296.11 631.29,274.84 691.83,288.21 903.72,239.29" fill="none" stroke="#10c010" stroke-width="1.9"/>
<circle cx="621.2" cy="296.11" r="3.75" fill="#10c010"/>
<circle cx="631.29" cy="274.84" r="3.75" fill="#10c010"/>
<circle cx="691.83" cy="288.21" r="3.75" fill="#10c010"/>
<circle cx="903.72" cy="239.29" r="3.75" fill="#10c010"/>
<line x1="635.4" y1="144.7" x2="655.4" y2="144.7" stroke="#10c010" stroke-width="1.9" />
<circle cx="645.4" cy="144.7" r="3.75" fill="#10c010"/>
<text x="667.2" y="149.91" font-size="15.8" text-anchor="start" fill="#000" >Control</text>
<line x1="635.4" y1="162.2" x2="655.4" y2="162.2" stroke="#ff0000" stroke-width="1.9" />
<rect x="641.65" y="158.45" width="7.5" height="7.5" fill="#ff0000" stroke="none" stroke-width="0"/>
<text x="667.2" y="167.41" font-size="15.8" text-anchor="start" fill="#000" >Predator</text>
<line x1="728.1" y1="144.7" x2="748.1" y2="144.7" stroke="#55a2fb" stroke-width="1.9" />
<polygon points="738.1,140.42 742.23,147.55 733.98,147.55" fill="#55a2fb"/>
<text x="759.3" y="149.91" font-size="15.8" text-anchor="start" fill="#000" >Social isolation</text>
<line x1="728.1" y1="162.2" x2="748.1" y2="162.2" stroke="#8c5e22" stroke-width="1.9" />
<polygon points="738.1,158.64 742.41,162.2 738.1,165.76 733.79,162.2" fill="#8c5e22"/>
<text x="761" y="167.41" font-size="15.8" text-anchor="start" fill="#000" >Caffeine</text>
<text x="640.5" y="239.65" font-size="19" text-anchor="middle" fill="#c8782a" >*</text>
<text x="700.5" y="237.15" font-size="19" text-anchor="middle" fill="#1515ff" >*</text>
<text x="703.8" y="273.35" font-size="19" text-anchor="middle" fill="#c8782a" >*</text>
<text x="915.4" y="216.55" font-size="19" text-anchor="middle" fill="#c8782a" >*</text>
<text x="915.7" y="234.65" font-size="19" text-anchor="middle" fill="#ee2222" >*</text>
<text x="592.2" y="20.5" font-size="21.3" text-anchor="start" fill="#000" >B</text>
<text x="0" y="0" font-size="18.2" text-anchor="middle" transform="translate(581.5,261.8) rotate(-90)">Latency to top zone (s)</text>
<line x1="618.7" y1="530.4" x2="618.7" y2="800.1" stroke="#000" stroke-width="3.2" />
<line x1="617.1" y1="798.5" x2="925.7" y2="798.5" stroke="#000" stroke-width="3.2" />
<line x1="618.7" y1="798.5" x2="624.7" y2="798.5" stroke="#000" stroke-width="2.8" />
<text x="614.4" y="804.79" font-size="18.5" text-anchor="end" fill="#000" >0</text>
<line x1="618.7" y1="709.3" x2="624.7" y2="709.3" stroke="#000" stroke-width="2.8" />
<text x="614.4" y="715.59" font-size="18.5" text-anchor="end" fill="#000" >10</text>
<line x1="618.7" y1="620.1" x2="624.7" y2="620.1" stroke="#000" stroke-width="2.8" />
<text x="614.4" y="626.39" font-size="18.5" text-anchor="end" fill="#000" >20</text>
<line x1="618.7" y1="530.9" x2="624.7" y2="530.9" stroke="#000" stroke-width="2.8" />
<text x="614.4" y="537.19" font-size="18.5" text-anchor="end" fill="#000" >30</text>
<line x1="618.7" y1="798.5" x2="618.7" y2="803.5" stroke="#000" stroke-width="2.5" />
<line x1="669.7" y1="798.5" x2="669.7" y2="802.5" stroke="#000" stroke-width="2.5" />
<line x1="720.7" y1="798.5" x2="720.7" y2="803.5" stroke="#000" stroke-width="2.5" />
<line x1="771.7" y1="798.5" x2="771.7" y2="802.5" stroke="#000" stroke-width="2.5" />
<line x1="822.7" y1="798.5" x2="822.7" y2="803.5" stroke="#000" stroke-width="2.5" />
<line x1="873.7" y1="798.5" x2="873.7" y2="802.5" stroke="#000" stroke-width="2.5" />
<line x1="924.7" y1="798.5" x2="924.7" y2="803.5" stroke="#000" stroke-width="2.5" />
<text x="618.7" y="824" font-size="18.5" text-anchor="middle" fill="#000" >0</text>
<text x="720.7" y="824" font-size="18.5" text-anchor="middle" fill="#000" >10</text>
<text x="822.7" y="824" font-size="18.5" text-anchor="middle" fill="#000" >20</text>
<text x="924.7" y="824" font-size="18.5" text-anchor="middle" fill="#000" >30</text>
<text x="772" y="852" font-size="18" text-anchor="middle" fill="#000" >Time (day)</text>
<g stroke-opacity="1.0">
<line x1="618.7" y1="530.9" x2="618.7" y2="749.44" stroke="#8c5e22" stroke-width="1.2" />
<line x1="614.9" y1="530.9" x2="622.5" y2="530.9" stroke="#8c5e22" stroke-width="1.2" />
<line x1="614.9" y1="749.44" x2="622.5" y2="749.44" stroke="#8c5e22" stroke-width="1.2" />
<line x1="628.9" y1="689.68" x2="628.9" y2="798.5" stroke="#8c5e22" stroke-width="1.2" />
<line x1="625.1" y1="689.68" x2="632.7" y2="689.68" stroke="#8c5e22" stroke-width="1.2" />
<line x1="690.1" y1="716.44" x2="690.1" y2="798.5" stroke="#8c5e22" stroke-width="1.2" />
<line x1="686.3" y1="716.44" x2="693.9" y2="716.44" stroke="#8c5e22" stroke-width="1.2" />
<line x1="904.3" y1="767.28" x2="904.3" y2="798.5" stroke="#8c5e22" stroke-width="1.2" />
<line x1="900.5" y1="767.28" x2="908.1" y2="767.28" stroke="#8c5e22" stroke-width="1.2" />
</g>
<polyline points="618.7,617.42 628.9,776.2 690.1,789.58 904.3,789.58" fill="none" stroke="#8c5e22" stroke-width="1.9"/>
<polygon points="618.7,613.53 623.42,617.42 618.7,621.32 613.99,617.42" fill="#8c5e22"/>
<polygon points="628.9,772.31 633.62,776.2 628.9,780.1 624.19,776.2" fill="#8c5e22"/>
<polygon points="690.1,785.69 694.82,789.58 690.1,793.48 685.38,789.58" fill="#8c5e22"/>
<polygon points="904.3,785.69 909.01,789.58 904.3,793.48 899.58,789.58" fill="#8c5e22"/>
<g stroke-opacity="1.0">
<line x1="618.7" y1="591.56" x2="618.7" y2="765.5" stroke="#55a2fb" stroke-width="1.2" />
<line x1="614.9" y1="591.56" x2="622.5" y2="591.56" stroke="#55a2fb" stroke-width="1.2" />
<line x1="614.9" y1="765.5" x2="622.5" y2="765.5" stroke="#55a2fb" stroke-width="1.2" />
<line x1="628.9" y1="691.46" x2="628.9" y2="798.5" stroke="#55a2fb" stroke-width="1.2" />
<line x1="625.1" y1="691.46" x2="632.7" y2="691.46" stroke="#55a2fb" stroke-width="1.2" />
<line x1="690.1" y1="734.28" x2="690.1" y2="798.5" stroke="#55a2fb" stroke-width="1.2" />
<line x1="686.3" y1="734.28" x2="693.9" y2="734.28" stroke="#55a2fb" stroke-width="1.2" />
<line x1="904.3" y1="667.38" x2="904.3" y2="798.5" stroke="#55a2fb" stroke-width="1.2" />
<line x1="900.5" y1="667.38" x2="908.1" y2="667.38" stroke="#55a2fb" stroke-width="1.2" />
</g>
<polyline points="618.7,678.97 628.9,741.41 690.1,789.58 904.3,754.44" fill="none" stroke="#55a2fb" stroke-width="1.9"/>
<polygon points="618.7,674.3 623.21,682.09 614.19,682.09" fill="#55a2fb"/>
<polygon points="628.9,736.74 633.41,744.53 624.39,744.53" fill="#55a2fb"/>
<polygon points="690.1,784.91 694.61,792.7 685.59,792.7" fill="#55a2fb"/>
<polygon points="904.3,749.76 908.81,757.55 899.79,757.55" fill="#55a2fb"/>
<g stroke-opacity="1.0">
<line x1="618.7" y1="798.5" x2="618.7" y2="798.5" stroke="#ff0000" stroke-width="1.2" />
<line x1="614.9" y1="798.5" x2="622.5" y2="798.5" stroke="#ff0000" stroke-width="1.2" />
<line x1="628.9" y1="798.5" x2="628.9" y2="798.5" stroke="#ff0000" stroke-width="1.2" />
<line x1="625.1" y1="798.5" x2="632.7" y2="798.5" stroke="#ff0000" stroke-width="1.2" />
<line x1="690.1" y1="709.3" x2="690.1" y2="798.5" stroke="#ff0000" stroke-width="1.2" />
<line x1="686.3" y1="709.3" x2="693.9" y2="709.3" stroke="#ff0000" stroke-width="1.2" />
<line x1="904.3" y1="725.36" x2="904.3" y2="798.5" stroke="#ff0000" stroke-width="1.2" />
<line x1="900.5" y1="725.36" x2="908.1" y2="725.36" stroke="#ff0000" stroke-width="1.2" />
</g>
<polyline points="618.7,798.5 628.9,798.5 690.1,798.5 904.3,793.77" fill="none" stroke="#ff0000" stroke-width="1.9"/>
<rect x="614.6" y="794.4" width="8.2" height="8.2" fill="#ff0000" stroke="none" stroke-width="0"/>
<rect x="624.8" y="794.4" width="8.2" height="8.2" fill="#ff0000" stroke="none" stroke-width="0"/>
<rect x="686" y="794.4" width="8.2" height="8.2" fill="#ff0000" stroke="none" stroke-width="0"/>
<rect x="900.2" y="789.67" width="8.2" height="8.2" fill="#ff0000" stroke="none" stroke-width="0"/>
<g stroke-opacity="1.0">
<line x1="618.7" y1="608.5" x2="618.7" y2="798.5" stroke="#10c010" stroke-width="2.0" />
<line x1="614.9" y1="608.5" x2="622.5" y2="608.5" stroke="#10c010" stroke-width="2.0" />
<line x1="628.9" y1="682.54" x2="628.9" y2="798.5" stroke="#10c010" stroke-width="2.0" />
<line x1="625.1" y1="682.54" x2="632.7" y2="682.54" stroke="#10c010" stroke-width="2.0" />
<line x1="690.1" y1="685.22" x2="690.1" y2="798.5" stroke="#10c010" stroke-width="2.0" />
<line x1="686.3" y1="685.22" x2="693.9" y2="685.22" stroke="#10c010" stroke-width="2.0" />
<line x1="904.3" y1="694.14" x2="904.3" y2="798.5" stroke="#10c010" stroke-width="2.0" />
<line x1="900.5" y1="694.14" x2="908.1" y2="694.14" stroke="#10c010" stroke-width="2.0" />
</g>
<polyline points="618.7,740.52 628.9,749.71 690.1,754.44 904.3,758.72" fill="none" stroke="#10c010" stroke-width="1.9"/>
<circle cx="618.7" cy="740.52" r="4.1" fill="#10c010"/>
<circle cx="628.9" cy="749.71" r="4.1" fill="#10c010"/>
<circle cx="690.1" cy="754.44" r="4.1" fill="#10c010"/>
<circle cx="904.3" cy="758.72" r="4.1" fill="#10c010"/>
<line x1="632.5" y1="546" x2="652.5" y2="546" stroke="#10c010" stroke-width="1.9" />
<circle cx="642.5" cy="546" r="4.1" fill="#10c010"/>
<text x="665.1" y="551.31" font-size="16.1" text-anchor="start" fill="#000" >Control</text>
<line x1="632.5" y1="564.5" x2="652.5" y2="564.5" stroke="#ff0000" stroke-width="1.9" />
<rect x="638.4" y="560.4" width="8.2" height="8.2" fill="#ff0000" stroke="none" stroke-width="0"/>
<text x="665.1" y="569.81" font-size="16.1" text-anchor="start" fill="#000" >Predator</text>
<line x1="730.9" y1="546" x2="750.9" y2="546" stroke="#55a2fb" stroke-width="1.9" />
<polygon points="740.9,541.33 745.41,549.12 736.39,549.12" fill="#55a2fb"/>
<text x="763.5" y="551.31" font-size="16.1" text-anchor="start" fill="#000" >Social isolation</text>
<line x1="730.9" y1="564.5" x2="750.9" y2="564.5" stroke="#8c5e22" stroke-width="1.9" />
<polygon points="740.9,560.61 745.62,564.5 740.9,568.39 736.18,564.5" fill="#8c5e22"/>
<text x="764.6" y="569.81" font-size="16.1" text-anchor="start" fill="#000" >Caffeine</text>
<text x="637.3" y="744.55" font-size="19" text-anchor="middle" fill="#1515ff" >*</text>
<text x="636.2" y="779.25" font-size="19" text-anchor="middle" fill="#906428" >*</text>
<text x="697.6" y="779.25" font-size="19" text-anchor="middle" fill="#1515ff" >*</text>
<text x="697.6" y="791.55" font-size="19" text-anchor="middle" fill="#906428" >*</text>
<text x="912.8" y="755.45" font-size="19" text-anchor="middle" fill="#1515ff" >*</text>
<text x="912.8" y="792.65" font-size="19" text-anchor="middle" fill="#906428" >*</text>
<text x="592.2" y="451" font-size="21.3" text-anchor="start" fill="#000" >D</text>
<text x="0" y="0" font-size="18.7" text-anchor="middle" transform="translate(587,662.5) rotate(-90)">Number of entries to the top zone (times)</text>
<line x1="614.9" y1="945.3" x2="614.9" y2="1216.2" stroke="#000" stroke-width="3.2" />
<line x1="613.3" y1="1214.6" x2="924.9" y2="1214.6" stroke="#000" stroke-width="3.2" />
<line x1="614.9" y1="1214.6" x2="620.9" y2="1214.6" stroke="#000" stroke-width="2.8" />
<text x="610.2" y="1220.89" font-size="18.5" text-anchor="end" fill="#000" >0</text>
<line x1="614.9" y1="1125" x2="620.9" y2="1125" stroke="#000" stroke-width="2.8" />
<text x="610.2" y="1131.29" font-size="18.5" text-anchor="end" fill="#000" >10</text>
<line x1="614.9" y1="1035.4" x2="620.9" y2="1035.4" stroke="#000" stroke-width="2.8" />
<text x="610.2" y="1041.69" font-size="18.5" text-anchor="end" fill="#000" >20</text>
<line x1="614.9" y1="945.8" x2="620.9" y2="945.8" stroke="#000" stroke-width="2.8" />
<text x="610.2" y="952.09" font-size="18.5" text-anchor="end" fill="#000" >30</text>
<line x1="614.9" y1="1214.6" x2="614.9" y2="1219.6" stroke="#000" stroke-width="2.5" />
<line x1="666.4" y1="1214.6" x2="666.4" y2="1218.6" stroke="#000" stroke-width="2.5" />
<line x1="717.9" y1="1214.6" x2="717.9" y2="1219.6" stroke="#000" stroke-width="2.5" />
<line x1="769.4" y1="1214.6" x2="769.4" y2="1218.6" stroke="#000" stroke-width="2.5" />
<line x1="820.9" y1="1214.6" x2="820.9" y2="1219.6" stroke="#000" stroke-width="2.5" />
<line x1="872.4" y1="1214.6" x2="872.4" y2="1218.6" stroke="#000" stroke-width="2.5" />
<line x1="923.9" y1="1214.6" x2="923.9" y2="1219.6" stroke="#000" stroke-width="2.5" />
<text x="614.9" y="1241" font-size="18.5" text-anchor="middle" fill="#000" >0</text>
<text x="717.9" y="1241" font-size="18.5" text-anchor="middle" fill="#000" >10</text>
<text x="820.9" y="1241" font-size="18.5" text-anchor="middle" fill="#000" >20</text>
<text x="923.9" y="1241" font-size="18.5" text-anchor="middle" fill="#000" >30</text>
<text x="769" y="1269" font-size="18" text-anchor="middle" fill="#000" >Time (day)</text>
<g stroke-opacity="0.8">
<line x1="614.9" y1="968.2" x2="614.9" y2="1214.6" stroke="#8c5e22" stroke-width="1.2" />
<line x1="611.1" y1="968.2" x2="618.7" y2="968.2" stroke="#8c5e22" stroke-width="1.2" />
<line x1="625.2" y1="1134.86" x2="625.2" y2="1214.6" stroke="#8c5e22" stroke-width="1.2" />
<line x1="621.4" y1="1134.86" x2="629" y2="1134.86" stroke="#8c5e22" stroke-width="1.2" />
<line x1="687" y1="1173.38" x2="687" y2="1214.6" stroke="#8c5e22" stroke-width="1.2" />
<line x1="683.2" y1="1173.38" x2="690.8" y2="1173.38" stroke="#8c5e22" stroke-width="1.2" />
<line x1="903.3" y1="1212.81" x2="903.3" y2="1214.6" stroke="#8c5e22" stroke-width="1.2" />
<line x1="899.5" y1="1212.81" x2="907.1" y2="1212.81" stroke="#8c5e22" stroke-width="1.2" />
</g>
<polyline points="614.9,1107.08 625.2,1207.43 687,1211.91 903.3,1212.81" fill="none" stroke="#8c5e22" stroke-width="1.9"/>
<polygon points="614.9,1103.23 619.56,1107.08 614.9,1110.93 610.24,1107.08" fill="#8c5e22"/>
<polygon points="625.2,1203.58 629.86,1207.43 625.2,1211.28 620.54,1207.43" fill="#8c5e22"/>
<polygon points="687,1208.06 691.66,1211.91 687,1215.76 682.34,1211.91" fill="#8c5e22"/>
<polygon points="903.3,1208.96 907.96,1212.81 903.3,1216.66 898.64,1212.81" fill="#8c5e22"/>
<g stroke-opacity="0.8">
<line x1="614.9" y1="1144.71" x2="614.9" y2="1205.64" stroke="#55a2fb" stroke-width="1.2" />
<line x1="611.1" y1="1144.71" x2="618.7" y2="1144.71" stroke="#55a2fb" stroke-width="1.2" />
<line x1="611.1" y1="1205.64" x2="618.7" y2="1205.64" stroke="#55a2fb" stroke-width="1.2" />
<line x1="625.2" y1="1177.86" x2="625.2" y2="1214.6" stroke="#55a2fb" stroke-width="1.2" />
<line x1="621.4" y1="1177.86" x2="629" y2="1177.86" stroke="#55a2fb" stroke-width="1.2" />
<line x1="687" y1="1183.51" x2="687" y2="1214.6" stroke="#55a2fb" stroke-width="1.2" />
<line x1="683.2" y1="1183.51" x2="690.8" y2="1183.51" stroke="#55a2fb" stroke-width="1.2" />
<line x1="903.3" y1="1155.46" x2="903.3" y2="1214.6" stroke="#55a2fb" stroke-width="1.2" />
<line x1="899.5" y1="1155.46" x2="907.1" y2="1155.46" stroke="#55a2fb" stroke-width="1.2" />
</g>
<polyline points="614.9,1183.69 625.2,1201.79 687,1213.7 903.3,1188.62" fill="none" stroke="#55a2fb" stroke-width="1.9"/>
<polygon points="614.9,1179.07 619.36,1186.77 610.44,1186.77" fill="#55a2fb"/>
<polygon points="625.2,1197.17 629.65,1204.87 620.74,1204.87" fill="#55a2fb"/>
<polygon points="687,1209.09 691.46,1216.78 682.54,1216.78" fill="#55a2fb"/>
<polygon points="903.3,1184 907.75,1191.69 898.84,1191.69" fill="#55a2fb"/>
<g stroke-opacity="0.8">
<line x1="614.9" y1="1214.6" x2="614.9" y2="1214.6" stroke="#ff0000" stroke-width="1.2" />
<line x1="611.1" y1="1214.6" x2="618.7" y2="1214.6" stroke="#ff0000" stroke-width="1.2" />
<line x1="625.2" y1="1199.37" x2="625.2" y2="1214.6" stroke="#ff0000" stroke-width="1.2" />
<line x1="621.4" y1="1199.37" x2="629" y2="1199.37" stroke="#ff0000" stroke-width="1.2" />
<line x1="687" y1="1188.62" x2="687" y2="1214.6" stroke="#ff0000" stroke-width="1.2" />
<line x1="683.2" y1="1188.62" x2="690.8" y2="1188.62" stroke="#ff0000" stroke-width="1.2" />
<line x1="903.3" y1="1176.97" x2="903.3" y2="1214.6" stroke="#ff0000" stroke-width="1.2" />
<line x1="899.5" y1="1176.97" x2="907.1" y2="1176.97" stroke="#ff0000" stroke-width="1.2" />
</g>
<polyline points="614.9,1214.6 625.2,1214.6 687,1214.6 903.3,1214.6" fill="none" stroke="#ff0000" stroke-width="1.9"/>
<rect x="610.85" y="1210.55" width="8.1" height="8.1" fill="#ff0000" stroke="none" stroke-width="0"/>
<rect x="621.15" y="1210.55" width="8.1" height="8.1" fill="#ff0000" stroke="none" stroke-width="0"/>
<rect x="682.95" y="1210.55" width="8.1" height="8.1" fill="#ff0000" stroke="none" stroke-width="0"/>
<rect x="899.25" y="1210.55" width="8.1" height="8.1" fill="#ff0000" stroke="none" stroke-width="0"/>
<g stroke-opacity="0.8">
<line x1="614.9" y1="1125" x2="614.9" y2="1214.6" stroke="#10c010" stroke-width="1.2" />
<line x1="611.1" y1="1125" x2="618.7" y2="1125" stroke="#10c010" stroke-width="1.2" />
<line x1="625.2" y1="1140.23" x2="625.2" y2="1214.6" stroke="#10c010" stroke-width="1.2" />
<line x1="621.4" y1="1140.23" x2="629" y2="1140.23" stroke="#10c010" stroke-width="1.2" />
<line x1="687" y1="1150.98" x2="687" y2="1214.6" stroke="#10c010" stroke-width="1.2" />
<line x1="683.2" y1="1150.98" x2="690.8" y2="1150.98" stroke="#10c010" stroke-width="1.2" />
<line x1="903.3" y1="1150.98" x2="903.3" y2="1214.6" stroke="#10c010" stroke-width="1.2" />
<line x1="899.5" y1="1150.98" x2="907.1" y2="1150.98" stroke="#10c010" stroke-width="1.2" />
</g>
<polyline points="614.9,1199.01 625.2,1183.51 687,1193.63 903.3,1203.4" fill="none" stroke="#10c010" stroke-width="1.9"/>
<circle cx="614.9" cy="1199.01" r="4.05" fill="#10c010"/>
<circle cx="625.2" cy="1183.51" r="4.05" fill="#10c010"/>
<circle cx="687" cy="1193.63" r="4.05" fill="#10c010"/>
<circle cx="903.3" cy="1203.4" r="4.05" fill="#10c010"/>
<line x1="628.9" y1="961" x2="649.9" y2="961" stroke="#10c010" stroke-width="1.9" />
<circle cx="639.4" cy="961" r="4.05" fill="#10c010"/>
<text x="661.5" y="966.35" font-size="16.2" text-anchor="start" fill="#000" >Control</text>
<line x1="628.9" y1="980.9" x2="649.9" y2="980.9" stroke="#ff0000" stroke-width="1.9" />
<rect x="635.35" y="976.85" width="8.1" height="8.1" fill="#ff0000" stroke="none" stroke-width="0"/>
<text x="661.5" y="986.25" font-size="16.2" text-anchor="start" fill="#000" >Predator</text>
<line x1="736.7" y1="961" x2="757.7" y2="961" stroke="#55a2fb" stroke-width="1.9" />
<polygon points="747.2,956.38 751.66,964.08 742.75,964.08" fill="#55a2fb"/>
<text x="768.2" y="966.35" font-size="16.2" text-anchor="start" fill="#000" >Social isolation</text>
<line x1="736.7" y1="980.9" x2="757.7" y2="980.9" stroke="#8c5e22" stroke-width="1.9" />
<polygon points="747.2,977.05 751.86,980.9 747.2,984.75 742.54,980.9" fill="#8c5e22"/>
<text x="768.2" y="986.25" font-size="16.2" text-anchor="start" fill="#000" >Caffeine</text>
<text x="633.6" y="1205.15" font-size="19" text-anchor="middle" fill="#906428" >*</text>
<text x="694" y="1213.05" font-size="19" text-anchor="middle" fill="#906428" >*</text>
<text x="915.4" y="1216.65" font-size="19" text-anchor="middle" fill="#906428" >*</text>
<text x="592" y="852.4" font-size="21.3" text-anchor="start" fill="#000" >F</text>
<text x="0" y="0" font-size="18.8" text-anchor="middle" transform="translate(583.4,1078.3) rotate(-90)">Proportion of time spent in the top zone (%)</text>
<line x1="612.4" y1="1350.2" x2="612.4" y2="1629.1" stroke="#000" stroke-width="3.2" />
<line x1="610.8" y1="1627.5" x2="926" y2="1627.5" stroke="#000" stroke-width="3.2" />
<line x1="612.4" y1="1627.5" x2="618.4" y2="1627.5" stroke="#000" stroke-width="2.8" />
<text x="607.2" y="1633.79" font-size="18.5" text-anchor="end" fill="#000" >0</text>
<line x1="612.4" y1="1558.3" x2="618.4" y2="1558.3" stroke="#000" stroke-width="2.8" />
<text x="607.2" y="1564.59" font-size="18.5" text-anchor="end" fill="#000" >2</text>
<line x1="612.4" y1="1489.1" x2="618.4" y2="1489.1" stroke="#000" stroke-width="2.8" />
<text x="607.2" y="1495.39" font-size="18.5" text-anchor="end" fill="#000" >4</text>
<line x1="612.4" y1="1419.9" x2="618.4" y2="1419.9" stroke="#000" stroke-width="2.8" />
<text x="607.2" y="1426.19" font-size="18.5" text-anchor="end" fill="#000" >6</text>
<line x1="612.4" y1="1350.7" x2="618.4" y2="1350.7" stroke="#000" stroke-width="2.8" />
<text x="607.2" y="1356.99" font-size="18.5" text-anchor="end" fill="#000" >8</text>
<line x1="612.4" y1="1627.5" x2="612.4" y2="1632.5" stroke="#000" stroke-width="2.5" />
<line x1="664.5" y1="1627.5" x2="664.5" y2="1631.5" stroke="#000" stroke-width="2.5" />
<line x1="716.6" y1="1627.5" x2="716.6" y2="1632.5" stroke="#000" stroke-width="2.5" />
<line x1="768.7" y1="1627.5" x2="768.7" y2="1631.5" stroke="#000" stroke-width="2.5" />
<line x1="820.8" y1="1627.5" x2="820.8" y2="1632.5" stroke="#000" stroke-width="2.5" />
<line x1="872.9" y1="1627.5" x2="872.9" y2="1631.5" stroke="#000" stroke-width="2.5" />
<line x1="925" y1="1627.5" x2="925" y2="1632.5" stroke="#000" stroke-width="2.5" />
<text x="612.4" y="1653" font-size="18.5" text-anchor="middle" fill="#000" >0</text>
<text x="716.6" y="1653" font-size="18.5" text-anchor="middle" fill="#000" >10</text>
<text x="820.8" y="1653" font-size="18.5" text-anchor="middle" fill="#000" >20</text>
<text x="925" y="1653" font-size="18.5" text-anchor="middle" fill="#000" >30</text>
<text x="768.2" y="1682" font-size="18" text-anchor="middle" fill="#000" >Time (day)</text>
<g stroke-opacity="0.8">
<line x1="612.4" y1="1592.9" x2="612.4" y2="1627.5" stroke="#8c5e22" stroke-width="1.2" />
<line x1="608.6" y1="1592.9" x2="616.2" y2="1592.9" stroke="#8c5e22" stroke-width="1.2" />
<line x1="622.82" y1="1454.5" x2="622.82" y2="1592.9" stroke="#8c5e22" stroke-width="1.2" />
<line x1="619.02" y1="1454.5" x2="626.62" y2="1454.5" stroke="#8c5e22" stroke-width="1.2" />
<line x1="619.02" y1="1592.9" x2="626.62" y2="1592.9" stroke="#8c5e22" stroke-width="1.2" />
<line x1="685.34" y1="1454.5" x2="685.34" y2="1627.5" stroke="#8c5e22" stroke-width="1.2" />
<line x1="681.54" y1="1454.5" x2="689.14" y2="1454.5" stroke="#8c5e22" stroke-width="1.2" />
<line x1="904.16" y1="1558.3" x2="904.16" y2="1558.3" stroke="#8c5e22" stroke-width="1.2" />
<line x1="900.36" y1="1558.3" x2="907.96" y2="1558.3" stroke="#8c5e22" stroke-width="1.2" />
<line x1="900.36" y1="1558.3" x2="907.96" y2="1558.3" stroke="#8c5e22" stroke-width="1.2" />
</g>
<polyline points="612.4,1610.2 622.82,1523.7 685.34,1541 904.16,1558.3" fill="none" stroke="#8c5e22" stroke-width="1.9"/>
<polygon points="612.4,1606.16 617.29,1610.2 612.4,1614.24 607.51,1610.2" fill="#8c5e22"/>
<polygon points="622.82,1519.66 627.71,1523.7 622.82,1527.74 617.93,1523.7" fill="#8c5e22"/>
<polygon points="685.34,1536.96 690.23,1541 685.34,1545.04 680.45,1541" fill="#8c5e22"/>
<polygon points="904.16,1554.26 909.05,1558.3 904.16,1562.34 899.27,1558.3" fill="#8c5e22"/>
<g stroke-opacity="0.8">
<line x1="612.4" y1="1584.25" x2="612.4" y2="1627.5" stroke="#55a2fb" stroke-width="1.2" />
<line x1="608.6" y1="1584.25" x2="616.2" y2="1584.25" stroke="#55a2fb" stroke-width="1.2" />
<line x1="622.82" y1="1592.9" x2="622.82" y2="1627.5" stroke="#55a2fb" stroke-width="1.2" />
<line x1="619.02" y1="1592.9" x2="626.62" y2="1592.9" stroke="#55a2fb" stroke-width="1.2" />
<line x1="685.34" y1="1592.9" x2="685.34" y2="1627.5" stroke="#55a2fb" stroke-width="1.2" />
<line x1="681.54" y1="1592.9" x2="689.14" y2="1592.9" stroke="#55a2fb" stroke-width="1.2" />
<line x1="904.16" y1="1592.9" x2="904.16" y2="1592.9" stroke="#55a2fb" stroke-width="1.2" />
<line x1="900.36" y1="1592.9" x2="907.96" y2="1592.9" stroke="#55a2fb" stroke-width="1.2" />
<line x1="900.36" y1="1592.9" x2="907.96" y2="1592.9" stroke="#55a2fb" stroke-width="1.2" />
</g>
<polyline points="612.4,1592.9 622.82,1592.9 685.34,1592.9 904.16,1592.9" fill="none" stroke="#55a2fb" stroke-width="1.9"/>
<polygon points="612.4,1588.06 617.07,1596.13 607.73,1596.13" fill="#55a2fb"/>
<polygon points="622.82,1588.06 627.49,1596.13 618.14,1596.13" fill="#55a2fb"/>
<polygon points="685.34,1588.06 690.01,1596.13 680.66,1596.13" fill="#55a2fb"/>
<polygon points="904.16,1588.06 908.83,1596.13 899.49,1596.13" fill="#55a2fb"/>
<g stroke-opacity="0.8">
<line x1="612.4" y1="1489.1" x2="612.4" y2="1558.3" stroke="#ff0000" stroke-width="1.2" />
<line x1="608.6" y1="1489.1" x2="616.2" y2="1489.1" stroke="#ff0000" stroke-width="1.2" />
<line x1="608.6" y1="1558.3" x2="616.2" y2="1558.3" stroke="#ff0000" stroke-width="1.2" />
<line x1="622.82" y1="1385.3" x2="622.82" y2="1627.5" stroke="#ff0000" stroke-width="1.2" />
<line x1="619.02" y1="1385.3" x2="626.62" y2="1385.3" stroke="#ff0000" stroke-width="1.2" />
<line x1="685.34" y1="1523.7" x2="685.34" y2="1601.55" stroke="#ff0000" stroke-width="1.2" />
<line x1="681.54" y1="1523.7" x2="689.14" y2="1523.7" stroke="#ff0000" stroke-width="1.2" />
<line x1="681.54" y1="1601.55" x2="689.14" y2="1601.55" stroke="#ff0000" stroke-width="1.2" />
<line x1="904.16" y1="1523.7" x2="904.16" y2="1627.5" stroke="#ff0000" stroke-width="1.2" />
<line x1="900.36" y1="1523.7" x2="907.96" y2="1523.7" stroke="#ff0000" stroke-width="1.2" />
</g>
<polyline points="612.4,1523.7 622.82,1523.7 685.34,1558.3 904.16,1592.9" fill="none" stroke="#ff0000" stroke-width="1.9"/>
<rect x="608.15" y="1519.45" width="8.5" height="8.5" fill="#ff0000" stroke="none" stroke-width="0"/>
<rect x="618.57" y="1519.45" width="8.5" height="8.5" fill="#ff0000" stroke="none" stroke-width="0"/>
<rect x="681.09" y="1554.05" width="8.5" height="8.5" fill="#ff0000" stroke="none" stroke-width="0"/>
<rect x="899.91" y="1588.65" width="8.5" height="8.5" fill="#ff0000" stroke="none" stroke-width="0"/>
<g stroke-opacity="0.8">
<line x1="612.4" y1="1584.25" x2="612.4" y2="1601.55" stroke="#10c010" stroke-width="1.2" />
<line x1="608.6" y1="1584.25" x2="616.2" y2="1584.25" stroke="#10c010" stroke-width="1.2" />
<line x1="608.6" y1="1601.55" x2="616.2" y2="1601.55" stroke="#10c010" stroke-width="1.2" />
<line x1="622.82" y1="1523.7" x2="622.82" y2="1592.9" stroke="#10c010" stroke-width="1.2" />
<line x1="619.02" y1="1523.7" x2="626.62" y2="1523.7" stroke="#10c010" stroke-width="1.2" />
<line x1="619.02" y1="1592.9" x2="626.62" y2="1592.9" stroke="#10c010" stroke-width="1.2" />
<line x1="685.34" y1="1515.05" x2="685.34" y2="1601.55" stroke="#10c010" stroke-width="1.2" />
<line x1="681.54" y1="1515.05" x2="689.14" y2="1515.05" stroke="#10c010" stroke-width="1.2" />
<line x1="681.54" y1="1601.55" x2="689.14" y2="1601.55" stroke="#10c010" stroke-width="1.2" />
<line x1="904.16" y1="1549.65" x2="904.16" y2="1601.55" stroke="#10c010" stroke-width="1.2" />
<line x1="900.36" y1="1549.65" x2="907.96" y2="1549.65" stroke="#10c010" stroke-width="1.2" />
<line x1="900.36" y1="1601.55" x2="907.96" y2="1601.55" stroke="#10c010" stroke-width="1.2" />
</g>
<polyline points="612.4,1592.9 622.82,1558.3 685.34,1558.3 904.16,1592.9" fill="none" stroke="#10c010" stroke-width="1.9"/>
<circle cx="612.4" cy="1592.9" r="4.25" fill="#10c010"/>
<circle cx="622.82" cy="1558.3" r="4.25" fill="#10c010"/>
<circle cx="685.34" cy="1558.3" r="4.25" fill="#10c010"/>
<circle cx="904.16" cy="1592.9" r="4.25" fill="#10c010"/>
<line x1="627.1" y1="1358.8" x2="647.1" y2="1358.8" stroke="#10c010" stroke-width="1.9" />
<circle cx="637.1" cy="1358.8" r="4.25" fill="#10c010"/>
<text x="659.7" y="1364.24" font-size="16.5" text-anchor="start" fill="#000" >Control</text>
<line x1="627.1" y1="1376.2" x2="647.1" y2="1376.2" stroke="#ff0000" stroke-width="1.9" />
<rect x="632.85" y="1371.95" width="8.5" height="8.5" fill="#ff0000" stroke="none" stroke-width="0"/>
<text x="659.7" y="1381.64" font-size="16.5" text-anchor="start" fill="#000" >Predator</text>
<line x1="732" y1="1358.8" x2="752" y2="1358.8" stroke="#55a2fb" stroke-width="1.9" />
<polygon points="742,1353.95 746.67,1362.03 737.33,1362.03" fill="#55a2fb"/>
<text x="764.6" y="1364.24" font-size="16.5" text-anchor="start" fill="#000" >Social isolation</text>
<line x1="732" y1="1376.2" x2="752" y2="1376.2" stroke="#8c5e22" stroke-width="1.9" />
<polygon points="742,1372.16 746.89,1376.2 742,1380.24 737.11,1376.2" fill="#8c5e22"/>
<text x="764.6" y="1381.64" font-size="16.5" text-anchor="start" fill="#000" >Caffeine</text>
<text x="633.3" y="1525.15" font-size="19" text-anchor="middle" fill="#906428" >*</text>
<text x="694.8" y="1542.85" font-size="19" text-anchor="middle" fill="#906428" >*</text>
<text x="914.6" y="1567.45" font-size="19" text-anchor="middle" fill="#906428" >*</text>
<text x="914.6" y="1598.15" font-size="19" text-anchor="middle" fill="#ee2222" >*</text>
<text x="592.3" y="1272" font-size="21.3" text-anchor="start" fill="#000" >H</text>
<text x="0" y="0" font-size="19.2" text-anchor="middle" transform="translate(590,1487.5) rotate(-90)">Freezing bouts (times)</text>
<line x1="622.4" y1="1792.9" x2="622.4" y2="2054.7" stroke="#000" stroke-width="3.2" />
<line x1="620.8" y1="2053.1" x2="920.4" y2="2053.1" stroke="#000" stroke-width="3.2" />
<line x1="622.4" y1="2053.1" x2="628.4" y2="2053.1" stroke="#000" stroke-width="2.8" />
<text x="617.9" y="2059.39" font-size="18.5" text-anchor="end" fill="#000" >0</text>
<line x1="622.4" y1="1923.25" x2="628.4" y2="1923.25" stroke="#000" stroke-width="2.8" />
<text x="617.9" y="1929.54" font-size="18.5" text-anchor="end" fill="#000" >50</text>
<line x1="622.4" y1="1793.4" x2="628.4" y2="1793.4" stroke="#000" stroke-width="2.8" />
<text x="617.9" y="1799.69" font-size="18.5" text-anchor="end" fill="#000" >100</text>
<line x1="622.4" y1="2053.1" x2="622.4" y2="2058.1" stroke="#000" stroke-width="2.5" />
<line x1="671.9" y1="2053.1" x2="671.9" y2="2057.1" stroke="#000" stroke-width="2.5" />
<line x1="721.4" y1="2053.1" x2="721.4" y2="2058.1" stroke="#000" stroke-width="2.5" />
<line x1="770.9" y1="2053.1" x2="770.9" y2="2057.1" stroke="#000" stroke-width="2.5" />
<line x1="820.4" y1="2053.1" x2="820.4" y2="2058.1" stroke="#000" stroke-width="2.5" />
<line x1="869.9" y1="2053.1" x2="869.9" y2="2057.1" stroke="#000" stroke-width="2.5" />
<line x1="919.4" y1="2053.1" x2="919.4" y2="2058.1" stroke="#000" stroke-width="2.5" />
<text x="622.4" y="2078.5" font-size="18.5" text-anchor="middle" fill="#000" >0</text>
<text x="721.4" y="2078.5" font-size="18.5" text-anchor="middle" fill="#000" >10</text>
<text x="820.4" y="2078.5" font-size="18.5" text-anchor="middle" fill="#000" >20</text>
<text x="919.4" y="2078.5" font-size="18.5" text-anchor="middle" fill="#000" >30</text>
<text x="771" y="2106" font-size="18" text-anchor="middle" fill="#000" >Time (day)</text>
<g stroke-opacity="0.8">
<line x1="622.4" y1="1980.38" x2="622.4" y2="2053.1" stroke="#8c5e22" stroke-width="1.2" />
<line x1="618.6" y1="1980.38" x2="626.2" y2="1980.38" stroke="#8c5e22" stroke-width="1.2" />
<line x1="632.3" y1="1819.89" x2="632.3" y2="1980.12" stroke="#8c5e22" stroke-width="1.2" />
<line x1="628.5" y1="1819.89" x2="636.1" y2="1819.89" stroke="#8c5e22" stroke-width="1.2" />
<line x1="628.5" y1="1980.12" x2="636.1" y2="1980.12" stroke="#8c5e22" stroke-width="1.2" />
<line x1="691.7" y1="1879.62" x2="691.7" y2="1956.75" stroke="#8c5e22" stroke-width="1.2" />
<line x1="687.9" y1="1879.62" x2="695.5" y2="1879.62" stroke="#8c5e22" stroke-width="1.2" />
<line x1="687.9" y1="1956.75" x2="695.5" y2="1956.75" stroke="#8c5e22" stroke-width="1.2" />
<line x1="899.6" y1="1882.74" x2="899.6" y2="2022.97" stroke="#8c5e22" stroke-width="1.2" />
<line x1="895.8" y1="1882.74" x2="903.4" y2="1882.74" stroke="#8c5e22" stroke-width="1.2" />
<line x1="895.8" y1="2022.97" x2="903.4" y2="2022.97" stroke="#8c5e22" stroke-width="1.2" />
</g>
<polyline points="622.4,2052.32 632.3,1919.61 691.7,1956.75 899.6,1950" fill="none" stroke="#8c5e22" stroke-width="1.9"/>
<polygon points="622.4,2048.66 626.83,2052.32 622.4,2055.98 617.97,2052.32" fill="#8c5e22"/>
<polygon points="632.3,1915.96 636.73,1919.61 632.3,1923.27 627.87,1919.61" fill="#8c5e22"/>
<polygon points="691.7,1953.09 696.13,1956.75 691.7,1960.41 687.27,1956.75" fill="#8c5e22"/>
<polygon points="899.6,1946.34 904.03,1950 899.6,1953.66 895.17,1950" fill="#8c5e22"/>
<g stroke-opacity="0.8">
<line x1="622.4" y1="2007.13" x2="622.4" y2="2053.1" stroke="#55a2fb" stroke-width="1.2" />
<line x1="618.6" y1="2007.13" x2="626.2" y2="2007.13" stroke="#55a2fb" stroke-width="1.2" />
<line x1="632.3" y1="2008.95" x2="632.3" y2="2053.1" stroke="#55a2fb" stroke-width="1.2" />
<line x1="628.5" y1="2008.95" x2="636.1" y2="2008.95" stroke="#55a2fb" stroke-width="1.2" />
<line x1="691.7" y1="1866.12" x2="691.7" y2="2053.1" stroke="#55a2fb" stroke-width="1.2" />
<line x1="687.9" y1="1866.12" x2="695.5" y2="1866.12" stroke="#55a2fb" stroke-width="1.2" />
<line x1="899.6" y1="1985.06" x2="899.6" y2="2053.1" stroke="#55a2fb" stroke-width="1.2" />
<line x1="895.8" y1="1985.06" x2="903.4" y2="1985.06" stroke="#55a2fb" stroke-width="1.2" />
</g>
<polyline points="622.4,2045.83 632.3,2033.88 691.7,2022.97 899.6,2027.65" fill="none" stroke="#55a2fb" stroke-width="1.9"/>
<polygon points="622.4,2041.44 626.63,2048.75 618.16,2048.75" fill="#55a2fb"/>
<polygon points="632.3,2029.49 636.53,2036.81 628.06,2036.81" fill="#55a2fb"/>
<polygon points="691.7,2018.59 695.93,2025.9 687.46,2025.9" fill="#55a2fb"/>
<polygon points="899.6,2023.26 903.83,2030.58 895.36,2030.58" fill="#55a2fb"/>
<g stroke-opacity="0.8">
<line x1="622.4" y1="1808.46" x2="622.4" y2="1951.56" stroke="#ff0000" stroke-width="1.2" />
<line x1="618.6" y1="1808.46" x2="626.2" y2="1808.46" stroke="#ff0000" stroke-width="1.2" />
<line x1="618.6" y1="1951.56" x2="626.2" y2="1951.56" stroke="#ff0000" stroke-width="1.2" />
<line x1="632.3" y1="1830.8" x2="632.3" y2="1988.17" stroke="#ff0000" stroke-width="1.2" />
<line x1="628.5" y1="1830.8" x2="636.1" y2="1830.8" stroke="#ff0000" stroke-width="1.2" />
<line x1="628.5" y1="1988.17" x2="636.1" y2="1988.17" stroke="#ff0000" stroke-width="1.2" />
<line x1="691.7" y1="2017" x2="691.7" y2="2053.1" stroke="#ff0000" stroke-width="1.2" />
<line x1="687.9" y1="2017" x2="695.5" y2="2017" stroke="#ff0000" stroke-width="1.2" />
<line x1="899.6" y1="1879.1" x2="899.6" y2="2053.1" stroke="#ff0000" stroke-width="1.2" />
<line x1="895.8" y1="1879.1" x2="903.4" y2="1879.1" stroke="#ff0000" stroke-width="1.2" />
</g>
<polyline points="622.4,1841.7 632.3,1908.71 691.7,2017 899.6,1961.69" fill="none" stroke="#ff0000" stroke-width="1.9"/>
<rect x="618.55" y="1837.85" width="7.7" height="7.7" fill="#ff0000" stroke="none" stroke-width="0"/>
<rect x="628.45" y="1904.86" width="7.7" height="7.7" fill="#ff0000" stroke="none" stroke-width="0"/>
<rect x="687.85" y="2013.15" width="7.7" height="7.7" fill="#ff0000" stroke="none" stroke-width="0"/>
<rect x="895.75" y="1957.84" width="7.7" height="7.7" fill="#ff0000" stroke="none" stroke-width="0"/>
<g stroke-opacity="0.8">
<line x1="622.4" y1="1879.62" x2="622.4" y2="2029.73" stroke="#22ec22" stroke-width="1.2" />
<line x1="618.6" y1="1879.62" x2="626.2" y2="1879.62" stroke="#22ec22" stroke-width="1.2" />
<line x1="618.6" y1="2029.73" x2="626.2" y2="2029.73" stroke="#22ec22" stroke-width="1.2" />
<line x1="632.3" y1="1886.89" x2="632.3" y2="2039.6" stroke="#22ec22" stroke-width="1.2" />
<line x1="628.5" y1="1886.89" x2="636.1" y2="1886.89" stroke="#22ec22" stroke-width="1.2" />
<line x1="628.5" y1="2039.6" x2="636.1" y2="2039.6" stroke="#22ec22" stroke-width="1.2" />
<line x1="691.7" y1="1900.14" x2="691.7" y2="2033.1" stroke="#22ec22" stroke-width="1.2" />
<line x1="687.9" y1="1900.14" x2="695.5" y2="1900.14" stroke="#22ec22" stroke-width="1.2" />
<line x1="687.9" y1="2033.1" x2="695.5" y2="2033.1" stroke="#22ec22" stroke-width="1.2" />
<line x1="899.6" y1="1932.34" x2="899.6" y2="2048.43" stroke="#22ec22" stroke-width="1.2" />
<line x1="895.8" y1="1932.34" x2="903.4" y2="1932.34" stroke="#22ec22" stroke-width="1.2" />
<line x1="895.8" y1="2048.43" x2="903.4" y2="2048.43" stroke="#22ec22" stroke-width="1.2" />
</g>
<polyline points="622.4,1992.33 632.3,1968.18 691.7,1982.46 899.6,2012.59" fill="none" stroke="#22ec22" stroke-width="1.9"/>
<circle cx="622.4" cy="1992.33" r="3.85" fill="#22ec22"/>
<circle cx="632.3" cy="1968.18" r="3.85" fill="#22ec22"/>
<circle cx="691.7" cy="1982.46" r="3.85" fill="#22ec22"/>
<circle cx="899.6" cy="2012.59" r="3.85" fill="#22ec22"/>
<line x1="641.6" y1="1801.7" x2="662.6" y2="1801.7" stroke="#22ec22" stroke-width="1.9" />
<circle cx="652.1" cy="1801.7" r="3.85" fill="#22ec22"/>
<text x="672.3" y="1806.85" font-size="15.6" text-anchor="start" fill="#000" >Control</text>
<line x1="641.6" y1="1819.1" x2="662.6" y2="1819.1" stroke="#ff0000" stroke-width="1.9" />
<rect x="648.25" y="1815.25" width="7.7" height="7.7" fill="#ff0000" stroke="none" stroke-width="0"/>
<text x="672.3" y="1824.25" font-size="15.6" text-anchor="start" fill="#000" >Predator</text>
<line x1="741" y1="1801.7" x2="762" y2="1801.7" stroke="#55a2fb" stroke-width="1.9" />
<polygon points="751.5,1797.31 755.74,1804.63 747.26,1804.63" fill="#55a2fb"/>
<text x="772.5" y="1806.85" font-size="15.6" text-anchor="start" fill="#000" >Social isolation</text>
<line x1="741" y1="1819.1" x2="762" y2="1819.1" stroke="#8c5e22" stroke-width="1.9" />
<polygon points="751.5,1815.44 755.93,1819.1 751.5,1822.76 747.07,1819.1" fill="#8c5e22"/>
<text x="773.6" y="1824.25" font-size="15.6" text-anchor="start" fill="#000" >Caffeine</text>
<text x="639.8" y="1944.15" font-size="19" text-anchor="middle" fill="#906428" >*</text>
<text x="700.2" y="1958.65" font-size="19" text-anchor="middle" fill="#906428" >*</text>
<text x="700.2" y="2017.25" font-size="19" text-anchor="middle" fill="#ee2222" >*</text>
<text x="701.3" y="2043.65" font-size="19" text-anchor="middle" fill="#55a2fb" >*</text>
<text x="911.8" y="1956.05" font-size="19" text-anchor="middle" fill="#906428" >*</text>
<text x="911.8" y="1971.25" font-size="19" text-anchor="middle" fill="#ee2222" >*</text>
<text x="590.9" y="1709.2" font-size="21.3" text-anchor="start" fill="#000" >J</text>
<text x="0" y="0" font-size="18.06" text-anchor="middle" transform="translate(584.3,1922) rotate(-90)">Proportion of freezing time (%)</text>
<line x1="623" y1="2172.95" x2="623" y2="2438.3" stroke="#000" stroke-width="3.2" />
<line x1="621.4" y1="2436.7" x2="925.5" y2="2436.7" stroke="#000" stroke-width="3.2" />
<line x1="623" y1="2436.7" x2="629" y2="2436.7" stroke="#000" stroke-width="2.8" />
<text x="618.4" y="2442.99" font-size="18.5" text-anchor="end" fill="#000" >0</text>
<line x1="623" y1="2348.95" x2="629" y2="2348.95" stroke="#000" stroke-width="2.8" />
<text x="618.4" y="2355.24" font-size="18.5" text-anchor="end" fill="#000" >5</text>
<line x1="623" y1="2261.2" x2="629" y2="2261.2" stroke="#000" stroke-width="2.8" />
<text x="618.4" y="2267.49" font-size="18.5" text-anchor="end" fill="#000" >10</text>
<line x1="623" y1="2173.45" x2="629" y2="2173.45" stroke="#000" stroke-width="2.8" />
<text x="618.4" y="2179.74" font-size="18.5" text-anchor="end" fill="#000" >15</text>
<line x1="623" y1="2436.7" x2="623" y2="2441.7" stroke="#000" stroke-width="2.5" />
<line x1="673.25" y1="2436.7" x2="673.25" y2="2440.7" stroke="#000" stroke-width="2.5" />
<line x1="723.5" y1="2436.7" x2="723.5" y2="2441.7" stroke="#000" stroke-width="2.5" />
<line x1="773.75" y1="2436.7" x2="773.75" y2="2440.7" stroke="#000" stroke-width="2.5" />
<line x1="824" y1="2436.7" x2="824" y2="2441.7" stroke="#000" stroke-width="2.5" />
<line x1="874.25" y1="2436.7" x2="874.25" y2="2440.7" stroke="#000" stroke-width="2.5" />
<line x1="924.5" y1="2436.7" x2="924.5" y2="2441.7" stroke="#000" stroke-width="2.5" />
<text x="623" y="2462" font-size="18.5" text-anchor="middle" fill="#000" >0</text>
<text x="723.5" y="2462" font-size="18.5" text-anchor="middle" fill="#000" >10</text>
<text x="824" y="2462" font-size="18.5" text-anchor="middle" fill="#000" >20</text>
<text x="924.5" y="2462" font-size="18.5" text-anchor="middle" fill="#000" >30</text>
<text x="773" y="2489" font-size="18" text-anchor="middle" fill="#000" >Time (day)</text>
<g stroke-opacity="0.8">
<line x1="623" y1="2384.05" x2="623" y2="2436.7" stroke="#8c5e22" stroke-width="1.2" />
<line x1="619.2" y1="2384.05" x2="626.8" y2="2384.05" stroke="#8c5e22" stroke-width="1.2" />
<line x1="633.05" y1="2313.85" x2="633.05" y2="2436.7" stroke="#8c5e22" stroke-width="1.2" />
<line x1="629.25" y1="2313.85" x2="636.85" y2="2313.85" stroke="#8c5e22" stroke-width="1.2" />
<line x1="693.35" y1="2310.34" x2="693.35" y2="2436.7" stroke="#8c5e22" stroke-width="1.2" />
<line x1="689.55" y1="2310.34" x2="697.15" y2="2310.34" stroke="#8c5e22" stroke-width="1.2" />
<line x1="904.4" y1="2313.85" x2="904.4" y2="2436.7" stroke="#8c5e22" stroke-width="1.2" />
<line x1="900.6" y1="2313.85" x2="908.2" y2="2313.85" stroke="#8c5e22" stroke-width="1.2" />
</g>
<polyline points="623,2401.6 633.05,2375.27 693.35,2392.82 904.4,2392.82" fill="none" stroke="#8c5e22" stroke-width="1.9"/>
<polygon points="623,2397.89 627.49,2401.6 623,2405.3 618.51,2401.6" fill="#8c5e22"/>
<polygon points="633.05,2371.57 637.53,2375.27 633.05,2378.98 628.56,2375.27" fill="#8c5e22"/>
<polygon points="693.35,2389.12 697.84,2392.82 693.35,2396.53 688.87,2392.82" fill="#8c5e22"/>
<polygon points="904.4,2389.12 908.89,2392.82 904.4,2396.53 899.92,2392.82" fill="#8c5e22"/>
<g stroke-opacity="0.8">
<line x1="623" y1="2419.15" x2="623" y2="2436.7" stroke="#55a2fb" stroke-width="1.2" />
<line x1="619.2" y1="2419.15" x2="626.8" y2="2419.15" stroke="#55a2fb" stroke-width="1.2" />
<line x1="633.05" y1="2378.78" x2="633.05" y2="2436.7" stroke="#55a2fb" stroke-width="1.2" />
<line x1="629.25" y1="2378.78" x2="636.85" y2="2378.78" stroke="#55a2fb" stroke-width="1.2" />
<line x1="693.35" y1="2345.44" x2="693.35" y2="2424.41" stroke="#55a2fb" stroke-width="1.2" />
<line x1="689.55" y1="2345.44" x2="697.15" y2="2345.44" stroke="#55a2fb" stroke-width="1.2" />
<line x1="689.55" y1="2424.41" x2="697.15" y2="2424.41" stroke="#55a2fb" stroke-width="1.2" />
<line x1="904.4" y1="2308.59" x2="904.4" y2="2436.7" stroke="#55a2fb" stroke-width="1.2" />
<line x1="900.6" y1="2308.59" x2="908.2" y2="2308.59" stroke="#55a2fb" stroke-width="1.2" />
</g>
<polyline points="623,2436.7 633.05,2419.15 693.35,2375.27 904.4,2392.82" fill="none" stroke="#55a2fb" stroke-width="1.9"/>
<polygon points="623,2432.25 627.29,2439.66 618.71,2439.66" fill="#55a2fb"/>
<polygon points="633.05,2414.7 637.34,2422.11 628.76,2422.11" fill="#55a2fb"/>
<polygon points="693.35,2370.83 697.64,2378.24 689.06,2378.24" fill="#55a2fb"/>
<polygon points="904.4,2388.38 908.69,2395.79 900.11,2395.79" fill="#55a2fb"/>
<g stroke-opacity="0.8">
<line x1="623" y1="2243.65" x2="623" y2="2366.5" stroke="#ff0000" stroke-width="1.2" />
<line x1="619.2" y1="2243.65" x2="626.8" y2="2243.65" stroke="#ff0000" stroke-width="1.2" />
<line x1="619.2" y1="2366.5" x2="626.8" y2="2366.5" stroke="#ff0000" stroke-width="1.2" />
<line x1="633.05" y1="2269.97" x2="633.05" y2="2410.38" stroke="#ff0000" stroke-width="1.2" />
<line x1="629.25" y1="2269.97" x2="636.85" y2="2269.97" stroke="#ff0000" stroke-width="1.2" />
<line x1="629.25" y1="2410.38" x2="636.85" y2="2410.38" stroke="#ff0000" stroke-width="1.2" />
<line x1="693.35" y1="2269.97" x2="693.35" y2="2436.7" stroke="#ff0000" stroke-width="1.2" />
<line x1="689.55" y1="2269.97" x2="697.15" y2="2269.97" stroke="#ff0000" stroke-width="1.2" />
<line x1="904.4" y1="2313.85" x2="904.4" y2="2436.7" stroke="#ff0000" stroke-width="1.2" />
<line x1="900.6" y1="2313.85" x2="908.2" y2="2313.85" stroke="#ff0000" stroke-width="1.2" />
</g>
<polyline points="623,2305.07 633.05,2340.17 693.35,2384.05 904.4,2419.15" fill="none" stroke="#ff0000" stroke-width="1.9"/>
<rect x="619.1" y="2301.17" width="7.8" height="7.8" fill="#ff0000" stroke="none" stroke-width="0"/>
<rect x="629.15" y="2336.27" width="7.8" height="7.8" fill="#ff0000" stroke="none" stroke-width="0"/>
<rect x="689.45" y="2380.15" width="7.8" height="7.8" fill="#ff0000" stroke="none" stroke-width="0"/>
<rect x="900.5" y="2415.25" width="7.8" height="7.8" fill="#ff0000" stroke="none" stroke-width="0"/>
<g stroke-opacity="0.8">
<line x1="623" y1="2313.85" x2="623" y2="2436.7" stroke="#10c010" stroke-width="1.2" />
<line x1="619.2" y1="2313.85" x2="626.8" y2="2313.85" stroke="#10c010" stroke-width="1.2" />
<line x1="633.05" y1="2341.93" x2="633.05" y2="2436.7" stroke="#10c010" stroke-width="1.2" />
<line x1="629.25" y1="2341.93" x2="636.85" y2="2341.93" stroke="#10c010" stroke-width="1.2" />
<line x1="693.35" y1="2348.95" x2="693.35" y2="2436.7" stroke="#10c010" stroke-width="1.2" />
<line x1="689.55" y1="2348.95" x2="697.15" y2="2348.95" stroke="#10c010" stroke-width="1.2" />
<line x1="904.4" y1="2305.07" x2="904.4" y2="2436.7" stroke="#10c010" stroke-width="1.2" />
<line x1="900.6" y1="2305.07" x2="908.2" y2="2305.07" stroke="#10c010" stroke-width="1.2" />
</g>
<polyline points="623,2392.82 633.05,2392.82 693.35,2436.7 904.4,2410.38" fill="none" stroke="#10c010" stroke-width="1.9"/>
<circle cx="623" cy="2392.82" r="3.9" fill="#10c010"/>
<circle cx="633.05" cy="2392.82" r="3.9" fill="#10c010"/>
<circle cx="693.35" cy="2436.7" r="3.9" fill="#10c010"/>
<circle cx="904.4" cy="2410.38" r="3.9" fill="#10c010"/>
<line x1="638" y1="2187.1" x2="658" y2="2187.1" stroke="#10c010" stroke-width="1.9" />
<circle cx="648" cy="2187.1" r="3.9" fill="#10c010"/>
<text x="668.7" y="2192.31" font-size="15.8" text-anchor="start" fill="#000" >Control</text>
<line x1="638" y1="2205.9" x2="658" y2="2205.9" stroke="#ff0000" stroke-width="1.9" />
<rect x="644.1" y="2202" width="7.8" height="7.8" fill="#ff0000" stroke="none" stroke-width="0"/>
<text x="668.7" y="2211.11" font-size="15.8" text-anchor="start" fill="#000" >Predator</text>
<line x1="741.8" y1="2187.1" x2="761.8" y2="2187.1" stroke="#55a2fb" stroke-width="1.9" />
<polygon points="751.8,2182.65 756.09,2190.06 747.51,2190.06" fill="#55a2fb"/>
<text x="772.9" y="2192.31" font-size="15.8" text-anchor="start" fill="#000" >Social isolation</text>
<line x1="741.8" y1="2205.9" x2="761.8" y2="2205.9" stroke="#8c5e22" stroke-width="1.9" />
<polygon points="751.8,2202.2 756.28,2205.9 751.8,2209.61 747.31,2205.9" fill="#8c5e22"/>
<text x="772.9" y="2211.11" font-size="15.8" text-anchor="start" fill="#000" >Caffeine</text>
<text x="702" y="2374.75" font-size="19" text-anchor="middle" fill="#55a2fb" >*</text>
<text x="915.4" y="2392.85" font-size="19" text-anchor="middle" fill="#55a2fb" >*</text>
<text x="916.5" y="2423.65" font-size="19" text-anchor="middle" fill="#ee2222" >*</text>
<text x="587.9" y="2106.4" font-size="21.3" text-anchor="start" fill="#000" >L</text>
<text x="0" y="0" font-size="18.27" text-anchor="middle" transform="translate(593.6,2302.9) rotate(-90)">Total erratic movements (times)</text>
</svg></body></html>
